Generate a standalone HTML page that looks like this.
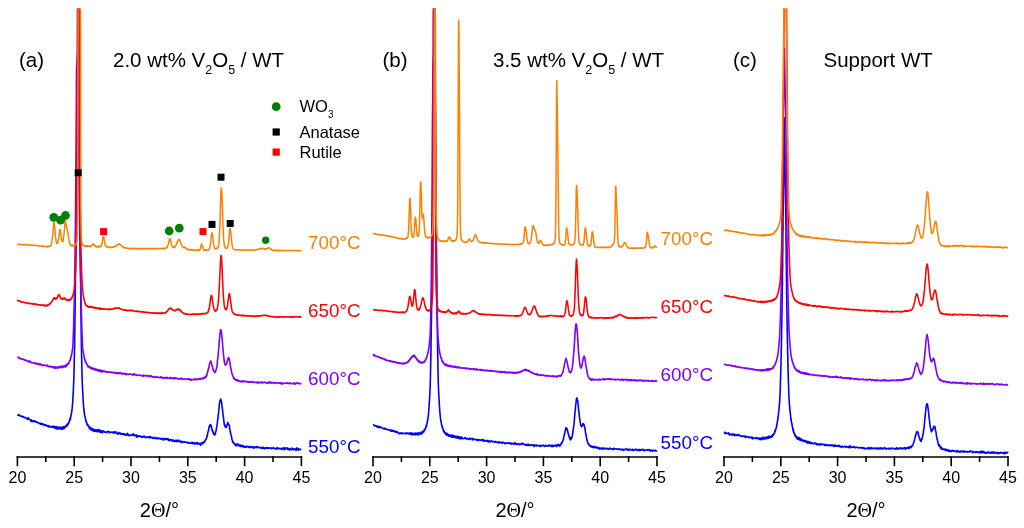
<!DOCTYPE html>
<html><head><meta charset="utf-8"><style>
html,body{margin:0;padding:0;background:#fff;width:1024px;height:528px;overflow:hidden}
svg{display:block;will-change:transform}
text{font-family:"Liberation Sans",sans-serif;fill:#000}
.tt{font-size:20.5px}
.sub{font-size:12.5px}
.sub2{font-size:10px}
.lg{font-size:16.5px}
.tl{font-size:18.8px}
.tk{font-size:16px}
.at{font-size:20px}
</style></head><body>
<svg width="1024" height="528" viewBox="0 0 1024 528">
<defs><clipPath id="clip"><rect x="0" y="8.6" width="1024" height="520"/></clipPath></defs>
<g clip-path="url(#clip)">
<path d="M17.4 414.7l.4 .4l.5 0l.5 -.6l.4 1.2l.4 0l.5 -.3l.5 .7l.4 .1l.4 .2l.5 0l.5 .5l.4 -.5l.4 .5l.5 0l.5 .8l.4 -.1l.4 0l.5 -.1l.5 .5l.4 .3l.4 0l.5 1l.5 .1l.4 -1.7l.4 .6l.5 1l.5 .1l.4 .5l.4 .2l.5 1.1l.5 -1.4l.4 .5l.4 1.4l.5 -.5l.5 .2l.4 -.4l.4 -.4l.5 1l.5 .1l.4 -.5l.4 .5l.5 .4l.5 -.2l.4 .5l.4 .3l.5 .1l.5 -.1l.4 .7l.4 .3l.5 -.1l.5 -.4l.4 .9l.4 -.4l.5 .8l.5 -.8l.4 1.1l.4 -.3l.5 -.4l.5 .6l.4 .3l.4 .3l.5 -.5l.5 .1l.4 .8l.4 -.2l.5 .5l.5 .5l.4 -1.1l.4 1l.5 .6l.5 -.7l.4 -.2l.4 .9l.5 -.2l.5 .4l.4 -.5l.4 -.5l.5 .8l.5 -.1l0 .6l.1 -.3l.1 -.9l.1 .3l.1 1l.1 0l.1 -.7l.1 .4l.1 .2l.1 .2l.1 -.3l.1 -.1l.1 -.1l.1 .7l.1 -1.7l.1 1.1l.1 .1l.1 -.7l.1 .9l0 -.5l.1 .8l.1 -.5l.1 .4l.1 .3l.1 -.4l.1 -.6l.1 -.3l.1 1.6l0 -.9l.1 -.3l.1 .5l.1 -.2l.1 .6l.1 -.4l.1 0l.1 -.4l.1 .6l.1 -.7l.1 .9l0 .4l.1 -1.5l.1 -.5l.1 1.6l.1 1l.1 -1.8l.1 -.1l.1 .9l.1 -.7l0 .2l.1 .1l.1 .4l.1 -.4l.1 .3l.1 -.2l.1 -.3l.1 .3l.1 -.3l.1 .5l.1 -.6l.1 1.3l.1 -.7l.1 0l.1 .3l.1 -.4l.1 .1l.1 .3l.1 -.1l0 -.7l.1 1l.1 -.7l.1 -.2l.1 .1l.1 .3l.1 1l.1 -1.4l.1 .7l.1 -1.2l.1 1.1l0 .4l.1 -.5l.1 -.2l.1 .4l.1 .2l.1 0l.1 .7l.1 -.9l.1 -.4l0 .2l.1 0l.1 .1l.1 -.1l.1 .1l.1 -.9l.1 1.3l.1 -.7l.1 -.4l.1 .9l.1 .4l0 -.4l.1 -.2l.1 -.6l.1 1.9l.1 -1l.1 -1.1l.1 .2l.1 .4l.1 -.8l0 .8l.1 -.3l.1 .8l.1 -.2l.1 -1.8l.1 1.3l.1 -.9l.1 1.4l.1 -.5l.1 .1l.1 -.8l0 1.4l.1 .1l.1 -1.6l.1 .7l.1 -.6l.1 .3l.1 -.7l.1 1.5l.1 -1.4l0 .3l.1 .3l.1 -.6l.1 .2l.1 -.3l.1 .2l.1 -.6l.1 .3l.1 .1l.1 -.2l.1 .2l0 -.2l.1 .4l.1 -.6l.1 .1l.1 -.4l.1 0l.1 -.4l.1 .8l.1 -1l0 .2l.1 .5l.1 -.1l.1 -.5l.1 -.9l.1 1.1l.1 -.2l.1 -.9l.1 1l.1 -.9l.1 -.3l0 .6l.1 -.3l.1 .1l.1 -1.1l.1 1.6l.1 -1.4l.1 -.6l.1 .9l.1 -.6l0 .2l.1 -.4l.1 0l.1 0l.1 -.7l.1 .5l.1 -.8l.1 -.4l.1 .3l.1 0l.1 -.5l0 -.4l.1 .5l.1 -1.4l.1 .1l.1 .3l.1 -1l.1 .4l.1 -.4l.1 .2l0 -1.1l.1 0l.1 .1l.1 -1.7l.1 2.4l.1 -2.3l.1 -.4l.1 .4l.1 -.9l.1 -1.3l.1 1l0 -.2l.1 -1.1l.1 -.4l.1 -.1l.1 -1.2l.1 .1l.1 -.7l.1 -1l.1 -1l0 .1l.1 -.8l.1 .1l.1 -1.4l.1 -.7l.1 -1.4l.1 -1l.1 -1.7l.1 -.5l.1 -.7l.1 -1.8l0 -.9l.1 -1.5l.1 -2l.1 -1.9l.1 -1.6l.1 -2.2l.1 -1.1l.1 -2.9l.1 -2l0 -.8l.1 -1.8l.1 -1.6l.1 -4.5l.1 -3.8l.1 -3.7l.1 -4.1l.1 -5.2l.1 -4.2l.1 -6l.1 -1.3l0 -3.7l.1 -6.4l.1 -6.8l.1 -6.9l.1 -7.6l.1 -8.6l.1 -8.7l.1 -9.1l.1 -10.2l0 -1.9l.1 -2.6l.1 -6l.1 -5.5l.1 -6.7l.1 -5.1l.1 -6.6l.1 -6.3l.1 -6.2l.1 -8.9l.1 -2.3l0 -4.3l.1 -6.6l.1 -8.7l.1 -7.6l.1 -8l.1 -8.3l.1 -9.2l.1 -9.6l.1 -9.4l0 -4.2l.1 -5.4l.1 -11.1l.1 -110.3l.1 -13.4l.1 0l.1 0l.1 0l.1 0l.1 0l.1 0l.1 0l.1 0l.1 13l.1 111.7l.1 10.8l.1 9.6l.1 8.6l.1 10l0 4.7l.1 5.1l.1 6.7l.1 8.8l.1 9l.1 6.4l.1 7.6l.1 8.1l.1 7.2l.1 5.9l.1 3.9l0 3l.1 7l.1 5.3l.1 6.4l.1 4.7l.1 5.9l.1 5.3l.1 10.8l.1 9.1l0 3.8l.1 5.1l.1 8.2l.1 7.3l.1 7l.1 6.7l.1 5.5l.1 6.7l.1 5.2l.1 4.4l.1 3.1l0 1.2l.1 4.6l.1 4l.1 5l.1 1.7l.1 3.5l.1 2.5l.1 1.9l.1 2.5l.1 .3l.1 3.5l.1 1.1l.1 2.3l.1 1.4l.1 2.8l.1 1.5l.1 .5l.1 2l.1 .2l0 .4l.1 1.3l.1 .9l.1 1.4l.1 .8l.1 .6l.1 1.6l.1 -.1l.1 1l0 .4l.1 .8l.1 -.4l.1 1.6l.1 -.2l.1 .3l.1 .2l.1 1.1l.1 .2l.1 -.2l.1 .2l0 .5l.1 .4l.1 1.3l.1 .5l.1 .1l.1 .1l.1 0l.1 .5l.1 .8l0 .8l.1 -.5l.1 -.3l.1 .5l.1 0l.1 .1l.1 .5l.1 .4l.1 1.1l.1 -.7l.1 .8l0 .3l.1 -.7l.1 1l.1 -.2l.1 -.4l.1 .5l.1 .1l.1 0l.1 .2l0 .3l.1 .2l.1 -.5l.1 .6l.1 -.6l.1 1l.1 .3l.1 0l.1 .2l.1 .2l.1 -.5l0 .3l.1 .5l.1 .3l.1 -.2l.1 1.2l.1 -1.2l.1 .7l.1 .2l.1 -.6l0 -.3l.1 -.1l.1 .7l.1 .6l.1 -.3l.1 0l.1 -.2l.1 .6l.1 -1.3l.1 1.3l.1 -.1l0 -.7l.1 1.9l.1 -1.7l.1 .2l.1 0l.1 1.2l.1 -.9l.1 .8l.1 0l0 -.1l.1 -.7l.1 .4l.1 1.2l.1 -1.5l.1 .3l.1 .4l.1 .5l.1 -.2l.1 .3l.1 -.9l0 1.1l.1 -.2l.1 -1l.1 1.6l.1 .4l.1 -1.5l.1 .5l.1 .7l.1 -1.4l0 -.2l.1 .3l.1 .4l.1 .1l.1 .6l.1 -.1l.1 -.7l.1 .9l.1 .7l.1 -.4l.1 -.1l0 -.4l.1 .5l.1 -1l.1 .9l.1 -.4l.1 .6l.1 -.3l.1 -.7l.1 .6l0 .5l.1 -1.1l.1 .3l.1 -.1l.1 -.4l.1 1.3l.1 .2l.1 -.3l.1 -.2l.1 -.1l.1 .1l0 -.5l.1 .9l.1 .1l.1 -.1l.1 -.7l.1 .3l.1 -.1l.1 1l.1 -.8l0 -1l.1 1.1l.1 .8l.1 -.6l.1 .1l.1 -.4l.1 -1l.1 .1l.1 .3l.1 .6l.1 .2l0 .2l.1 -.5l.1 .7l.1 -.6l.1 -.2l.1 .8l.1 -.9l.1 -.9l.1 .9l0 .6l.1 -1.6l.1 1.3l.1 .1l.1 -.6l.1 0l.1 .6l.1 -.1l.1 .9l.1 -.4l.1 -1l0 .4l.1 .8l.1 .6l.1 -.7l.1 -.1l.1 .8l.1 -.9l.1 -.1l.1 -.6l0 .5l.1 1.3l.1 -1.7l.1 .7l.1 -.7l.1 .8l.1 .4l.1 -.6l.1 .5l.1 0l.1 -.1l0 .6l.1 -.4l.1 -.6l.1 -.1l.1 -.1l.1 .7l.1 -.4l.1 1.5l.1 -.4l0 -1l.1 -.1l.1 1l.1 -1.7l.1 .7l.1 .7l.5 -.9l.4 .3l.4 .1l.5 .6l.5 -.2l.4 .1l.4 .2l.5 -.2l.5 .5l.4 -.8l.4 -.3l.5 -.2l.5 .2l.4 .6l.4 .8l.5 -.4l.5 -.3l.4 -.2l.4 .3l.5 .1l.5 0l.4 -.4l.4 .5l.5 .8l.5 -1.6l.4 1l.4 -.9l.5 1.2l.5 -.4l.4 -.6l.4 1.2l.5 .9l.5 -.8l.4 .6l.4 -.5l.5 -1l.5 1.4l.4 -.4l.4 -.4l.5 1.2l.5 -.2l.4 -.4l.4 .8l.5 -.8l.5 .8l.4 -.7l.4 .8l.5 -.7l.5 1.3l.4 -.5l.4 .6l.5 -1l.5 .2l.4 .7l.4 -1.7l.5 .9l.5 1.1l.4 -.2l.4 .4l.5 -.6l.5 .5l.4 -.6l.4 -.3l.5 -.1l.5 .7l.4 0l.4 0l.5 -1.4l.5 .8l.4 .8l.4 .5l.5 -.4l.5 -.1l.4 -.6l.4 2.2l.5 -1.5l.5 1.4l.4 0l.4 -.6l.5 -.4l.5 .4l.4 -.6l.4 .8l.5 -.1l.5 .3l.4 .3l.4 .5l.5 -1.1l.5 .8l.4 -.9l.4 0l.5 .2l.5 -.1l.4 1l.4 .1l.5 .2l.5 -.6l.4 .2l.4 -.4l.5 -.2l.5 .8l.4 0l.4 -.6l.5 .9l.5 -1.2l.4 .9l.4 -.2l.5 .1l.5 -.2l.4 1.1l.4 -.2l.5 .4l.5 -.5l.4 -.6l.4 .5l.5 -.4l.5 .9l.4 .4l.4 -.4l.5 -.4l.5 .2l.4 .4l.4 -.8l.5 .8l.5 .1l.4 -.3l.4 .1l.5 .4l.5 -.5l.4 .1l.4 .8l.5 -.2l.5 .8l.4 -1.3l.4 -.3l.5 1.4l.5 0l.4 -.8l.4 -.3l.5 .8l.5 -.8l.4 .8l.4 -.9l.5 1.1l.5 -.9l.4 1l.4 1l.5 -.9l.5 .6l.4 -.6l.4 -.1l.5 -.2l.5 1.3l.4 -.4l.4 .9l.5 -1.4l.5 .6l.4 .2l.4 .7l.5 .3l.5 -1.2l.4 -.1l.4 -.3l.5 1.6l.5 -.6l.4 -.2l.4 .3l.5 -1.2l.5 .5l.4 1.4l.4 -.2l.5 0l.5 -.6l.4 .9l.4 .7l.5 -1.5l.5 .7l.4 -.2l.4 .5l.5 -.1l.5 0l.4 -.3l.4 .5l.5 -.3l.5 .3l.4 .1l.4 .4l.5 -.5l.5 .2l.4 .7l.4 -.6l.5 .1l.5 .6l.4 -.3l.4 0l.5 .1l.5 -.7l.4 .9l.4 .5l.4 -.4l.1 -1l.5 .9l.3 -.5l.1 .3l.4 .2l.4 -.6l.1 1.3l.5 -.7l.3 .4l.1 0l.4 .3l.4 0l.1 -1.3l.5 .7l.3 -1l.1 .8l.4 .6l.4 .1l.1 .2l.5 -.8l.2 .3l.2 -.1l.4 .6l.3 .1l.2 -1l.5 2.1l.2 -1.9l.2 -.2l.4 .4l.3 0l.2 -.1l.1 -.6l.4 .9l.2 -.8l.2 .7l.2 -.2l.2 -1.5l.3 0l.2 -.1l.2 .5l.3 -.3l.2 -.2l.2 -.8l.3 .3l.1 .2l.3 -1.7l.2 .1l.3 -.4l.2 -.5l.2 -.6l.2 .3l.4 -1.4l0 -.5l.3 -1.6l.2 .7l.4 -2.6l.1 -.6l.2 -.8l.2 -1.1l.4 -.6l.1 -1l.2 -.8l.2 -2l.5 .1l0 -1.1l.2 -.3l.2 .5l.2 -.8l.2 .8l.2 .3l0 -1.4l.3 1.2l.5 .4l.1 1.4l.3 1.3l.4 .4l.2 2.2l.1 -.9l.2 .2l.5 1.8l.1 .9l.1 -.8l.1 .8l.1 -.5l.4 1.8l.2 -.4l.1 -.3l.1 .8l.1 -1.2l.5 .1l.1 .9l0 -1l.3 .2l0 -.7l.4 -1.9l.1 0l.1 -.2l.3 -1.7l0 -.3l.4 -2.2l.1 -.6l.1 -.2l.3 -2l.1 -.3l.2 -3.2l.1 0l.2 -1.5l.3 -3.6l.1 -.3l.1 -.4l.3 -2.5l.1 -1.1l.3 -2.8l.1 -.9l.1 -1l.2 -3.3l.2 -.2l.3 -1.4l.2 -1.4l.3 -.1l.1 -.1l.1 -.5l.1 1l.1 -1.4l.3 1.7l.1 0l.2 .3l.1 1.5l.2 .7l.3 3.3l.2 -.1l0 1.5l.1 0l.3 2.9l.4 3.2l0 .2l.1 1.3l0 -.6l.4 2.9l.4 3.7l0 .3l.1 -.1l0 .4l.4 2.9l.3 -.6l.1 .8l.1 0l0 1l.4 .4l.2 .6l.3 0l0 -.6l0 -.3l.4 -.5l.1 1.5l.3 -1.3l.1 -.3l.1 -.7l.3 -.6l.5 -.9l0 -.1l.2 -1.2l.1 1l.1 -.1l.3 .4l.1 .2l.3 .9l0 -.4l.2 1l.5 .2l.1 1.5l.2 2.2l.1 -.7l.4 2.8l.1 .8l.3 .9l.1 1.2l.4 .8l.1 0l.4 2.1l0 -.1l.3 1.9l.1 .4l.5 1.6l0 -.6l.2 2.2l.3 -.8l.4 .8l.1 .4l0 -.3l.3 .3l.5 .8l.1 .5l.4 .2l.3 .3l.1 -.7l.2 0l.2 1.6l.3 -1l.2 .4l.2 .2l.3 .5l.1 -1.4l.3 .6l.3 .1l.1 .1l.1 -1.1l.4 1.3l.3 -1.3l.1 1.6l.1 .1l.4 .2l.3 -.9l.1 1.1l0 -.9l.5 0l.2 .1l.3 .1l.4 .6l.1 .4l.3 -1.4l.5 .8l.5 .8l.3 -.3l.1 .2l.4 -1l.3 1.3l.2 -1.2l.5 .9l.1 .6l.3 .3l.4 -.6l.5 .2l.5 -.7l.4 .1l.4 .9l.5 -.6l.5 0l.4 -.6l.4 .8l.5 .3l.5 -.7l.4 .2l.4 1.1l.5 -.7l.5 -.2l.4 -.4l.4 .3l.5 .2l.5 .8l.4 -.9l.4 1.2l.5 -1.3l.5 .3l.4 .6l.4 -.5l.5 -.3l.5 .4l.4 .3l.4 -1l.5 .7l.5 .1l.4 -.1l.4 .6l.5 -.6l.5 .1l.4 .2l.4 .4l.5 -.5l.5 .9l.4 -1.2l.4 1.2l.5 -1.1l.5 .4l.4 .3l.4 .8l.5 -.5l.5 -.6l.4 .8l.4 -.7l.5 -.3l.5 .7l.4 -.2l.4 .5l.5 -.8l.5 .5l.4 .2l.4 -.2l.5 -.1l.5 -.3l.4 .8l.4 -.4l.5 .2l.5 -.4l.4 .2l.4 -.5l.5 .6l.5 .4l.4 -.3l.4 .4l.5 -.3l.5 .6l.4 -.8l.4 -.7l.5 1l.5 -.2l.4 -.4l.4 .8l.5 -.2l.5 .2l.4 -.4l.4 .3l.5 0l.5 .8l.4 -1.2l.4 .4l.5 .2l.5 -1.1l.4 .1l.4 1.9l.5 -1.9l.5 1.2l.4 -.7l.4 0l.5 -.6l.5 .6l.4 .9l.4 -1.1l.5 1l.5 -.1l.4 .9l.4 -1.3l.5 .9l.5 -.1l.4 -.6l.4 -.7l.5 1.6l.5 -1.4l.4 .5l.4 .7l.5 .1l.5 -.9l.4 .4l.4 -.1l.5 .7l.5 .7l.4 -2.1l.4 1.4l.5 -1.9l.5 1.4l.4 -.5l.4 1.6l.5 -.9l.5 -.5l.4 .2l.4 0l.5 .4l.5 -.2" stroke="#0000ff" stroke-width="1.6" fill="none" stroke-linejoin="round"/>
<path d="M17.4 357.4l.4 -.1l.5 .2l.5 -.5l.4 1.6l.4 -.1l.5 -.3l.5 .5l.4 0l.4 -.1l.5 .7l.5 -.3l.4 .1l.4 0l.5 .6l.5 0l.4 .4l.4 -.3l.5 .4l.5 -.2l.4 .8l.4 -.1l.5 .2l.5 .2l.4 -.3l.4 .8l.5 .6l.5 -1.2l.4 .2l.4 .2l.5 1l.5 -.1l.4 .5l.4 0l.5 0l.5 .1l.4 -.1l.4 .5l.5 -.6l.5 .4l.4 .3l.4 .6l.5 -.8l.5 0l.4 .3l.4 .7l.5 -.4l.5 .7l.4 -1l.4 1.1l.5 .1l.5 -.8l.4 .7l.4 .4l.5 -.3l.5 .5l.4 .5l.4 -.6l.5 -.1l.5 -.1l.4 .6l.4 -.2l.5 .1l.5 .2l.4 .3l.4 -.5l.5 0l.5 -.3l.4 1.4l.4 -.3l.5 .6l.5 -.4l.4 -.2l.4 .5l.5 -.1l.5 -.3l.4 .2l.4 1l.5 -.4l.2 .1l.1 -.2l.1 -.1l.1 .5l0 -.3l.1 -.2l.1 .2l.1 -.2l.1 .4l.1 .3l.1 -.7l.1 .9l.1 -.8l0 .3l.1 -.3l.1 .2l.1 .2l.1 -.2l.1 -.1l.1 .1l.1 -.1l.1 -.2l.1 .5l.1 .2l0 .2l.1 -.1l.1 .7l.1 -.8l.1 -.2l.1 .8l.1 -1l.1 .7l.1 -.6l0 .4l.1 -.8l.1 1l.1 -.4l.1 -.3l.1 .9l.1 -.3l.1 -.2l.1 -.3l.1 .2l.1 0l0 .3l.1 0l.1 -.5l.1 0l.1 0l.1 -.3l.1 .3l.1 .1l.1 .3l0 .2l.1 -.7l.1 .4l.1 -.3l.1 .8l.1 -.7l.1 .2l.1 -.5l.1 0l.1 .3l.1 -.2l0 .3l.1 -.7l.1 .8l.1 -.6l.1 .9l.1 -.7l.1 .5l.1 -.9l.1 .6l0 -.4l.1 .1l.1 .2l.1 -.2l.1 .2l.1 .2l.1 -.1l.1 -.2l.1 -.5l.1 .2l.1 .2l0 -.7l.1 1l.1 -.4l.1 0l.1 .4l.1 -.1l.1 -.1l.1 -.5l.1 .5l.1 -.5l.1 .7l.1 -.2l.1 -.9l.1 .7l.1 -.5l.1 .8l.1 -.1l.1 -.7l.1 .1l0 .3l.1 -.1l.1 .6l.1 -.3l.1 -.4l.1 .3l.1 -.9l.1 .8l.1 .2l0 -.4l.1 -.2l.1 .4l.1 .5l.1 -.6l.1 -.5l.1 .9l.1 -1.2l.1 .8l.1 -.4l.1 .5l0 -.6l.1 .7l.1 -.4l.1 -.7l.1 -.1l.1 .5l.1 .6l.1 -.5l.1 0l0 -.1l.1 .3l.1 -.1l.1 -.1l.1 -.5l.1 .7l.1 0l.1 -1l.1 1.3l.1 -.6l.1 -.5l0 -.5l.1 .8l.1 -.1l.1 -.4l.1 -.5l.1 .9l.1 -.6l.1 0l.1 1.1l0 -.3l.1 -.5l.1 -.6l.1 .4l.1 -1.1l.1 .7l.1 -.4l.1 -.3l.1 -.1l.1 .6l.1 -.2l.1 .1l.1 -.7l.1 -.2l.1 -.3l.1 .4l.1 .2l.1 -.4l.1 .1l0 -.7l.1 .2l.1 -.2l.1 -.3l.1 .9l.1 -.5l.1 -.8l.1 -.1l.1 0l.1 -.6l.1 .5l0 -.7l.1 .1l.1 -.4l.1 0l.1 -.5l.1 -.4l.1 0l.1 -.1l.1 -.2l.1 .4l.1 -.5l.1 -.7l.1 .1l.1 -.8l.1 .4l.1 -.6l.1 -1l.1 .4l.1 -.2l0 -1.4l.1 .3l.1 -.3l.1 -1l.1 -.1l.1 -.4l.1 0l.1 -.6l.1 .3l0 -1.3l.1 .2l.1 -.9l.1 -.5l.1 -1.1l.1 -.9l.1 -.3l.1 -.1l.1 -.5l.1 -1l.1 -.5l0 -1.3l.1 -1l.1 -2.2l.1 -2.8l.1 -2.3l.1 -2.9l.1 -2l.1 -3.5l.1 -3.5l0 -1.6l.1 -1.8l.1 -4.3l.1 -3.7l.1 -3.7l.1 -4.1l.1 -3.4l.1 -3.9l.1 -6.1l.1 -4.5l.1 -2.6l0 -3.3l.1 -5.4l.1 -6.6l.1 -5.7l.1 -7.6l.1 -7.2l.1 -7.7l.1 -9.1l.1 -9.8l0 -4.4l.1 -4.6l.1 -10.9l.1 -11.3l.1 -12.6l.1 -12.5l.1 -13.7l.1 -15l.1 -15.2l.1 -17.7l.1 -9.2l0 -9.4l.1 -18.4l.1 -1.7l.1 -.9l.1 -1.5l.1 -.9l.1 -1.5l.1 -1.9l.1 -1.1l0 -.4l.1 -1.4l.1 -.4l.1 -1.5l.1 -1.4l.1 -1.8l.1 1.6l.1 .8l.1 1.8l.1 1.1l.1 .9l0 .5l.1 1.6l.1 1.7l.1 .4l.1 2.1l.1 .3l.1 1.3l.1 2l.1 19.4l0 9.4l.1 8.2l.1 17.5l.1 15.9l.1 15.2l.1 13.4l.1 13.2l.1 11.7l.1 11.6l.1 10.5l.1 5.5l0 4.3l.1 9.4l.1 9.1l.1 8.4l.1 7l.1 6.9l.1 6.3l.1 6.7l.1 5.6l0 3.2l.1 2.2l.1 4.7l.1 5l.1 4.3l.1 4.1l.1 4.8l.1 3.6l.1 2.7l.1 5l.1 1.4l0 1.3l.1 3.9l.1 2.9l.1 2.6l.1 2.2l.1 3.1l.1 2.4l.1 1l.1 3l0 .9l.1 0l.1 1l.1 .5l.1 .5l.1 .9l.1 1.2l.1 -.3l.1 1.2l.1 .5l.1 0l0 .4l.1 .2l.1 .7l.1 .8l.1 .6l.1 0l.1 1.8l.1 -.8l.1 .6l0 .1l.1 .1l.1 1l.1 -.3l.1 1l.1 .2l.1 -.4l.1 1l.1 -.3l.1 1.5l.1 -1l.1 -.1l.1 .5l.1 .5l.1 .1l.1 .1l.1 .5l.1 .4l.1 .7l0 -1l.1 .6l.1 0l.1 0l.1 .3l.1 .3l.1 .7l.1 -.1l.1 0l.1 .6l.1 -.1l0 -.1l.1 .4l.1 -.3l.1 .6l.1 .1l.1 -.2l.1 -.1l.1 1l.1 -.4l0 1.1l.1 -1.2l.1 .6l.1 -.3l.1 .3l.1 .3l.1 -.5l.1 .4l.1 .2l.1 0l.1 .2l0 .2l.1 .1l.1 -.2l.1 -.1l.1 -.2l.1 .2l.1 .2l.1 .4l.1 -.3l0 -.2l.1 .7l.1 -.5l.1 .1l.1 .2l.1 .4l.1 -1l.1 .5l.1 .5l.1 -.1l.1 -.2l0 .1l.1 .7l.1 -.6l.1 .5l.1 0l.1 -.4l.1 .4l.1 -.3l.1 -.1l0 -.1l.1 .7l.1 -.4l.1 -.1l.1 -.1l.1 1l.1 -.3l.1 -.3l.1 -.1l.1 -.3l.1 .7l.1 -.6l.1 1l.1 -.1l.1 -.6l.1 .2l.1 .1l.1 .2l.1 -.1l0 -.5l.1 1.1l.1 -.3l.1 .3l.1 .1l.1 -.5l.1 .2l.1 .2l.1 0l.1 -.3l.1 -.1l0 .2l.1 -.2l.1 .1l.1 -.5l.1 .8l.1 -.4l.1 .2l.1 .2l.1 .2l0 .5l.1 -.5l.1 -.6l.1 .6l.1 -.2l.1 .3l.1 -.3l.1 0l.1 .1l.1 0l.1 -.4l0 .4l.1 .3l.1 .4l.1 -.5l.1 0l.1 .4l.1 0l.1 .4l.1 -.3l0 -.2l.1 .5l.1 .1l.1 -.7l.1 .2l.1 -.6l.1 .5l.1 -.1l.1 .2l.1 0l.1 .1l.1 .3l.1 -.1l.1 -.3l.1 -.2l.1 .9l.1 .1l.1 -.6l.1 .4l0 -.8l.1 0l.1 .5l.1 .7l.1 -.9l.1 .1l.1 .9l.1 -1.2l.1 .9l.1 0l.1 -.3l0 .2l.1 .9l.1 -1.3l.1 .3l.1 0l.1 -.1l.1 -.2l.1 1.1l.1 -.5l0 -.7l.1 .4l.1 .4l.1 0l.1 -.6l.1 .5l.1 .1l.1 .1l.1 0l.1 -.8l.1 1.3l0 -.5l.1 .5l.1 .4l.1 -1l.1 -.4l.1 .8l.1 -.4l.1 -.1l.1 -.2l0 1l.1 -.7l.1 -.4l.3 .4l.5 -.2l.4 .5l.4 -.1l.5 -.2l.5 .7l.4 -.4l.4 .5l.5 .3l.5 -.5l.4 -.1l.4 .4l.5 .3l.5 -.3l.4 .1l.4 0l.5 .2l.5 .1l.4 -.4l.4 .1l.5 .3l.5 -.2l.4 .3l.4 .2l.5 -.1l.5 -.2l.4 0l.4 .9l.5 -.2l.5 -.7l.4 .2l.4 1l.5 -.1l.5 -.5l.4 .5l.4 -.9l.5 .6l.5 .3l.4 -.9l.4 .4l.5 .6l.5 .2l.4 -.6l.4 .4l.5 .5l.5 -.7l.4 -.2l.4 .5l.5 -.1l.5 .6l.4 -.3l.4 -.3l.5 1.2l.5 -1l.4 .4l.4 .1l.5 .1l.5 -.2l.4 .2l.4 -.2l.5 -.4l.5 .5l.4 0l.4 .1l.5 .1l.5 -.2l.4 .7l.4 .2l.5 -1.3l.5 .8l.4 -.2l.4 -.6l.5 1.1l.5 -.3l.4 .1l.4 0l.5 .6l.5 .1l.4 -.3l.4 .2l.5 -.2l.5 .1l.4 -.2l.4 .3l.5 -.2l.5 .4l.4 .2l.4 -.1l.5 .3l.5 .6l.4 -1.6l.4 .7l.5 -.1l.5 .1l.4 -.3l.4 .5l.5 0l.5 -.1l.4 .2l.4 -.1l.5 -.6l.5 1.3l.4 -.5l.4 -.1l.5 .5l.5 -.3l.4 -.5l.4 1.1l.5 -.9l.5 .6l.4 .2l.4 .4l.5 0l.5 -.3l.4 -.3l.4 .2l.5 .6l.5 .3l.4 -.4l.4 -.4l.5 .6l.5 -.4l.4 0l.4 .1l.5 .4l.5 -.1l.4 .3l.4 .2l.5 -.3l.5 -.9l.4 .2l.4 .7l.5 -.1l.5 .9l.4 -.8l.4 0l.5 .4l.5 .1l.4 -.4l.4 .3l.5 -.6l.5 .1l.4 .8l.4 -.9l.5 .9l.5 -.1l.4 .1l.4 .1l.5 -.1l.5 -1l.4 .5l.4 .1l.5 .6l.5 -.7l.4 .2l.4 .2l.5 .6l.5 -1l.4 .1l.4 .7l.5 -.9l.5 .9l.4 -.3l.4 -.3l.5 .4l.5 -.2l.4 .5l.4 .1l.5 .4l.5 -.5l.4 .1l.4 -.2l.5 .2l.5 .4l.4 -1l.4 .9l.5 -.4l.5 .3l.4 .1l.4 .2l.5 -.2l.5 -.2l.4 .3l.4 -.1l.5 -.1l.5 .2l.4 .3l.4 -.3l.5 .1l.5 -.5l.4 .4l.4 -.6l.5 1l.5 -.6l.4 .8l.4 .6l.5 -1.1l.5 .6l.4 -.3l.4 -.3l.5 -.1l.5 .5l.4 .3l.4 -.4l.5 -.7l.5 .1l.4 .3l.4 .5l.4 -.4l.1 0l.5 .3l.1 -.5l.3 0l.4 -.1l.1 -.5l.4 .7l.4 -.1l.1 .2l.4 -.8l.2 .1l.2 .6l.5 -.3l.1 .4l.4 -.8l.4 .3l0 -.4l.4 .3l.4 -.3l.1 .3l.5 .1l.1 -.2l.3 -.9l.4 .8l.1 -.2l.4 -.7l.4 -.1l.1 .3l.4 0l.2 -.5l.2 -.6l.2 .5l.3 -.3l.1 .7l.4 -1.8l0 1.3l.4 -.9l0 -.6l.4 -.4l0 -.7l.3 -.4l.2 -1.1l.3 -.7l.2 -.9l.1 -.8l.3 -.8l.2 -1l.2 -.7l.1 .1l.4 -2.4l.1 -.4l.2 -1l.2 -1l.4 -.9l.2 -.6l.2 -.3l.2 -.5l.2 -.3l.1 .7l.1 .3l.4 1.2l.2 .7l.2 .6l0 -.2l.4 2l.2 .2l.1 .7l.2 .8l.5 2.3l0 -.7l.1 -.3l.3 1.8l.4 .2l0 .3l.1 -.1l.3 .2l.1 .9l.3 -.1l0 -.4l.2 .2l.1 -.3l.3 .1l.2 -.7l.2 -.7l.1 -.2l.4 -1.3l.1 0l0 -.6l.3 -1.1l.1 -.2l.3 -1.9l.1 -1l.2 -3.4l.2 -.9l.3 -2.5l.1 -.7l.1 -.6l.1 -1.6l.4 -4.9l.1 -.7l.1 -1.5l.2 -2.1l.4 -6.3l.2 -1l.2 -2.5l.1 -.9l.3 -2.5l.2 -.1l0 -1.3l.1 -.9l.3 .3l.2 -.3l.2 1.6l0 -.6l.1 .2l.4 3.8l.1 .1l.2 2.8l.1 -.2l.1 2.1l.3 3.6l.1 1.5l.2 1.7l0 .2l.2 3l.3 2.8l.2 2.6l.1 .5l.4 3.2l.1 .8l.3 3l0 -1.3l.4 2.8l0 -.5l.3 1l.1 -.2l.1 .8l.3 -.7l.2 0l.1 .2l.1 -.4l.2 .2l.4 -1.1l.1 -.7l.1 .1l.3 -1.6l.3 -1l.2 -.4l0 .5l.4 -1.7l.2 -.7l.2 -.2l0 .8l.2 -1l.3 .9l.1 .2l.2 0l.2 1.3l.4 2.4l.2 .7l.2 2l.3 1.5l.2 1.6l.1 -.4l.4 2l.1 .9l.3 1.4l.4 1.9l.1 0l.3 .9l.1 0l.3 1.3l.2 0l.2 .6l.2 .6l.2 .7l.2 .5l.2 -.5l.3 .8l.1 .3l.4 0l0 -.5l.3 .1l.1 1l.4 .3l0 -.2l.3 -.3l.2 .9l.3 .1l.2 -.4l.1 0l.3 -.5l.4 1.1l.5 -.7l.3 .9l.2 0l.4 -.1l.2 .6l.2 -.6l.5 .4l.1 0l.4 -.1l.3 -.1l.1 .6l.4 -.2l.3 -.2l.2 0l.5 .2l.1 .8l.3 -.8l.4 0l0 -.3l.5 0l.3 -.2l.2 .8l.4 -.1l.4 -.3l.5 -.1l.5 .4l.4 0l.4 -.3l.5 .6l.5 0l.4 0l.4 .3l.5 -.5l.5 .8l.4 -.9l.4 .6l.5 .1l.5 -.3l.4 .2l.4 -.5l.5 -.1l.5 .5l.4 -.2l.4 .5l.5 -.2l.5 .3l.4 -.1l.4 0l.5 -.1l.5 -.1l.4 0l.4 .9l.5 -1.3l.5 .5l.4 .5l.4 -.2l.5 .3l.5 -.2l.4 -.7l.4 .4l.5 -.4l.5 .9l.4 .2l.4 -.7l.5 .4l.5 -.4l.4 -.3l.4 .4l.5 -.4l.5 .4l.4 .2l.4 .2l.5 .3l.5 -.6l.4 .2l.4 .1l.5 .1l.5 -1.2l.4 .7l.4 .6l.5 -.7l.5 .5l.4 .2l.4 -.9l.5 .6l.5 .2l.4 -.1l.4 -.5l.5 .6l.5 -.3l.4 .5l.4 -.1l.5 -.3l.5 .3l.4 -.3l.4 0l.5 -.3l.5 .5l.4 .3l.4 -.2l.5 0l.5 -.2l.4 0l.4 .5l.5 -.8l.5 1.3l.4 -.8l.4 .8l.5 -.3l.5 -.6l.4 .5l.4 -.2l.5 .1l.5 .1l.4 -.4l.4 0l.5 0l.5 -.3l.4 .4l.4 .2l.5 0l.5 0l.4 -.2l.4 .4l.5 -.9l.5 .6l.4 0l.4 .4l.5 0l.5 0l.4 -.2l.4 .3l.5 -.7l.5 .4l.4 -.7l.4 1.3l.5 0l.5 -.8l.4 0l.4 -.5l.5 .2l.5 .6l.4 -.1l.4 -.4l.5 .4l.5 -.1l.4 .4l.4 .1l.5 -.3l.5 .1" stroke="#8000ff" stroke-width="1.6" fill="none" stroke-linejoin="round"/>
<path d="M17.4 301.1l.4 -.8l.5 .7l.5 -.1l.4 .1l.4 .2l.5 -.2l.5 .4l.4 0l.4 1l.5 -.5l.5 0l.4 .1l.4 .1l.5 0l.5 .2l.4 .3l.4 0l.5 .3l.5 -.1l.4 .1l.4 .4l.5 -.2l.5 -.1l.4 .1l.4 .2l.5 .4l.5 -.4l.4 .1l.4 .3l.5 -.3l.5 .2l.4 .3l.4 0l.5 0l.5 .2l.4 -.7l.4 .9l.5 -.4l.5 0l.4 .4l.4 .2l.5 -.2l.5 0l.4 .2l.4 .1l.5 .4l.5 -.1l.4 -.1l.4 .3l.5 -.2l.5 -.1l.4 .4l.4 0l.5 -.1l.5 0l.4 .3l.4 -.5l.1 .6l.4 0l.1 -.4l.4 .4l.2 -.2l.2 .4l.4 -.5l0 .2l.5 .4l0 .1l.5 -.6l.1 .3l.3 .2l.2 -.1l.2 .3l.4 -.7l.1 .2l.4 -.5l.1 .5l.4 -.5l.1 -.1l.3 -.5l.2 .6l.3 -.4l.3 -.1l.2 -.1l.4 -.4l0 -.2l.4 -.4l.1 0l0 .4l.4 -.9l0 .1l.1 -.1l.4 -.2l.2 -.7l.2 -.3l0 .2l.4 -.3l0 -.2l.1 -.2l.4 -.9l0 .1l.1 -.2l.4 -.5l0 -.5l.1 .1l.3 -.6l.1 0l.1 -.2l0 .5l.1 -.3l.1 -.1l0 -.8l.1 .3l.1 0l0 .2l.1 -.6l.1 .6l.1 -.4l.1 0l0 .1l.1 .2l0 .1l.1 .3l.1 -.4l0 .3l.1 -.2l0 .4l.1 -.2l0 .2l.1 -.4l.1 .2l0 -.1l.1 .5l.1 -.1l0 -.2l.1 .2l.1 -.2l.1 0l0 .3l0 .4l.1 -.5l.1 0l0 -.2l.1 0l.1 .4l.1 0l.1 -.2l0 .1l.1 -.1l.1 -.4l0 .3l.1 0l.1 -.2l.1 -.1l.1 .2l.1 -.4l.1 0l0 .1l.1 -.2l.1 .1l0 -.8l.1 .4l0 -.3l.1 -.1l0 .1l.1 -.1l.1 -.2l0 -.3l.1 .1l.1 -.6l.1 0l.1 -.5l0 .4l.1 -.3l0 .2l.1 -.7l.1 -.2l.1 0l0 -.3l.1 .1l.1 -.2l0 .3l0 -.4l.1 .2l.1 -.3l.1 -.1l0 .1l.1 -.1l0 .3l.1 .3l.1 -.1l0 .1l0 .3l.1 -.2l.1 .2l.1 .1l0 -.3l.1 .7l.1 -.3l0 .5l.1 .1l.1 .5l.1 -.2l0 .4l.1 -.1l.1 .2l0 .1l.1 .1l0 .1l.1 0l0 .2l.1 -.2l.1 .5l.1 0l.1 .6l.1 -.5l0 .4l.1 .1l0 -.2l.1 .4l.1 -.2l0 -.2l.1 .4l.1 .1l0 -.3l.1 .4l.1 .1l.1 -.3l0 .1l.1 .1l.1 -.1l0 .5l.1 -.3l0 -.3l.1 .1l.1 .1l.1 .5l0 -.5l.1 0l.1 .1l0 -.2l.1 .5l.1 -.6l0 .2l.1 -.2l0 .1l0 -.3l.1 .5l.1 -.4l.1 -.2l.1 0l0 .2l.1 0l.1 0l.1 -.1l.1 -.2l0 .2l0 -.1l.1 -.2l.1 .2l0 .1l.1 -.2l0 -.2l.1 .2l.1 .3l0 -.5l.1 .1l.1 .3l.1 -.6l.1 .5l0 .1l.1 -.3l0 .4l0 -.1l.1 -.2l.1 .2l.1 -.3l.1 .3l0 .5l.1 -.5l.1 .7l.1 -.3l.1 .3l.1 -.1l0 -.5l.1 .4l0 .2l0 -.3l.1 .1l.1 .4l.1 -.1l.1 -.2l0 .2l.1 .4l0 -.2l.1 .3l.1 .2l.1 -.2l0 -.3l.1 .3l.1 .2l.1 -.1l0 .1l.1 -.2l.1 .2l0 -.1l.1 0l.1 -.2l.1 0l0 .2l.1 -.1l.1 .3l0 -.1l.1 .6l.1 -.4l.1 -.3l.1 .3l.1 -.1l.1 -.1l.1 .3l.1 -.3l0 -.5l.1 .8l.1 -.3l0 .4l.1 -.4l.1 -.1l.1 .5l.1 -.5l.1 .3l0 .2l.1 -.3l.1 0l.1 0l0 .1l.1 -.3l.1 .3l.1 -.1l0 .4l.1 -.6l.1 -.1l.1 .2l.1 -.2l.1 .1l0 -.1l0 .2l.1 -.4l.1 .1l.1 -.6l.1 .3l.1 .4l.1 -.5l0 -.1l.1 -.1l.1 .2l.1 -.2l.1 -.3l0 .3l.1 -.2l0 .1l.1 -.4l.1 .4l.1 -.4l.1 -.3l.1 -.2l.1 -.1l0 .2l.1 -.4l0 .2l.1 -.2l.1 -.1l.1 -.3l.1 -.4l0 -.4l.1 .3l.1 -.1l.1 -.4l.1 -.1l.1 -.5l.1 -.2l0 -.2l0 .4l.1 -.5l.1 -.5l.1 -.5l.1 -.2l.1 0l0 -.4l.1 -.4l.1 0l.1 -.5l0 -.3l.1 -.2l.1 -.4l.1 -.6l.1 -.8l.1 -.1l.1 -.9l.1 -.6l.1 -1.8l.1 -.5l.1 -.8l0 -.4l.1 -1.1l.1 -1.3l.1 -1.6l.1 -1.3l.1 -1.3l.1 -1.5l.1 -1.9l.1 -2.3l0 -1.2l.1 -1.1l.1 -3.1l.1 -3l.1 -2.8l.1 -3.6l.1 -3.6l.1 -3.7l.1 -4.1l.1 -5.6l.1 -2.5l0 -3.4l.1 -5.9l.1 -7.2l.1 -7.4l.1 -7.7l.1 -13.2l.1 -14.7l.1 -16.4l.1 -18.5l0 -10.4l.1 -10.9l.1 -23.6l.1 -27.3l.1 -30.4l.1 -34.5l.1 -1.7l.1 0l.1 0l.1 0l.1 0l.1 0l.1 0l.1 0l.1 0l.1 0l.1 0l.1 0l.1 0l.1 0l.1 0l.1 0l.1 0l.1 2.4l.1 34.9l.1 30.1l.1 27.3l.1 24l.1 10.7l0 10.7l.1 18.8l.1 16.1l.1 14.7l.1 13.4l.1 8.1l.1 7.3l.1 7.1l.1 6.4l0 3l.1 3.1l.1 5.3l.1 4.5l.1 3.9l.1 3.6l.1 3.5l.1 3.3l.1 2.9l.1 2.4l.1 1.7l0 1.1l.1 2.7l.1 1.5l.1 1.7l.1 1.6l.1 1.8l.1 1.1l.1 1.2l.1 1.4l0 .5l.1 .7l.1 1.1l.1 1.1l.1 1.4l.1 .3l.1 .7l.1 .6l.1 .7l.1 .2l.1 .4l0 .4l.1 .6l.1 .4l.1 .4l.1 .4l.1 .7l.1 .6l.1 .2l.1 .4l0 .3l.1 -.1l.1 .5l.1 .3l.1 .5l.1 .2l.1 .1l.1 .8l.1 .4l.1 -.1l.1 .2l0 .1l.1 .4l.1 -.2l.1 .9l.1 -.2l.1 .5l.1 -.1l.1 0l.1 .2l0 .3l.1 -.3l.1 .2l.1 .1l.1 -.2l.1 .7l.1 0l.1 -.1l.1 .4l.1 -.4l.1 .2l0 .4l.1 -.1l.1 -.6l.1 -.2l.1 .5l.1 .5l.1 -.3l.1 .1l.1 .2l0 -.3l.1 .3l.1 .1l.1 0l.1 0l.1 -.2l.1 .3l.1 -.2l.1 .4l.1 .2l.1 -.6l0 -.3l.1 .4l.1 .1l.1 .2l.1 0l.1 -.4l.1 0l.1 .4l.1 -.4l0 .4l.1 -.3l.1 .2l.1 0l.1 0l.1 0l.1 -.4l.1 .3l.1 -.1l.1 .1l.1 .1l0 -.3l.1 -.1l.1 0l.1 .1l.1 .2l.1 -.3l.1 .5l.1 -.2l.1 -.1l0 -.2l.1 .4l.1 .1l.1 -.5l.1 .6l.1 .2l.1 -.3l.1 .1l.1 .4l.1 -.2l.1 -.4l0 .2l.1 0l.1 0l.1 -.4l.1 .6l.1 -.2l.1 .2l.1 -.1l.1 .2l0 -.2l.1 -.1l.1 .3l.1 .2l.1 -.3l.1 .4l.1 -.2l.1 -.2l.1 .5l.1 -.5l.1 .4l0 -.3l.1 .2l.1 -.3l.1 .1l.1 .4l0 -.2l.1 0l.1 -.1l.1 .2l.1 -.3l.1 .3l.1 -.2l.1 .1l.1 .1l.1 0l.1 0l.1 .4l.1 -.1l.1 .1l0 -.3l.1 -.1l0 -.1l.1 .2l.1 -.3l.1 .3l.1 .3l.1 .2l.1 -.1l.1 -.4l.1 .3l0 -.3l.1 .4l.1 -.2l.1 .2l0 .4l.1 -.4l.1 .3l.1 -.4l.1 -.1l.1 .4l.1 .1l.1 -.5l0 .2l.1 -.3l.1 .3l.1 .2l.1 -.2l.1 -.1l0 -.1l.1 .3l.1 .1l.1 0l0 -.1l.1 -.2l.1 .6l.1 -.4l.1 0l.1 .2l.1 -.5l.1 .4l.1 0l.1 .1l.1 .2l0 -.2l.1 -.4l.1 .3l.1 .1l.1 0l.1 -.2l.1 -.1l.1 .5l.1 -.1l.1 -.4l.1 .7l.1 -.9l.1 .5l0 .5l.1 -.4l.1 .1l.1 -.3l.1 .5l.1 -.5l.1 .3l.1 -.2l.1 .3l.1 -.4l.1 .2l.1 .1l.1 -.1l0 .2l.1 .1l.1 -.2l0 -.1l.1 0l.1 .1l.1 .2l.1 -.2l.1 .1l.1 -.1l.1 -.1l.1 .3l.1 -.3l.1 .2l0 .3l0 -.5l.1 .2l.3 -.3l.4 .2l.5 -.1l0 .2l.5 0l.4 .2l.3 .3l.1 -.3l.5 .1l.5 -.1l.1 -.1l.3 -.1l.4 -.1l.5 .3l.1 .4l.4 -.3l.4 -.2l.4 .5l0 -.5l.5 0l.5 -.1l.2 0l.2 .1l.4 .4l.5 -.5l.2 -.2l.3 .1l.4 0l.4 -.4l.1 .3l.4 .1l.5 -.2l.3 -.1l.1 -.4l.4 -.2l.5 .5l.3 -.1l.2 -.5l.4 .2l.4 -.1l.2 .1l.3 -.1l.3 -.1l.2 .1l.4 .1l.4 -.3l.5 -.1l.3 .6l.2 -.2l.4 .6l.4 .2l.3 0l.2 0l.5 .2l.4 .4l.1 -.3l.3 .4l.5 .1l.4 0l.1 .3l.4 -.4l.4 .5l.4 -.3l.1 0l.5 0l.4 .4l.2 -.2l.2 .2l.5 -.2l.5 .5l0 .2l.4 -.3l.4 .3l.5 -.2l0 .3l.5 -.3l.4 -.3l.3 .6l.1 -.3l.5 -.2l.5 .1l.1 -.2l.3 .4l.4 -.2l.5 .6l.1 -.2l.4 -.4l.4 .1l.4 .2l0 -.2l.5 .4l.5 .1l.2 -.2l.2 .1l.4 .3l.5 .2l.1 0l.4 -.2l.4 .2l.4 -.3l.1 .3l.4 -.3l.5 .4l.3 -.3l.1 .1l.4 .2l.5 .2l.2 -.4l.3 .2l.4 .2l.4 .1l.2 -.2l.3 .2l.5 0l.4 .3l.4 -.1l.5 -.3l.5 -.1l.4 .5l.4 .3l.5 -.2l.5 .2l.4 -.2l.4 -.2l.5 .5l.5 -.1l.4 .2l.4 -.4l.5 .4l.5 -.1l.4 .3l.4 -.2l.5 0l.5 .1l.4 .4l.4 -.2l.5 -.2l.5 0l.4 0l.4 .5l.5 -.6l.2 .2l.3 .3l.4 .1l.2 -.2l.2 .2l.5 0l.1 0l.4 -.1l.4 .3l.1 -.3l.3 .3l.3 -.5l.2 .4l.1 -.4l.4 -.1l.4 .4l0 -.2l.4 .2l.5 -.2l0 .5l.2 -.3l.3 -.2l.3 .2l.1 .2l.4 -.4l0 .3l.4 .3l.1 -.2l.5 -.2l.1 -.1l.1 .2l.2 -.4l.4 -.3l.3 .5l.1 -.1l.1 .5l.5 -.3l.2 -.3l.2 0l.2 .3l.2 -.3l.2 0l.3 .1l.3 0l.2 -.1l.1 0l.3 .1l.4 -.1l.2 -.7l.3 .7l.5 -.8l0 .1l.3 -.6l.1 .1l.4 -.4l.1 -.1l.4 -.3l.1 -.2l.4 -.8l.4 -.4l.3 -.2l.1 -.1l0 -.3l.5 -.4l.4 -.3l.1 -.2l0 -.1l.3 .5l.1 -.4l.3 .2l.1 -.1l.3 .5l.2 .3l.3 -.2l.2 .3l.4 .2l0 .5l.2 .1l.2 -.2l.5 .7l.2 0l.3 .1l.4 .2l.2 -.2l.2 0l0 .3l.5 -.2l.1 -.2l.4 .5l.1 -.6l.3 -.2l.1 0l.3 0l.4 -.1l.1 -.2l.1 .1l.4 -.7l.4 .1l.2 0l.2 .1l.3 -.5l.2 1.1l0 -.8l.3 .3l.2 .2l.4 .2l.4 -.3l.2 .5l.2 .6l.1 -.3l.5 .4l.3 .1l.1 .8l.4 .3l.3 0l.2 .3l.1 .1l.4 .1l.2 .3l.2 .3l.3 .2l.1 .3l.2 -.2l.3 .1l.5 .3l0 -.2l.1 -.1l.3 .6l.4 -.2l.2 .2l.1 .1l.2 -.3l.5 .4l.4 -.1l0 .1l.4 -.2l.1 -.3l.4 .5l.2 -.1l.3 .3l.4 -.1l.4 -.1l0 .1l.5 .3l.5 -.1l.1 -.1l.3 0l.4 -.2l.4 .1l.1 .1l.5 -.1l.4 .1l.2 -.3l.2 -.1l.5 -.1l.3 .3l.2 .3l.4 0l.4 -.4l.2 -.2l.3 .5l.5 -.1l.3 -.3l.1 .4l.4 -.2l.5 .3l.1 -.2l.4 .1l.4 -.2l.3 -.2l.1 .1l.5 -.1l.5 .3l0 -.4l.4 -.1l.4 .4l.3 .1l.2 0l.5 -.1l.4 -.5l.4 .1l.4 0l.1 .1l.4 -.5l.1 .4l.4 0l0 -.2l.4 .2l.1 .2l.4 -.3l.1 .2l.4 0l.1 -.2l.3 0l.2 -.2l.2 .3l.2 -.4l.3 -.1l.2 .2l.3 -.3l.2 .2l.2 0l.3 -.3l.1 -.1l.4 0l.1 -.1l.4 -.9l.1 0l.4 -.1l.4 -1.3l.1 -.7l.4 -1.4l.1 -.1l.4 -2.2l.1 -.6l.3 -2.3l.2 -1.2l.2 -2.5l.3 -1.2l.2 -1.2l.3 -1.6l.2 0l0 -.1l0 -.1l.2 .2l.2 .3l.2 .8l.1 1.5l.1 .8l.3 1.7l.1 1.1l.1 .5l.3 1.8l.1 .6l.1 .5l.3 2.1l.1 .3l0 -.2l.4 1.7l0 -.1l.1 .4l.4 .7l.1 .2l0 .2l.4 .3l.1 .3l0 -.5l.3 -.1l.2 .6l0 .1l.2 -.1l.3 -.4l.2 -.2l.3 -.7l.2 .1l.3 -1l.1 .2l0 -.8l.4 -1.1l0 -.2l.1 -.6l.3 -2.5l.1 -.5l.1 -.9l.3 -3l.1 -.4l.2 -2.6l.2 -4.1l0 -.3l.3 -4.5l.1 -3.9l.1 -1.4l.3 -5.9l.1 -2.5l.1 -2.6l.3 -5.7l0 -1.1l.1 -.7l.1 -2.6l.3 -3.9l0 -.3l0 -.3l.2 -1.1l.1 0l.1 .2l.1 .4l.1 .2l.3 4.6l.1 1.5l.1 2l.3 6.1l.1 2.4l.1 3.3l.2 4.4l.2 3.1l.1 3.4l.1 2.4l.2 3.5l.2 3.2l.1 .8l.2 3.2l.3 2.1l0 .5l.2 2l.2 .8l.1 1l.2 .9l.1 .2l.2 .7l.2 .7l.1 -.1l.3 .6l.1 0l.1 0l.3 -.2l.1 .1l.4 -.8l0 .1l.1 -.6l.4 -1l0 .1l.1 -.4l.4 -2.1l0 -.4l.1 -.6l.3 -2.3l.2 -1.1l.2 -2l.3 -2l0 .3l.2 -2l.3 -.9l.2 .1l0 -.4l.2 .2l.1 .9l.1 .2l.3 2.1l.1 .8l.4 3.4l.1 .7l.1 .8l.3 2.3l.1 1l.1 .5l.3 1.8l0 .3l.4 1.9l.1 .7l.4 .9l.1 0l.4 .7l.1 .1l.3 .4l.2 .4l.2 0l.3 .6l.2 -.3l.3 .2l.2 .3l.3 -.5l.1 .2l.4 .5l0 -.1l.4 .1l.1 .1l.4 -.1l.1 .1l.4 -.2l0 -.1l.4 .7l.1 -.4l.4 .1l.1 .4l.4 0l.1 -.3l.3 .1l.2 .1l.2 -.2l.5 .4l.5 -.1l.4 .1l.2 .1l.2 0l.5 .3l.5 0l0 -.7l.4 .6l.4 -.4l.5 0l0 .4l.5 -.2l.4 .1l.3 .3l.1 -.4l.5 0l.5 .3l.1 .2l.3 -.1l.4 -.4l.5 .2l.1 .1l.4 .4l.4 -.2l.4 0l0 .1l.5 -.3l.5 .2l.2 0l.2 -.3l.4 .2l.5 .2l.1 -.3l.4 .3l.4 .1l.4 0l.1 -.3l.4 .2l.5 .2l.3 -.1l.1 -.3l.4 .2l.5 .3l.2 -.3l.3 .1l.4 .4l.4 -.5l.2 0l.3 -.2l.5 .1l.4 .4l.4 -.3l.5 -.2l.3 0l.2 .2l.4 .1l.4 -.3l.3 .2l.2 -.2l.5 .1l.4 0l.1 0l.3 -.3l.5 0l.4 0l.1 -.3l.4 .2l.4 0l.4 0l.1 -.2l.5 -.1l.4 0l.2 -.1l.2 .1l.4 .1l.1 0l.5 -.3l0 .2l.4 -.3l.4 .6l.4 -.1l.1 .1l.5 -.1l.4 .3l.3 .2l.1 .1l.5 -.3l.5 .5l.1 -.2l.3 0l.4 .3l.5 0l.5 -.1l.4 .3l.4 0l.5 -.1l.5 .1l.2 .2l.2 .2l.4 -.2l.5 .3l.1 -.3l.4 -.2l.4 .4l.4 -.3l.1 .3l.4 .1l.5 -.2l.3 0l.1 .5l.4 -.4l.5 0l.2 .1l.3 -.2l.4 0l.4 .1l.2 -.5l.3 .7l.5 -.5l.4 0l0 .3l.4 -.1l.5 -.2l.3 .3l.2 -.3l.4 .1l.4 -.2l.2 .2l.3 .2l.5 0l.4 0l.1 .1l.3 -.2l.5 -.1l.4 .1l.1 .4l.4 -.4l.4 .1l.3 -.1l.2 .1l.5 0l.4 -.1l.2 0l.2 -.1l.5 0l.5 .2l0 .1l.4 0l.4 -.2l.5 -.1l.5 .3l.4 0l.4 -.5l.5 .5l.5 -.1l.4 .3l.4 -.6l.5 0l.5 .4l.4 -.5l.4 .2l.5 -.1l.5 0l.4 -.2l.4 .4l.5 .2l.5 -.1l.4 0l.4 -.2l.5 .4l.5 -.2l.4 .1l.4 -.5l.5 .4l.5 -.3" stroke="#ff0000" stroke-width="1.55" fill="none" stroke-linejoin="round"/>
<path d="M17.4 244.2l.4 .1l.5 .3l.5 -.1l.4 -.3l.4 .2l.5 0l.5 .1l.4 -.2l.4 .3l.5 0l.5 .2l.4 -.1l.4 0l.5 -.2l.5 .5l.4 -.6l.4 .5l.5 -.2l.5 0l.4 0l.4 .1l.5 .1l.5 0l.4 .3l.4 -.5l.5 .3l.5 -.1l.4 .3l.4 -.5l.5 .3l.5 .1l.4 -.2l.4 .4l.5 -.1l.5 .2l.4 0l.4 -.3l.5 .1l.5 .1l.4 .2l.4 0l.5 -.1l.5 0l.4 .1l.4 .1l.5 .1l.5 0l.4 .4l.4 -.3l.5 .1l.5 .2l.4 -.2l.4 .1l.5 .1l.5 .2l.4 -.3l.4 .5l.5 -.2l.5 .1l.4 .1l.4 0l.5 .1l.5 -.1l.4 0l.4 .1l0 -.2l.4 .3l.1 -.3l.3 0l.2 .5l.2 -.4l.2 -.1l.2 .4l.2 -.4l.2 .2l.3 -.3l.1 .1l.4 -.3l0 -.1l.4 .1l.4 -.2l0 .1l.4 -.1l.1 -.6l.3 -.2l.2 -.5l.2 -.7l.2 -.9l.2 -.9l.2 -1.4l.2 -1.2l.3 -2.5l.1 -1.1l.4 -3.8l0 -.8l.4 -4.9l.4 -3.2l0 -.3l.2 -.4l.2 .4l.1 .6l.1 .9l.1 .9l.1 .9l.1 1.2l.1 .4l0 .8l.1 .9l.1 1.6l.1 1l.1 1.2l.1 1.2l.1 .9l.1 1l.1 1.1l0 .3l.1 .3l.1 .9l.1 .4l.1 1.2l.1 .2l.1 .6l.1 .7l.1 .4l.1 0l.1 .2l0 .2l.1 .3l.1 -.1l.1 .1l.1 .2l.1 -.1l.1 .1l.1 -.1l.1 -.3l.1 -.4l.1 .2l.1 0l.1 -.6l.1 0l.1 -.4l.1 -.5l.1 -.5l.1 -.5l.1 -.4l0 -.2l.1 -.6l.1 -.5l.1 -.7l.1 -1l.1 -.5l.1 -1.1l.1 -.7l.1 -.7l0 -.5l.1 -.4l.1 -.7l.1 -.8l.1 -.6l.1 -.5l.1 -.2l.1 -.4l.1 .2l.1 -.2l.1 -.4l0 .5l.1 .7l.1 .2l.1 .6l.1 .6l.1 1l.1 .8l.1 .7l.1 .7l0 .6l.1 .3l.1 .4l.1 1l.1 .6l.1 .6l.1 .6l.1 .4l.1 .1l.1 1l.1 .1l.1 .2l.1 .3l.1 0l.1 .3l.1 -.1l.1 0l.1 -.2l.1 -.1l0 .1l.1 0l.1 -.5l.1 -.4l.1 -.6l.1 -.2l.1 -.5l.1 -1.1l.1 -.4l.1 -1.3l.1 -.1l0 -.4l.1 -1.2l.1 -1.1l.1 -.8l.1 -1.1l.1 -1.4l.1 -.9l.1 -1.5l.1 -.9l0 -.8l.1 -.5l.1 -1.1l.1 -1l.1 -.6l.1 -.7l.1 -.7l.1 -.4l.1 -.3l.1 .2l.1 .2l0 .2l.1 .4l.1 .5l.1 .8l.1 .4l.1 .7l.1 1l.1 .7l.1 .4l0 .6l.1 -.1l.1 .6l.1 .2l.1 .8l.1 .3l.1 .4l.1 .3l.1 .2l.1 .3l.1 .3l0 -.1l.1 .4l.1 .4l.1 .6l.1 .5l.1 .8l.1 .3l.1 .9l.1 .4l0 .6l.1 .3l.1 1l.1 .5l.1 .6l.1 .8l.1 .6l.1 .6l.1 .6l.1 .4l.1 .8l0 -.1l.1 .6l.1 .1l.1 .4l.1 .5l.1 .4l.1 .4l.1 0l.1 .5l0 .2l.1 -.3l.1 .5l.1 -.1l.1 .3l.1 .2l.1 .3l.1 -.3l.1 .2l.1 .2l.1 -.3l0 .2l.1 0l.1 .1l.1 .2l.1 .1l.1 .3l.1 -.2l.1 .1l.1 -.2l.1 0l.1 -.3l.1 .6l.1 -.3l.1 -.1l.1 .2l.1 .2l.1 0l.1 -.2l.1 .1l.1 -.2l.1 .2l.1 0l.1 -.3l.1 .4l.1 -.4l.1 .3l.1 -.2l.1 .1l.1 .2l.1 -.3l.1 .1l.1 .3l.1 -.4l.1 .1l.1 .1l.1 -.3l.1 .2l0 -.2l.1 .1l.1 -.1l.1 -.3l.1 .3l.1 -.3l.1 -.1l.1 -.2l.1 0l.1 0l.1 0l.1 -.5l.1 .1l.1 0l.1 -.3l.1 -.1l.1 -.1l.1 -.4l.1 0l0 -.2l.1 0l.1 -.4l.1 -.5l.1 -.2l.1 -.6l.1 0l.1 -1.6l.1 -2.2l0 -1.3l.1 -1.7l.1 -3.2l.1 -5l.1 -6.5l.1 -8.3l.1 -20.8l.1 -50.9l.1 -97.7l.1 -36.9l.1 0l.1 0l.1 0l.1 0l.1 0l.1 0l.1 0l.1 0l.1 0l.1 0l.1 0l.1 0l.1 0l.1 0l.1 0l.1 0l.1 0l.1 0l.1 0l.1 0l.1 0l.1 0l.1 0l.1 0l.1 36.7l.1 97.9l.1 51l0 15.3l.1 5.4l.1 8.4l.1 6.3l.1 4.6l.1 3.8l.1 3.2l.1 1.9l.1 1.7l.1 0l.1 .3l.1 .5l.1 .3l.1 .3l.1 .5l.1 -.2l.1 .5l.1 -.2l.1 .6l0 -.2l.1 .2l.1 .2l.1 .3l.1 -.1l.1 .1l.1 0l.1 .3l.1 -.1l.1 .1l.1 .2l0 .1l.1 -.1l.1 .2l.1 .3l.1 -.5l.1 .5l.1 .2l.1 -.4l.1 .2l0 -.2l.1 .2l.1 0l.1 .1l.1 -.2l.1 0l0 .1l.1 0l.1 0l.1 .1l.1 -.1l0 .1l.1 .1l0 -.4l.1 .4l.1 -.2l.1 0l.1 0l.1 .1l.1 .1l.1 -.2l.1 .4l0 -.3l.1 .2l.1 .1l.1 -.4l.1 .4l.1 .2l0 -.4l.1 .1l.1 -.1l.1 .1l.1 -.1l.1 0l0 .2l.1 -.1l.1 .2l.1 0l.1 -.1l0 -.2l.1 .4l.1 -.1l.1 -.5l.1 .1l0 .1l.1 .2l0 .1l.1 -.2l.1 .1l.1 0l.1 -.3l.1 .3l0 -.1l.1 .1l.1 -.1l.1 -.1l.1 0l0 .2l.1 -.1l.1 .2l.1 -.2l.1 -.1l.1 .1l.1 .1l.1 .1l.1 -.1l0 .1l.1 0l0 -.2l.1 .2l.1 -.2l.1 .1l.1 -.2l.1 .1l.1 -.1l.1 .1l.1 .2l.1 .1l0 -.2l.1 -.2l0 .1l.1 -.1l.1 -.2l.1 0l.1 -.1l.1 .2l.1 -.3l.1 -.1l0 .1l.1 -.2l.1 -.1l.1 .1l.1 -.1l.1 -.1l.1 -.2l0 -.2l.1 .3l.1 -.5l.1 .1l.1 -.2l0 .1l.1 -.1l0 .2l.1 -.7l.1 .6l.1 -.4l.1 .1l.1 .1l0 -.3l.1 .1l.1 .1l0 -.1l.1 -.1l.1 .2l.1 -.2l.1 .5l.1 -.1l.1 -.3l.1 .3l0 .4l.1 .1l.1 -.1l.1 -.2l0 .2l.1 .3l.1 0l0 -.1l.1 .1l.1 .3l.1 0l.1 .2l.1 .3l.1 -.2l0 .1l.1 -.3l.1 .5l.1 .1l0 -.2l.1 -.2l.1 .3l.1 .1l.1 .4l0 -.2l.1 0l.1 .1l.1 .1l0 -.4l.1 .1l.1 0l.1 .2l.1 0l.1 .1l.1 -.2l.1 .2l0 -.1l.1 .4l0 -.4l.1 .5l.1 -.1l.1 -.4l0 .3l.1 0l.1 -.4l.1 .4l.1 -.1l.1 -.1l0 .1l.1 .1l.1 -.1l0 -.1l0 .1l.1 -.1l.1 .2l0 -.5l.1 .6l0 -.2l.1 .1l.1 0l.1 -.3l0 .5l.1 -.5l0 .3l.1 -.1l0 .2l.1 -.2l0 -.2l.1 .2l.1 -.4l.1 .3l0 .3l.1 -.3l.1 0l.1 -.1l.1 0l0 .1l0 .1l.1 -.3l.1 .2l0 -.2l.1 .2l.1 -.2l.1 .1l0 .1l.1 0l0 .1l.1 -.2l.1 -.2l.1 -.1l0 .3l.1 .1l0 -.2l0 .2l.1 -.4l.1 0l0 .3l.1 -.5l.1 .2l0 -.1l.1 -.1l0 .2l.1 -.5l.1 -.1l.1 -.4l.1 0l.1 -.1l0 -.1l.1 -.2l0 -.2l.1 -.5l.1 -.1l0 -.4l.1 -.2l0 .3l.1 -.5l.1 -.5l.1 -.7l0 -.2l.1 -.5l0 -.2l.1 -.4l.1 -.7l0 -.2l.1 -.5l.1 -.5l0 -.5l.1 .2l0 -.8l.1 -.2l.1 -.2l.1 -.6l.1 0l.1 -.5l0 .3l.1 0l.1 .2l0 .2l.1 .3l.1 .4l0 .1l.1 .2l.1 .6l.1 .3l.1 .5l0 .4l0 .2l.3 1.1l.2 1.4l0 .3l.1 .3l.3 1.5l.1 -.2l.2 .8l.2 .6l0 -.1l.1 .3l.3 .4l0 .1l.3 .2l.2 .2l.1 0l.3 -.1l.1 .3l.2 0l.2 0l.1 0l.1 -.3l.2 .4l.1 -.2l.3 0l.1 .4l.1 -.2l.1 .1l.3 .1l0 .1l.3 -.5l.1 .2l.1 .2l.1 -.2l.2 -.4l.5 .5l.1 .1l.4 .1l.4 -.1l.2 -.1l.2 .1l.5 -.1l.2 -.1l.3 .1l.4 0l.2 -.3l.2 .3l.5 -.1l.2 -.1l.3 -.6l.4 .2l.2 -.1l.2 -.3l.5 0l.3 -.5l.2 .3l.4 -.5l.3 -.4l.1 .2l.5 -.5l.3 -.3l.2 -.3l.4 0l.3 0l.1 -.1l.4 -.4l.1 .4l.4 .1l.1 0l.4 .1l.4 .1l0 .1l.5 .5l.4 .5l.1 .1l.4 .2l.4 .2l0 .2l.5 .2l.5 .8l.4 -.2l.4 .5l.1 .1l.4 -.2l.5 .5l0 -.2l.4 0l.4 .1l.1 .2l.4 .2l.5 -.4l0 .4l.4 -.1l.4 0l.2 .1l.3 0l.5 .1l.1 .1l.3 -.2l.4 .4l.2 -.1l.3 -.2l.5 -.2l.1 .3l.3 0l.4 .1l.3 0l.2 .2l.5 -.3l.2 .2l.2 -.2l.4 0l.3 .3l.2 -.2l.5 0l.2 -.1l.2 .1l.4 .1l.4 -.1l.1 -.2l.5 .3l.3 -.2l.1 .1l.4 0l.4 .1l.1 -.4l.5 .6l.4 -.2l.4 .2l.5 .1l.5 -.5l.4 .1l.4 .1l.5 .1l.5 -.2l.4 0l.4 .2l.5 -.3l.5 .2l.4 .1l.4 -.2l.5 .2l.5 -.2l.4 -.2l.4 .2l.5 0l.5 0l.4 .1l.4 0l.5 0l.5 0l.4 -.1l.4 0l.5 0l.5 0l.4 .3l.4 -.5l.5 .3l.5 -.3l.4 .2l.4 .2l.5 -.2l.5 .3l.4 -.4l.4 .1l.5 0l.5 0l.4 0l.4 0l.5 0l.5 .2l.4 -.2l.4 0l.5 0l.5 -.1l.4 -.1l.4 0l.5 .2l.3 -.3l.2 .4l.3 -.2l.1 -.1l.3 .1l.1 .2l.4 -.1l.1 0l.3 .2l.2 .1l.3 -.5l.1 .3l.4 -.3l0 -.1l.3 .1l.1 .3l.1 -.3l.4 0l.1 .3l.1 -.2l.3 -.1l0 .3l.4 -.3l0 -.2l.5 -.1l0 .1l.3 0l.1 -.1l.1 -.1l.4 -.6l.2 .1l.2 -.6l.1 -.2l.4 -1l0 .1l.1 0l.4 -1.3l0 -.4l.3 -1l.1 -.9l.4 -1.5l.1 -.3l.2 -1l.2 -.4l.1 0l.2 -.3l.2 -.2l0 .5l0 -.4l.4 1.2l.1 .2l.3 1.5l0 .2l.2 .5l.3 1.3l.1 .7l.2 .7l.2 .4l.1 .4l.3 .7l.1 .1l.1 .1l.2 .5l.2 .2l.3 .4l.2 -.3l.3 .1l.1 -.1l.2 -.3l.1 .5l.2 -.2l.2 -.5l.2 .1l.1 .4l.2 -.5l.2 -.3l.3 -.3l0 -.3l.2 -.3l.2 -.3l.2 -.2l0 -.1l.2 -.3l0 .1l.3 -.6l0 -.1l.2 -.6l.2 -.7l.1 .4l0 -.3l.2 -.3l.2 -.8l0 -.3l.2 0l.2 -.9l0 .1l.1 -.1l.1 -.2l.3 -.4l.2 -.6l0 .4l.3 -.6l0 .4l.1 -.2l.1 -.1l.2 .3l.1 -.1l.1 .3l.3 .7l.1 .3l.2 .3l.2 .4l.1 .3l.3 1.1l.2 .1l.3 .7l.1 .2l.3 .9l.1 .1l0 .3l.4 .7l.1 0l.3 .5l.1 0l.1 .1l.3 .1l.1 .3l.1 .2l.3 .5l0 -.5l.4 .3l.1 -.1l.4 -.2l.1 .3l.3 -.1l.1 -.2l0 -.1l.2 .4l.2 -.1l0 .3l.2 0l.3 .3l0 -.1l.5 .7l0 -.1l.4 .5l0 -.2l.4 0l.1 .2l.4 .3l0 -.1l.3 .5l.2 -.3l0 .1l.4 .1l.1 -.2l0 .3l.3 0l.1 .1l.4 -.3l0 .2l.1 0l.4 .2l0 -.4l.2 .4l.2 .1l.1 -.3l.3 0l.2 .4l0 -.2l.3 .2l.1 -.1l.4 .1l0 -.2l.1 -.3l.3 .4l.2 -.1l.2 .2l0 -.2l.2 .4l.3 -.3l.2 .2l.3 -.2l.1 .1l.3 0l.1 -.2l.1 .4l.2 -.3l.5 -.1l.5 .2l.4 .1l.4 0l.5 -.1l.5 0l.1 -.3l.2 .5l.1 .1l.2 -.3l.2 -.2l0 .4l.2 -.2l.2 -.5l.1 .4l.2 -.1l.2 .1l.1 .5l.2 -.2l.2 -.2l.2 .2l.2 -.5l0 .3l.3 -.4l.2 -.1l.2 -.6l.3 -.8l0 .2l.2 -1.1l.2 -.9l0 -.5l.2 -1l.2 -.7l.1 .3l.1 -.4l.1 .2l.2 .5l.1 0l.2 .5l.2 .5l0 .1l.2 .8l.2 .4l.1 0l.2 1.3l.1 .1l.1 .7l.3 .2l.1 .7l.1 -.2l.2 .1l.2 .2l0 -.3l.3 .3l.1 -.1l.1 .1l.3 -.3l.2 .4l.2 -.1l.1 -.1l.1 .1l0 -.1l.3 0l0 .2l.1 -.1l.1 .1l.1 -.2l.2 -.2l.2 .1l.2 .1l.1 -.2l.3 .1l.1 0l.2 .1l.3 0l.1 0l.3 -.4l0 .2l.3 0l.1 -.3l.2 -.1l.3 -.3l.1 .1l.3 -.6l.1 0l.2 -.9l.2 -.4l.1 -1l.3 -2.4l.4 -2.6l.1 -1.2l.2 -1.9l.3 -2.8l0 -.6l.3 -1.7l.1 -.2l.1 -.3l.2 .6l.1 .7l.2 .3l.3 2l0 .2l.3 2.5l.2 1.3l.2 1.4l.2 2.1l.1 .3l.3 1.8l0 .2l.3 1l.2 .8l.1 .3l.1 0l.3 .3l0 -.3l0 .6l.3 -.3l.1 .5l0 .1l.2 -.3l.1 .1l.1 0l.1 -.3l.1 0l.3 0l0 .1l.1 .1l.2 -.2l.1 .1l.1 -.2l.1 -.3l.2 .2l.1 -.2l0 -.2l.2 .2l.2 -.4l0 -.1l.2 0l.1 -.4l.2 -.1l0 -.1l.1 -.2l.2 -.8l.2 -.7l.2 -1.2l.2 -1.8l.1 -1l.3 -5.2l0 -.2l.4 -7.5l.1 -3.3l.2 -7.4l.3 -7.9l0 -3.3l.4 -11.4l0 -.3l.3 -6l.1 -.9l.1 .2l.2 .5l.2 2.9l.1 2.2l.4 7.7l.3 9.2l.1 3.7l.2 6.6l.2 6.3l.2 2.4l.3 7.1l.2 3.1l.1 1.6l.2 .8l0 .6l.2 1.2l.2 .9l0 .7l.1 .1l.2 .4l.1 .7l.2 .3l.2 .5l.1 .1l0 -.2l.2 -.1l.1 .5l.2 .1l.1 .2l.1 -.4l.2 .1l0 .4l.1 .1l.3 -.1l0 -.2l0 .2l.3 -.3l0 -.1l.2 .1l.1 -.1l0 .1l.4 -.5l0 -.4l0 .2l.3 -.9l.1 -.7l.2 -1.1l.2 -1.7l.2 -.9l.3 -3.7l0 -.3l.3 -3.8l.2 -1.8l.1 -1.9l.3 -2.1l0 .1l.2 -.4l.2 .1l0 .6l.3 1.2l.2 1.6l.1 .7l.3 3.5l.1 0l.2 3l.2 1.8l.2 2l.2 1.8l.1 .5l.3 1.8l.1 .2l.3 .8l.2 .5l.1 .3l.3 .3l0 .1l.3 .3l.1 -.1l.2 .3l.3 .1l.1 -.1l.3 .1l.1 0l.2 .1l.2 0l.1 -.1l.3 .2l.4 .1l.1 0l.2 -.2l.3 .3l.4 0l.4 -.2l.5 .3l.1 -.1l.4 0l.4 .1l.4 -.1l0 -.3l.5 .4l.5 -.2l.3 .2l.1 .1l.4 -.2l.5 0l.2 .1l.3 .1l.4 -.2l.4 0l.1 .2l.4 .1l.5 -.2l.4 .1l0 -.2l.4 .1l.5 0l.3 -.2l.2 .2l.4 0l.4 -.4l.2 .4l.3 .1l.5 0l.4 0l0 -.2l.4 0l.5 .1l.4 -.1l.1 .1l.4 .2l.4 -.3l.3 .1l.2 .3l.5 -.3l.4 -.1l.1 .2l.3 -.1l.5 0l.5 -.3l0 .3l.4 0l.4 .3l.4 -.3l.1 -.1l.5 0l.4 0l.2 -.1l.2 0l.5 .1l.5 -.2l.1 0l.3 -.3l.4 .1l.5 -.4l0 .4l.5 -.3l0 .1l.4 0l.2 -.4l.1 .3l.1 -.2l.3 0l.2 -.2l.4 -.2l.1 .3l.2 -.2l.2 -.1l0 -.2l.4 .2l.2 -.2l.3 -.1l.1 0l.1 0l.3 .1l.2 -.1l.1 0l.1 -.1l.4 .4l0 -.3l.5 0l.1 .2l.4 -.2l.1 .3l.1 0l.2 0l.3 .3l.1 .1l.4 -.1l.1 -.1l.2 .2l.3 .1l0 -.4l.4 .1l.2 .1l.2 -.3l.1 .1l.2 .3l.2 -.4l.4 .1l.1 -.3l.3 0l.1 -.1l0 .1l.4 -.7l.2 .2l.3 -.3l.2 .1l.1 0l.2 -.1l.3 .1l.1 .1l.4 .2l.2 .1l.3 .3l.1 .4l.4 0l.1 .5l.3 .1l0 -.3l.3 .1l.1 .4l.4 0l.1 .2l.4 .3l.1 -.1l.4 .1l.2 .2l.2 -.2l.3 .3l0 .1l.2 -.4l.4 .2l.1 .2l.4 -.3l0 .1l.1 .1l.3 -.3l.2 .2l.3 0l.2 -.1l.3 .3l.3 -.2l.1 .4l.4 -.3l0 -.2l.4 .2l.1 -.2l.1 .3l.4 0l.1 -.3l.3 .1l.2 .1l.1 0l.1 -.2l.4 .3l.1 .1l.5 -.4l0 .4l0 -.5l.4 .3l.4 -.1l.5 0l0 .1l.5 -.2l.4 .2l.3 .3l.1 -.2l.5 .1l.5 0l.1 -.4l.3 .5l.4 -.1l.5 -.1l.1 -.1l.4 0l.4 -.1l.4 .1l0 .1l.5 -.1l.5 0l.4 -.2l.4 .1l.5 0l.5 .2l.4 -.1l.4 0l.5 .1l.5 -.1l.4 0l.4 .2l.5 -.1l.5 -.2l.4 .3l.4 0l.5 0l.5 -.3l.4 .3l.4 -.1l.5 0l.5 0l.4 .1l.4 0l.5 .1l.5 -.2l.4 0l.4 .1l.5 -.1l.5 .2l.4 -.2l.4 .1l.5 -.2l.5 .3" stroke="#ff8000" stroke-width="1.5" fill="none" stroke-linejoin="round"/>
</g>
<path d="M16.6 457.0H302.2" stroke="#000" stroke-width="1.6" fill="none"/>
<path d="M17.4 456.2v10.0" stroke="#000" stroke-width="1.6"/>
<text x="17.4" y="482.6" text-anchor="middle" class="tk">20</text>
<path d="M45.8 456.2v5.7" stroke="#000" stroke-width="1.6"/>
<path d="M74.2 456.2v10.0" stroke="#000" stroke-width="1.6"/>
<text x="74.2" y="482.6" text-anchor="middle" class="tk">25</text>
<path d="M102.6 456.2v5.7" stroke="#000" stroke-width="1.6"/>
<path d="M131.0 456.2v10.0" stroke="#000" stroke-width="1.6"/>
<text x="131.0" y="482.6" text-anchor="middle" class="tk">30</text>
<path d="M159.4 456.2v5.7" stroke="#000" stroke-width="1.6"/>
<path d="M187.8 456.2v10.0" stroke="#000" stroke-width="1.6"/>
<text x="187.8" y="482.6" text-anchor="middle" class="tk">35</text>
<path d="M216.2 456.2v5.7" stroke="#000" stroke-width="1.6"/>
<path d="M244.6 456.2v10.0" stroke="#000" stroke-width="1.6"/>
<text x="244.6" y="482.6" text-anchor="middle" class="tk">40</text>
<path d="M273.0 456.2v5.7" stroke="#000" stroke-width="1.6"/>
<path d="M301.4 456.2v10.0" stroke="#000" stroke-width="1.6"/>
<text x="301.4" y="482.6" text-anchor="middle" class="tk">45</text>
<text x="159.4" y="516.6" text-anchor="middle" class="at">2<tspan style="font-family:'Liberation Serif',serif">&#920;</tspan>/&#176;</text>
<g clip-path="url(#clip)">
<path d="M373.0 424.6l.4 0l.5 .6l.5 .4l.4 .5l.4 -.3l.5 -.2l.5 .1l.4 .8l.4 .6l.5 -.5l.5 -.5l.4 .3l.4 1.3l.5 -.5l.5 -.7l.4 .9l.4 -.4l.5 .4l.5 .2l.4 .1l.4 .7l.5 -.1l.5 -.1l.4 .6l.4 .3l.5 -1l.5 .8l.4 -.2l.4 .5l.5 -.3l.5 .7l.4 .1l.4 0l.5 -.2l.5 .4l.4 -.2l.4 0l.5 .8l.5 -.5l.4 1.2l.4 -.1l.5 -1.1l.5 1.1l.4 -.5l.4 .6l.5 .2l.5 -.8l.4 .9l.4 .1l.5 .6l.5 -.8l.4 .9l.4 -.7l.5 .5l.5 -.1l.4 1.1l.4 -.3l.5 1l.5 -.7l.4 .2l.4 .1l.5 -.6l.5 .3l.4 .7l.4 -.8l.5 .3l.5 0l.4 .3l.4 -.4l.5 .1l.5 .2l.4 0l.4 -.4l.5 .8l.5 -1l.4 .1l.4 0l.5 1l.5 -.5l.4 -.3l.3 0l.1 .7l0 -.7l.1 -.1l.1 .9l.1 -.8l.1 .4l.1 .1l.1 -.2l.1 .2l.1 .6l.1 -.8l.1 -.3l0 -.3l.1 .8l.1 -.1l.1 .3l.1 -.3l.1 -.1l.1 -.1l.1 .1l.1 .3l0 -.2l.1 .2l.1 .8l.1 -.6l.1 -.9l.1 1.5l.1 -.6l.1 -.6l.1 .8l.1 -.4l.1 -.3l.1 -.1l.1 .4l.1 .5l.1 -.6l.1 .3l.1 .7l.1 -1.4l.1 .7l0 -.3l.1 -.3l.1 0l.1 .5l.1 .2l.1 -.5l.1 .3l.1 .3l.1 -.2l.1 .3l.1 -.2l.1 .6l.1 -.5l.1 -.3l.1 .3l.1 -.7l.1 .2l.1 .5l.1 0l0 .4l.1 -.7l.1 -.7l.1 1.6l.1 -.4l.1 -1l.1 1.1l.1 -.6l.1 -.8l.1 .6l.1 0l0 .9l.1 -1.1l.1 .3l.1 0l.1 -.1l.1 -.2l.1 .5l.1 .4l.1 -.2l0 -.7l.1 -.1l.1 .5l.1 -.3l.1 0l.1 -.5l.1 1.6l.1 -.4l.1 -.9l.1 .8l.1 .2l0 -1.7l.1 .9l.1 0l.1 .5l.1 -.4l.1 -.1l.1 .1l.1 .8l.1 .2l0 -1.3l.1 -.1l.1 1.6l.1 -1.7l.1 .2l.1 .2l.1 .2l.1 .2l.1 -.3l.1 -.6l.1 .6l0 -.1l.1 .7l.1 -.9l.1 -.6l.1 .1l.1 1.1l.1 -.9l.1 -.7l.1 .6l0 .3l.1 .5l.1 -1l.1 .7l.1 0l.1 -.7l.1 .2l.1 .9l.1 -.1l.1 -.4l.1 -.3l0 .4l.1 -.6l.1 -.1l.1 -.3l.1 .3l.1 -.1l.1 1.3l.1 -1.4l.1 .6l.1 -.7l.1 .6l.1 -1.6l.1 1l.1 .3l.1 -1.5l.1 .5l.1 .9l.1 -.7l.1 -.4l0 .3l.1 -.2l.1 .5l.1 -.2l.1 -.5l.1 -.3l.1 .2l.1 .5l.1 -.6l0 .1l.1 -.4l.1 -.7l.1 .1l.1 .5l.1 -.4l.1 -.6l.1 -.5l.1 .6l.1 -.4l.1 0l0 -.1l.1 .1l.1 -.2l.1 .1l.1 -.2l.1 -.1l.1 -.4l.1 -.8l.1 -.1l0 .2l.1 -.5l.1 .1l.1 0l.1 -1.2l.1 -.7l.1 1l.1 -.8l.1 -.1l.1 -1.2l.1 1.2l0 -.7l.1 -.7l.1 -.5l.1 -.2l.1 -.5l.1 -.5l.1 -.9l.1 .7l.1 -1.1l0 -.2l.1 -.2l.1 -1.7l.1 .8l.1 -.9l.1 -.6l.1 -.4l.1 -1.1l.1 -.1l.1 -1.7l.1 -.6l0 -.4l.1 -.6l.1 -.9l.1 -1.8l.1 -1.6l.1 -.2l.1 -2.3l.1 -.4l.1 -2.1l0 -1l.1 -.8l.1 -1.2l.1 -1.5l.1 -2.4l.1 -1.2l.1 -1.4l.1 -2.9l.1 -2.5l.1 -2.1l.1 -1.2l0 -.8l.1 -3.8l.1 -4.3l.1 -3.5l.1 -6l.1 -4.5l.1 -3.8l.1 -6.2l.1 -6.5l0 -3.3l.1 -2.8l.1 -7.7l.1 -6.2l.1 -6.9l.1 -6.1l.1 -7.4l.1 -7.4l.1 -7.9l.1 -8l.1 -4.5l0 -4l.1 -10.3l.1 -9.4l.1 -9.5l.1 -11.9l.1 -11.2l.1 -12.4l.1 -13l.1 -14.1l0 -8.2l.1 -6.9l.1 -15.6l.1 -16.9l.1 -50.9l.1 -60.5l.1 -18.3l.1 0l.1 0l.1 0l.1 0l.1 0l.1 0l.1 0l.1 0l.1 0l.1 0l.1 0l.1 0l.1 0l.1 0l.1 0l.1 0l.1 0l.1 0l.1 19.1l.1 60.7l.1 51.1l.1 8.1l0 8l.1 14.8l.1 15.8l.1 13.2l.1 13.6l.1 12.2l.1 11.8l.1 11.3l.1 9.9l0 5.1l.1 4.6l.1 9.6l.1 9.8l.1 7.4l.1 8.6l.1 7.3l.1 7l.1 6.8l.1 5.5l.1 3.6l0 3.5l.1 6.2l.1 6.9l.1 6l.1 6.2l.1 4.8l.1 6.2l.1 3.8l.1 3.8l0 3.5l.1 1.6l.1 3.6l.1 2.2l.1 1.8l.1 2.1l.1 2.4l.1 1.9l.1 1.8l.1 1.5l.1 .6l0 1l.1 2.3l.1 1.7l.1 .8l.1 1.3l.1 2.2l.1 1.1l.1 1.2l.1 .3l0 1l.1 .5l.1 1.4l.1 .1l.1 2.3l.1 .5l.1 .7l.1 -.1l.1 1.1l.1 1.2l.1 -1l0 1.1l.1 .7l.1 -.1l.1 1.1l.1 0l.1 1.2l.1 .1l.1 .3l.1 1.2l0 -.3l.1 .4l.1 -.7l.1 .6l.1 1l.1 .4l.1 -.1l.1 .7l.1 -.5l.1 .9l.1 -.5l0 .8l.1 -.1l.1 .2l.1 .6l.1 1l.1 -1.1l.1 .5l.1 .9l.1 -.4l0 1.1l.1 -.6l.1 .1l.1 .3l.1 .8l.1 -.3l.1 .1l.1 .1l.1 -.7l.1 .5l.1 1.1l0 -.2l.1 0l.1 .2l.1 -.4l.1 .6l.1 -.5l.1 .8l.1 -.4l.1 .3l0 .4l.1 -.3l.1 .5l.1 .1l.1 0l.1 .5l.1 -1.2l.1 .1l.1 1l.1 .2l.1 .5l0 -.5l.1 .1l.1 -.7l.1 .8l.1 0l.1 -.7l.1 .1l.1 .4l.1 .2l0 -1.4l.1 1.4l.1 .1l.1 -.1l.1 .2l.1 .2l.1 -.7l.1 .7l.1 -.2l.1 -.3l.1 .6l0 .6l.1 -1.3l.1 -.1l.1 .1l.1 1.6l.1 -.9l.1 .1l.1 -.3l.1 0l0 -.5l.1 1l.1 .1l.1 -1l.1 .5l.1 .2l.1 .3l.1 .2l.1 .4l.1 .2l.1 -.2l0 .2l.1 -1.1l.1 .3l.1 .8l.1 -.4l.1 -.1l.1 -.8l.1 .1l.1 1.2l0 -.2l.1 -.3l.1 0l.1 -.6l.1 1l.1 .3l.1 .3l.1 -.7l.1 -.1l.1 -.4l.1 1.1l0 .2l.1 -1l.1 .4l.1 -.1l.1 -.2l.1 -.9l.1 1l.1 .4l.1 -.9l0 .3l.1 -1.1l.1 2.1l.1 -.3l.1 -.2l.1 -.1l.1 -.2l.1 .3l.1 -.1l.1 0l.1 .1l0 .1l.1 .7l.1 -1.4l.1 .8l.1 -.4l.1 -.2l.1 -.5l.1 1.3l.1 -.7l0 .1l.1 .6l.1 -.7l.1 .5l.1 0l.1 .4l.1 .1l.1 -.8l.1 .8l.1 -.5l.1 .1l0 -.1l.1 .5l.1 -.9l.1 .7l.1 .4l.1 -.7l.1 1.1l.1 -1.2l.1 .4l0 -.3l.1 -.1l.1 -.2l.1 .3l.1 .2l.1 -.3l.1 .8l.1 .3l.1 -1.4l.1 1.1l.1 -.3l.1 1l.1 -.5l.1 -.4l.1 0l.1 -1.1l.1 1.3l.1 -.6l.1 .4l.1 .4l.1 .5l.1 -.5l.1 .1l.1 -.6l.1 .3l.1 .1l.1 -.9l.1 1.6l.1 -1.3l0 -.2l.1 1.3l.1 .2l.2 -1.2l.4 .1l.5 1.7l.5 -1.2l.4 -.9l.4 .7l.5 1.2l.5 -.5l.4 .1l.4 .3l.5 -.2l.5 -.4l.4 -.5l.4 1l.5 -.7l.5 .6l.4 .8l.4 -.5l.5 -.1l.5 .1l.4 .3l.4 .2l.5 -1l.5 .7l.4 .8l.4 -.4l.5 -.6l.5 .1l.4 -.6l.4 .7l.5 1.1l.5 -.7l.4 -.3l.4 .2l.5 .3l.5 0l.4 0l.4 -.2l.5 .7l.5 .5l.4 -.9l.4 .1l.5 .8l.5 -1.1l.4 .4l.4 .2l.5 .3l.5 -.2l.4 -.2l.4 .6l.5 -.6l.5 -.2l.4 -.1l.4 1.3l.5 -1.1l.5 1.1l.4 .1l.4 .1l.5 -.3l.5 -.2l.4 .4l.4 -.3l.5 -.3l.5 1.2l.4 -.9l.4 1.3l.5 -.6l.5 -.3l.4 .4l.4 .4l.5 -1.1l.5 .2l.4 0l.4 .6l.5 .2l.5 -.1l.4 -.3l.4 .1l.5 .8l.5 0l.4 -.4l.4 -.6l.5 1l.5 -.1l.4 0l.4 .7l.5 -.4l.5 -.7l.4 0l.4 1.1l.5 -.4l.5 .3l.4 -.4l.4 -.3l.5 .6l.5 .6l.4 -.5l.4 -.6l.5 .4l.5 0l.4 .3l.4 .5l.5 .4l.5 -.7l.4 -.3l.4 .3l.5 0l.5 -.1l.4 .2l.4 0l.5 -.5l.5 .9l.4 -.4l.4 -.3l.5 .7l.5 -.4l.4 1.1l.4 -.6l.5 -.1l.5 -.3l.4 .2l.4 .6l.5 -.7l.5 .7l.4 -1.3l.4 1.1l.5 .3l.5 -.1l.4 -.2l.4 .5l.5 -.8l.5 0l.4 .5l.4 .6l.5 -.3l.5 -.3l.4 .3l.4 .1l.5 -.8l.5 -.6l.4 .8l.4 -.2l.5 .5l.5 -.3l.4 .2l.4 .7l.5 -.2l.5 0l.4 .8l.4 -.9l.5 .1l.5 .8l.4 -1.1l.4 -.2l.5 1.4l.5 -.4l.4 .1l.4 .1l.5 .1l.5 -.5l.4 .2l.4 -.5l.5 .6l.5 .1l.4 -.3l.4 .5l.5 1.1l.5 -1.8l.4 .9l.4 .1l.5 0l.5 -.8l.4 .9l.4 -.2l.5 -.3l.5 -.1l.4 .3l.4 .3l.5 0l.5 .7l.4 -1.2l.4 .5l.5 -.4l.5 .5l.4 -.3l.4 -.3l.5 -.3l.5 .3l.4 .5l.4 .6l.5 -.3l.5 -.9l.4 .3l.4 .3l.5 -.1l.5 .1l.4 .3l.4 -.2l.5 -.4l.5 -.6l.4 .8l.4 -.6l.5 .7l.5 .2l.4 -.8l.1 .6l.3 -.1l.5 1l0 -.7l.5 -1l.2 1l.2 0l.4 -.3l.2 -.1l.3 .4l.5 .1l0 -.1l.4 -.7l.4 .3l0 -.6l.5 0l.2 .4l.3 -.2l.4 .2l.1 1.3l.3 -.9l.4 -.7l.1 -.6l.5 .5l.2 -.3l.2 -.4l.4 1.2l.2 -.6l.3 .4l.5 1l0 -1.3l.3 -.2l.1 0l.3 -.5l.1 -.3l.4 0l.1 .4l.2 -.8l.3 -.9l.2 -.3l.2 -.3l.1 .4l.3 -.7l.3 -.6l.1 -.1l.1 -.8l.5 -1.1l.2 -1l0 -.1l.2 -1.9l.4 -.7l.2 -1.8l.3 -.5l.5 -2.6l.1 .5l.3 -2l.3 -1.3l.1 .3l.1 -.4l.2 .8l.2 .1l.2 -.2l.3 0l0 .3l.4 1.8l0 -.7l.4 1.6l.4 2.3l.1 .3l.4 1.1l.1 -.6l.2 2.2l.2 .1l.3 .1l.1 .4l0 .3l.2 1.3l.3 .1l.1 -.8l.2 1.6l.1 -.2l.1 -1.1l.4 -.9l0 1.6l.3 -1.1l.1 -.1l.4 -1l.1 .4l.2 -.5l.1 -.6l.2 -1.3l.2 -.8l.2 -1.2l0 -1.3l.2 .1l.2 -2.3l.1 -.3l.3 -2.5l.1 -.4l.2 -1.6l.2 -1.4l.1 -1.9l.2 -2.6l.2 -2l.2 -2l0 -.4l.2 -3l.2 -.7l.3 -3.5l.1 -1.1l0 -.4l.3 -2.3l.1 -.3l.4 -4.4l0 .8l.1 -.4l.2 -.9l.1 -.4l.1 .2l.3 .5l.1 .3l0 .6l.1 .4l.4 1.1l.1 1.3l.3 3l0 -.6l0 .6l.4 4.3l.1 .8l.3 2.6l0 1l.1 -.3l.4 3.8l.1 .1l.2 2.1l.1 1.1l.1 .1l.2 .7l.2 2.7l.1 0l.3 .8l.1 0l.1 .4l.3 .8l.1 -.2l.2 .6l.2 -.6l0 -.4l.4 0l.3 -1l.1 .3l.1 -1.1l.5 0l.1 .3l.1 -.5l.2 .4l.1 .4l.3 .5l.1 .9l.1 -.5l.3 1.2l.3 1.8l.2 -.2l.1 .9l.3 2.8l.2 .9l.2 2l.2 -.1l.3 1.8l.1 1l.4 1.3l0 .9l.4 .2l0 .8l.4 1.5l.1 0l.2 1l.2 .4l.4 .4l.1 -.3l.1 1l.3 0l.4 .8l0 .3l.1 -.5l.4 -.1l.3 .5l0 .5l.2 -.4l.4 .9l.2 -.4l.1 .1l.1 -.3l.5 .4l.1 .6l.2 -.6l.2 .1l.4 -.1l0 .7l.2 -1l.2 .5l.3 .8l.2 .2l.2 -.7l.3 .6l.1 -1.3l.3 1.3l.4 -.1l.5 -.6l.3 -.2l.2 .6l.4 .4l.2 .1l.2 -.1l.5 .4l.1 0l.4 -.9l.3 .5l.1 -.1l.4 .8l.3 -.7l.2 .7l.5 -.3l.4 1l.4 -1l.5 .1l.5 0l.4 .1l.4 1.1l.5 -1.3l.5 -.1l.4 .3l.4 .5l.5 -.7l.5 .8l.4 0l.4 -.4l.5 0l.5 -.2l.4 .3l.4 -.2l.5 .9l.5 .2l.4 -.8l.4 .1l.5 -.8l.5 .6l.4 .4l.4 0l.5 0l.5 .3l.4 -.3l.4 -.2l.5 .9l.5 -1.5l.4 .3l.4 .2l.5 0l.5 0l.4 .3l.4 -.2l.5 .3l.5 .3l.4 -.2l.4 0l.5 -.4l.5 -.1l.4 .4l.4 .6l.5 -.3l.5 .4l.4 -.1l.4 .1l.5 -.8l.5 .9l.4 -.2l.4 .6l.5 -.6l.5 -.1l.4 -.2l.4 .1l.5 -.8l.5 .7l.4 .1l.4 .4l.5 -.7l.5 .4l.4 .8l.4 -1.1l.5 .7l.5 -.7l.4 .3l.4 .2l.5 .2l.5 -.6l.4 -.2l.4 1.2l.5 -.6l.5 .3l.4 0l.4 0l.5 -.5l.5 .1l.4 -.6l.4 .8l.5 -.3l.5 .2l.4 .9l.4 -.5l.5 -.3l.5 -.6l.4 .9l.4 .4l.5 -1.1l.5 .6l.4 -.4l.4 .2l.5 -.1l.5 -.5l.4 .5l.4 -.5l.5 1.3l.5 -.1l.4 -.4l.4 .1l.5 -.1l.5 .1l.4 0l.4 -.2l.5 .1l.5 -.5l.4 .1l.4 .2l.5 .4l.5 -.3l.4 1.1l.4 -1l.5 0l.5 .3l.4 .3l.4 .4l.5 -.4l.5 -.6l.4 .1l.4 .6l.5 -.3l.5 .2l.4 -.4l.4 .8l.5 -.1l.5 -.1" stroke="#0000ff" stroke-width="1.6" fill="none" stroke-linejoin="round"/>
<path d="M373.0 355.1l.4 .4l.5 -1.1l.5 .9l.4 .5l.4 .3l.5 0l.5 .4l.4 -.2l.4 .3l.5 0l.5 -.2l.4 .3l.4 .5l.5 -.1l.5 .7l.4 .2l.4 .3l.5 -.4l.5 .6l.4 -.5l.4 .2l.5 .5l.5 .2l.4 -.4l.4 .2l.5 .8l.5 -.2l.4 .8l.4 -.1l.5 .1l.5 .2l.4 .3l.4 -.2l.5 .5l.5 -.4l.4 .2l.4 0l0 .4l.5 -.1l.5 -.1l.2 .9l.2 -.7l.4 .2l.5 .3l.2 .4l.3 -.5l.4 .4l.4 -.1l.1 -.5l.4 .8l.5 .2l.3 -.3l.1 .1l.4 -.4l.5 .1l.3 .4l.2 .4l.4 -.2l.4 .3l.2 .2l.3 -.2l.5 .3l.4 .3l0 -.8l.4 .7l.5 -.7l.3 .8l.2 -.1l.4 -.1l.4 -.1l.3 .4l.2 -.1l.5 .2l.4 -.2l.1 .5l.3 -.4l.5 .2l.4 -.1l.1 .5l.4 -.8l.4 .2l.4 .4l.1 -.5l.5 -.3l.4 .3l.2 -.2l.2 .3l.5 -.8l.5 .1l0 .1l.4 -.1l.4 -.9l.5 .4l0 -.8l.5 -.6l.4 -.3l.1 .2l.1 -.2l.1 .1l.1 -.2l0 -.2l.1 .5l.1 -1.3l.1 0l.1 .2l.1 -.3l.1 -.5l.1 .3l.1 -.1l.1 -.6l.1 .9l0 .1l.1 -.2l0 -.6l.1 .1l.1 -.5l.1 .3l.1 -.5l.1 .2l.1 -.3l.1 .2l0 -.1l.1 0l.1 -.9l.1 -.2l.1 .5l.1 -.4l.1 .2l0 -.1l.1 -.2l.1 .1l.1 -.2l.1 -.1l0 -.4l.1 .6l.1 -.5l.1 .2l.1 -.4l.1 .2l.1 -.4l.1 0l.1 -.1l0 -.3l0 .1l.1 .1l.1 -.1l.1 -.3l.1 1l.1 -1l.1 .2l.1 .8l.1 -.9l.1 .5l.1 0l0 -.3l.1 -.3l.1 0l0 .5l.1 .2l.1 -.8l.1 .8l.1 -.2l.1 .6l.1 -.1l0 -.3l.1 .2l.1 .3l.1 .5l.1 .6l.1 -.7l.1 .1l0 .2l.1 -.1l.1 .3l.1 0l.1 0l0 -.2l.1 .5l.1 .3l.1 -.1l.1 .6l.1 0l.1 -.2l.1 .7l.1 -.7l0 .7l.1 .3l0 -.6l.1 .2l.1 .4l.1 .3l.1 -.2l.1 .1l.1 .4l.1 -.1l.1 -.3l.1 .4l0 .1l.1 -.3l.1 .6l.1 -.2l0 .5l.1 -.6l.1 .3l.1 0l.1 .9l.1 .1l0 .1l.1 .1l.1 -.1l.1 .1l.1 -.7l.1 .7l.1 -.2l.1 .2l0 -.3l.1 .8l.1 -.2l.1 -.5l0 .6l.1 -.1l.1 -.2l.1 .3l.1 -.1l.1 -.4l.1 .3l.1 .6l.1 0l.1 -.4l.1 .2l0 .2l.1 .2l.1 -.4l.1 -.1l.1 .7l.1 -.3l.1 -.1l.1 -.1l.1 .1l0 .6l.1 -.1l.1 -.4l.1 -.3l.1 .9l.1 0l.1 -.1l.1 -.2l.1 -.8l0 .2l.1 .5l.1 -.2l.1 .1l.1 -.2l.1 -.1l.1 .4l.1 -.3l.1 .1l.1 0l.1 .3l.1 -.8l.1 .3l.1 -.2l.1 .4l.1 -.6l.1 .5l.1 0l.1 -.1l0 -.5l.1 .2l.1 -.3l.1 .4l0 .1l.1 -.8l.1 .1l.1 .1l.1 -.2l.1 .5l.1 -.7l.1 .1l0 -.5l.1 .7l.1 -.6l.1 .1l.1 -.4l.1 -.8l0 .2l.1 -.1l.1 .3l.1 -.4l0 .1l.1 -.1l.1 -.2l.1 0l.1 -.4l.1 -.8l.1 .1l.1 .4l.1 -1l.1 .4l0 .1l.1 -.8l0 .2l.1 -.8l.1 .3l.1 -.7l.1 -.5l.1 0l.1 -.4l.1 -.4l.1 -.1l0 -.3l.1 -.3l.1 .1l.1 0l.1 -.9l0 -.4l.1 -.5l.1 0l.1 -.7l.1 -.4l.1 -1.1l.1 .1l0 -.3l.1 .1l.1 -.9l.1 -1.2l.1 .3l.1 -.6l.1 -.6l0 -1.4l.1 0l.1 -.7l0 -.5l.1 -.7l.1 -1.4l.1 -.7l.1 -1l.1 -.8l.1 -1.2l.1 -1.5l.1 -.9l.1 -2l.1 -.5l0 -.6l0 -.4l.1 -2.7l.1 -2.9l.1 -3.9l.1 -4.5l.1 -4.1l.1 -5.1l.1 -5.3l.1 -6l0 -2.3l.1 -3.4l.1 -7.7l.1 -6.9l.1 -8.4l0 -4.9l.1 -4.4l.1 -9.6l.1 -11.6l.1 -12.1l.1 -13.1l.1 -7.8l0 -7.5l.1 -16l.1 -17l.1 -18.9l.1 -21.5l.1 -9.3l.1 -8.9l.1 -8l0 -1.7l.1 -10.4l0 -5.2l.1 -5.3l.1 -10.9l.1 -2l.1 -1.7l.1 -.8l.1 -1.2l.1 -2.3l.1 -2.5l.1 -1.3l.1 -.5l0 -1.7l.1 -1.3l0 -.2l.1 -1.7l.1 1.8l.1 2.3l.1 1.2l.1 1.8l.1 2.3l.1 1l0 .5l.1 1.6l.1 2.1l.1 1.1l.1 1.7l.1 10.5l0 4.4l.1 7l.1 10.1l.1 9.6l.1 9.1l.1 4.4l0 4.6l.1 20.9l.1 19.7l.1 17.1l.1 16.1l.1 14.9l.1 13.3l.1 11.9l.1 8l0 3.1l0 4.6l.1 5.4l.1 9.2l.1 8.4l.1 7.8l.1 6.8l.1 6.9l.1 5.5l.1 5.4l.1 4.9l.1 2.1l0 2.4l.1 4.1l.1 3.6l.1 3l.1 3l.1 1.5l.1 1.6l.1 .7l.1 1.6l0 .5l.1 .7l.1 1.1l.1 1.6l.1 .9l.1 1.1l.1 .4l.1 1l.1 1l.1 1.4l.1 .4l0 -.3l.1 1l.1 1l.1 -.4l.1 .8l.1 1l.1 .3l.1 0l.1 1.2l0 .1l.1 .1l.1 -.2l.1 .8l.1 .8l.1 .2l.1 .5l.1 0l.1 .9l.1 -.2l.1 .6l0 -.1l.1 0l.1 1l.1 -.5l.1 .5l.1 .5l.1 -.2l.1 .2l.1 .7l0 .1l.1 .1l.1 .5l.1 .8l.1 -.6l.1 1l.1 -.4l.1 .1l.1 -.6l.1 .5l.1 .7l0 .1l.1 -.2l.1 .5l.1 .3l.1 -.3l.1 -.1l.1 .3l.1 .4l.1 .3l0 .2l.1 -.5l.1 .4l.1 .1l.1 .2l.1 .4l.1 .1l.1 -.5l.1 .1l.1 0l.1 .1l0 .1l.1 .1l.1 0l.1 -.2l.1 .1l.1 .4l.1 .8l.1 -.5l.1 .1l0 -.1l.1 -.1l.1 .7l.1 -.7l.1 -.1l.1 -.1l.1 .5l.1 -.3l.1 .1l.1 0l.1 -.1l0 .5l.1 -.5l.1 1.2l.1 -1.4l.1 .4l.1 .5l.1 .1l.1 -.2l.1 .3l.1 0l.1 .1l.1 0l.1 -.1l.1 0l.1 .4l.1 -.3l.1 .3l.1 .3l.1 -.4l0 .3l.1 -.4l.1 .2l.1 .1l.1 -.1l.1 .1l.1 .4l.1 -.5l.1 -.1l0 .3l.1 -.5l.1 .4l.1 .4l.1 -.3l.1 .1l.1 0l.1 .3l.1 -.2l.1 -.1l.1 -1l0 .8l.1 .4l.1 -.2l.1 -.2l.1 .5l.1 -.5l.1 .2l.1 .3l.1 -.3l0 .2l.1 -.1l.1 -.3l.1 .2l.1 .1l.1 -.1l.1 .5l.1 -.3l.1 -.1l.1 -.2l.1 .3l0 .5l.1 -.5l.1 .3l.1 0l.1 -.3l.1 -.1l.1 .5l.1 -.7l.1 .7l0 -.5l.1 .6l.1 -.4l.1 .1l.1 .4l.1 -.6l.1 .3l.1 -.1l.1 .3l.1 .1l.1 -.1l.1 -.2l.1 .3l.1 -.2l.1 .1l.1 0l.1 -.4l.1 .1l.1 .4l0 -.1l.1 .4l.1 -1.1l.1 .8l.1 .3l.1 -.3l.1 .2l.1 -.2l.1 0l.1 .3l.1 -.6l0 -.3l.1 .8l.1 -.1l.1 0l.1 .1l.1 .1l.1 -.3l.1 .3l.1 0l0 -.5l.1 .3l.1 .2l.1 -.3l.1 .5l.1 -.3l.1 .3l.1 .2l.1 -.8l.1 0l.1 .6l0 -.2l.1 .2l.1 .4l.1 -.7l.1 .4l.1 -.3l.1 -.1l.1 .4l.1 -.1l0 .3l.1 -.3l.1 .2l.1 -.1l.1 -.6l.1 .4l.1 0l.1 .4l.1 -.6l.1 .4l.1 -.2l.4 -.3l.4 .5l.5 .3l.5 -.2l.4 .4l.4 -.1l.5 0l.5 -.2l.4 .2l.4 .2l.5 -.1l.5 -.3l.4 .4l.4 .2l.5 .3l.5 -.1l.4 -.5l.4 .6l.5 -.6l.5 .3l.4 0l.4 .7l.5 -.2l.5 0l.4 -.3l.4 .6l.5 -.4l.5 .3l.4 .2l.4 -.3l.5 .3l.5 -.7l.4 .8l.4 -.7l.5 .7l.5 0l.4 .1l.4 .6l.5 -1.4l.5 1l.4 -.2l.4 .3l.5 0l.5 -.1l.4 -.1l.4 0l.5 .4l.5 -.6l.4 .9l.4 -.5l.5 .4l.5 -.5l.4 .6l.4 -.2l.5 .3l.5 .2l.4 -.5l.4 .3l.5 .1l.5 .4l.4 -.8l.4 .6l.5 -.1l.5 -.4l.4 .3l.4 0l.5 .6l.5 -.6l.4 .6l.4 -.4l.5 .4l.5 -.7l.4 .4l.4 .3l.5 -.3l.5 -.1l.4 .5l.4 .2l.5 -.1l.5 -.1l.4 .3l.4 -.3l.5 .5l.5 .1l.4 -.7l.4 .8l.2 -.1l.3 -.1l.5 .1l.4 .3l.4 .2l0 -.1l.5 -.5l.5 .5l.4 -.9l.1 .8l.3 0l.5 .1l.5 -.5l.2 .7l.2 0l.4 -.3l.5 -.4l.5 .5l0 -.3l.4 -.2l.4 .3l.5 .9l.2 -1.1l.3 .4l.4 .2l.4 .2l.5 -.5l.5 .6l.4 -.2l.4 .3l.2 -.7l.3 .3l.5 .4l.4 -.2l.4 -.4l0 .4l.5 -.6l.5 .4l.4 .5l.1 0l.3 -.1l.5 .1l.5 -.7l.2 .3l.2 .5l.4 .4l.5 -.5l.5 -.4l0 -.1l.4 .7l.4 -.1l.5 -.7l.2 .4l.3 .4l.4 0l.4 -.7l.4 .1l.1 .2l.5 -.6l.4 -.2l.4 .2l.2 .5l.3 -.1l.5 -.3l.4 -.7l.3 -.3l.1 .2l.5 .1l.5 .1l.4 -.7l0 .2l.4 -.7l.5 -.3l.5 .4l.2 -.4l.2 -.1l.4 -.5l.5 .8l.4 -.8l.1 .5l.4 -.5l.3 .3l.1 .6l.5 -.3l.2 0l.3 .4l.4 0l.4 .5l.4 -.7l.1 .9l.5 -.1l.4 -.1l.4 .8l.2 .1l.3 0l.5 .5l.4 -.4l.3 .1l.1 .4l.5 .7l.5 .1l.4 0l0 -.2l.4 .4l.5 .5l.5 -.4l.2 .1l.2 .4l.4 .1l.5 0l.4 .5l.1 -.4l.4 -.2l.4 -.3l.5 1.1l.1 -.4l.4 .2l.4 .1l.4 .3l.4 0l.1 0l.5 -.2l.4 -.1l.4 .3l.1 -.4l.4 .5l.5 .2l.4 0l.2 -.2l.2 -.2l.5 0l.5 .1l.4 .2l0 .2l.4 .1l.5 .1l.5 .2l.1 -.6l.3 .2l.4 .3l.5 .1l.4 -.4l.1 0l.4 .6l.4 -.1l.5 0l.1 -.2l.4 -.2l.4 .4l.4 .1l.4 .1l.1 .1l.5 -.2l.4 .4l.4 -.4l.1 .2l.4 -.1l.5 -.5l.2 .2l.2 .2l.2 .2l.2 .1l.1 .3l.4 -.4l.3 -.1l.2 .2l.4 -.4l0 .3l0 -.3l.4 .4l.3 -.2l.2 0l.5 .7l0 -.2l.1 .4l.3 -.7l.3 -.1l.1 -.2l.5 .2l0 -.5l.5 .5l.2 -.2l.2 -.2l.4 -.2l.1 .2l.4 .1l.3 .1l.2 -.6l.4 .4l.4 .4l.3 -.7l.2 0l.5 -1l0 .2l.4 -.9l.3 -.6l.1 .2l0 -.4l.5 -.8l.1 -.6l.1 -.4l.3 -1.5l.2 -1.1l.2 -.3l0 -.5l.4 -1.7l.1 -.9l.2 -1.2l.2 -.1l.3 -2.6l.2 -.4l.4 -1.3l.1 -.6l.2 .6l.1 -.8l0 -.5l.3 1.2l.2 -.1l.1 .7l.4 1.4l0 -.2l.4 1.7l0 .4l.3 1.8l.1 .1l.3 1.9l.2 .7l.1 -.1l.4 1.8l0 .2l.2 1.1l.2 .2l.3 .7l.1 -.1l.1 .4l.4 -.7l.1 1.1l.2 -.3l.2 .5l.3 -1l.1 -.1l.1 0l.3 -.6l.2 -.6l.1 -.1l.1 -.6l.1 -.3l.4 -1.6l.1 -.7l0 -.8l.4 -3.4l.2 -1.4l.1 -1.1l.1 -1.1l.5 -6.4l0 .3l0 -.2l.1 -.4l.4 -5.7l.2 -3.6l.1 -1.4l.1 -1.6l.4 -6.7l.1 -.5l0 -1.3l.4 -4.3l.2 -2.4l.1 -.6l0 .1l.2 -.6l.2 .4l.2 -.2l0 -.2l.1 .4l.1 .7l.2 2.3l.3 2.4l.1 .8l.1 2l.5 6.9l0 .6l0 .9l.2 2.2l.2 3.1l.2 3.7l.1 .9l.1 2.4l.1 -.6l.4 5.3l.1 .9l.2 1.5l.2 1.6l.2 2.4l.2 1.2l.1 -.2l.3 1.1l.1 .3l.3 1.2l.1 -.5l.3 -.7l.2 .6l.1 -.7l.3 -.7l0 -.1l.4 -2.2l0 .5l.3 -1.4l.2 -1.5l.2 -1.7l.3 -.9l0 -.1l.4 -1.3l0 -.5l.3 -.5l.1 -.1l.2 -.1l.1 .4l.2 .3l0 .3l.5 1.2l0 1l.2 .9l.2 1.9l.4 2.3l0 .2l.1 .7l.4 2l.2 1.2l.1 .9l.2 1.3l.4 1.7l0 .5l0 .6l.4 .8l.3 .9l0 -.1l.2 1.5l.5 .4l0 .2l0 -.1l.4 .8l.3 .3l0 .1l.1 .2l.5 .7l.1 -.7l0 .4l.4 .1l.2 -.2l.2 .6l.4 .4l.1 -.8l.4 1.1l.3 -.7l.2 0l.4 -.7l.1 .9l.3 -.1l.3 0l.2 .3l.5 -.2l0 .1l.4 -.3l.3 -.1l.1 .4l.5 .1l.1 .1l.4 -.2l.2 -.3l.2 .3l.4 -.1l.1 -.3l.4 .4l.3 -.1l.2 -.3l.4 .2l.4 .3l.5 .2l.5 -1l.4 .4l.4 .2l.5 .2l.5 -.3l.4 -.4l.4 .1l.5 .1l.5 -.3l.4 -.1l.4 -.1l.5 1.1l.5 -.8l.4 -.1l.4 .2l.5 -.2l.5 -.1l.4 .1l.4 -.3l.5 .1l.5 .4l.4 0l.4 -.5l.5 .8l.5 -.6l.4 -.3l.4 .7l.5 0l.5 0l.4 -.4l.4 .7l.5 -.2l.5 0l.4 -.1l.4 .1l.5 .6l.5 -.8l.4 .3l.4 .2l.5 -.1l.5 -.4l.4 .2l.4 0l.5 -.3l.5 .4l.4 .3l.4 -.2l.5 .3l.5 -.2l.4 -.3l.4 .4l.5 -.7l.5 1l.4 -.5l.4 .6l.5 -.9l.5 .2l.4 .1l.4 .1l.5 -.4l.5 .1l.4 .6l.4 -.4l.5 .5l.5 .3l.4 -.9l.4 .3l.5 .7l.5 -.2l.4 -.7l.4 .5l.5 .4l.5 -1.1l.4 .8l.4 .2l.5 -.4l.5 -.1l.4 .5l.4 -.7l.5 .7l.5 .2l.4 -.3l.4 -.5l.5 .9l.5 -.4l.4 .2l.4 -.4l.5 .2l.5 .4l.4 -.8l.4 .1l.5 -.2l.5 .8l.4 0l.4 -.4l.5 .4l.5 -.1l.4 .6l.4 -.9l.5 .4l.5 -.2l.4 .7l.4 -.4l.5 -.4l.5 .5l.4 -.2l.4 -.2l.5 .4l.5 0l.4 -.4l.4 .2l.5 .5l.5 0l.4 -.3l.4 -.1l.5 .2l.5 -.1l.4 -.3l.4 .6l.5 -.4l.5 .7l.4 -.3l.4 .1l.5 -.3l.5 .2l.4 -.3l.4 .1l.5 -.2l.5 .8" stroke="#8000ff" stroke-width="1.6" fill="none" stroke-linejoin="round"/>
<path d="M373.0 309.7l.4 .1l.5 0l.5 -.1l.4 .1l.4 0l.5 .2l.5 .3l.4 -.3l.4 0l.5 .3l.5 0l.4 0l.4 -.2l.5 .3l.5 .2l.4 -.4l.4 .2l.5 -.2l.5 .1l.4 0l.4 .3l.5 -.1l.5 .3l.4 .1l.4 -.1l.5 -.4l.5 .4l.4 .2l.4 .1l.5 -.3l.5 .2l.4 0l.4 .1l.5 .4l.5 -.4l.4 .2l.4 .3l.5 -.3l.5 .2l.4 .1l.4 0l.5 -.2l.5 .3l.4 .3l.4 -.5l.5 .5l.5 -.1l.4 -.1l.4 .5l.5 -.2l.5 -.3l.4 .3l.4 .1l.5 -.1l.5 .2l.4 -.1l.4 .2l.5 .2l.5 -.4l.4 .2l.4 -.1l.4 .1l.1 -.3l.4 .2l.1 0l.3 .3l.1 0l.4 -.5l0 .1l.4 .3l.1 -.5l.4 .3l.1 .1l.4 .2l0 -.1l.4 -.2l.5 -.1l0 .4l.5 -.5l.4 -.2l0 .1l.4 -.3l.1 -.1l.4 -.5l0 .2l.5 -.7l0 .2l.1 -.3l.3 -.8l.1 -.1l0 -.3l.3 -1l.1 -.4l.4 -2.3l.1 -.2l.3 -2.5l.1 -.4l0 -.3l.3 -1.9l.1 -.5l.1 -.3l.2 -1.8l.1 -.4l0 -.1l.1 -.1l.1 -.4l.1 -.1l.1 -.1l.1 -.3l.1 .3l0 .1l.1 0l.1 .6l.1 .2l.1 .6l0 .1l.1 .5l0 -.1l.1 .7l.1 .2l.1 .8l.1 .9l.1 -.1l0 .9l.1 0l.1 1.1l.1 .6l.1 .3l0 -.2l.1 .9l0 .1l.1 0l.1 .4l.1 .3l.1 0l0 .5l.1 -.2l.1 .2l0 -.1l.1 0l0 -.1l.1 .5l0 -.4l.1 .2l.1 -.4l.1 -.4l.1 -.3l.1 -.3l0 -.1l.1 -.6l.1 -.6l0 -.5l.1 -.3l.1 -.2l.1 -1l0 -.4l.1 -.3l0 -.2l.1 -1.5l.1 -.8l.1 -1.1l0 -.5l.1 -.3l.1 -1.3l.1 -.5l0 -.5l0 .1l.1 -1.3l.1 -.6l0 -.4l.1 -.8l.1 -.2l.1 -.9l.1 -.1l0 -.1l0 -.2l.1 0l.1 .4l0 -.1l.1 .2l.1 .6l.1 1l0 -.1l.1 .8l0 -.1l.1 .7l.1 1.5l.1 1.1l.1 .6l0 .4l.1 1.2l.1 .6l0 .6l0 -.1l.1 1.3l.1 .5l0 .7l.1 .6l.1 1l.1 1.1l.1 .7l0 -.2l.1 .2l0 .6l.1 .3l0 .5l.1 .5l.1 0l.1 .4l.1 .7l0 .2l0 .1l.1 .3l.1 .1l.1 .2l.1 .5l0 -.2l.1 .1l.1 .5l.1 .2l0 -.3l.1 .2l.1 0l.1 .3l.1 -.1l.1 .2l.1 .1l0 .3l0 -.7l.1 .5l0 -.2l.1 0l.1 -.3l.1 .1l.1 .2l.1 -.2l.1 -.1l.1 -.1l.1 .2l.1 -.4l.1 -.5l0 .2l.1 -.4l0 -.3l.1 .4l.1 .2l.1 -.5l.1 -.4l.1 -.2l.1 .1l0 -.3l.1 -.2l0 -.1l.1 -.2l.1 -.1l.1 -.4l.1 -.5l.1 -.6l.1 .1l0 -.4l.1 -.1l.1 -.8l.1 -.3l.1 -.2l0 -.4l.1 .1l.1 -.3l0 -.6l.1 -.2l.1 -.5l.1 -1.1l.1 .1l.1 -.5l.1 -.3l0 -.3l.1 -.2l.1 -.1l.1 -.5l.1 -.4l.1 .1l.1 -.6l.1 -.4l.1 .5l.1 -.1l.1 0l.1 -.1l.1 .2l0 -.1l.1 .2l.1 .3l.1 .6l.1 .2l.1 .2l.1 .3l0 .1l0 .6l.1 0l.1 .3l.1 .4l.1 .3l.1 .7l.1 .6l.1 .3l.1 .5l.1 .5l.1 -.2l0 .5l.1 .3l.1 .8l0 -.1l.1 .4l.1 .6l.1 0l.1 .3l.1 .5l.1 .3l0 -.1l.1 .4l0 .4l.1 -.2l.1 .2l.1 .1l.1 .5l.1 -.1l.1 .2l0 .5l.1 -.3l.1 .6l.1 .2l0 -.2l.1 .2l.1 .4l.1 -.4l.1 .1l.1 -.1l.1 .4l.1 .3l.1 0l0 -.4l.1 .1l.1 .2l.1 0l.1 .1l.1 0l.1 -.1l.1 .1l0 .1l.1 -.1l.1 .1l.1 .3l0 -.2l.1 -.2l.1 -.3l.1 .4l.1 -.5l0 .1l.1 .4l.1 -.1l.1 -.2l.1 -.4l0 .3l.1 -.1l.1 .2l0 .3l.1 -.4l.1 -.3l.1 -.2l.1 .2l.1 -.1l.1 -.3l0 .3l.1 -.4l.1 .4l.1 -.1l.1 -.5l.1 .1l.1 -.2l0 -.1l.1 -.1l.1 -.5l.1 -.3l.1 .1l0 -.4l.1 -.1l.1 -.3l0 -.5l.1 -.3l.1 -.3l.1 -.5l.1 -.7l.1 -.4l.1 -.9l0 -.5l.1 -.6l.1 0l0 -.6l.1 -1.4l.1 -.7l.1 -1.7l.1 -1.6l0 -1.1l.1 -1.2l.1 -2.3l.1 -3.2l.1 -6.9l0 -3.5l.1 -4.8l.1 -10.2l0 -6.6l.1 -6.7l.1 -16.5l.1 -21.8l.1 -30.8l.1 -41.3l.1 -54.2l.1 -47.5l0 -23.3l.1 -9.4l.1 0l.1 0l.1 0l.1 0l.1 0l.1 0l.1 0l.1 0l.1 0l.1 0l.1 0l.1 0l.1 9.6l.1 70.8l.1 53.8l.1 41.4l.1 31.2l.1 11.4l0 9.9l.1 16.6l.1 13.4l.1 10.4l.1 8.4l.1 6l.1 4.1l.1 1.8l.1 2.5l0 .5l.1 .7l.1 1.9l.1 1.6l.1 .5l.1 .9l.1 .9l.1 .7l.1 1l.1 .3l.1 .3l0 .6l.1 .2l.1 .7l.1 .2l.1 .3l.1 .2l.1 1.1l.1 -.2l.1 .3l.1 .1l.1 .1l.1 .5l.1 -.5l.1 0l.1 .3l.1 0l.1 .5l.1 .1l.1 -.3l0 -.1l.1 .3l.1 .5l.1 -.8l.1 .7l.1 -.2l.1 .5l.1 -.4l.1 .2l0 -.2l.1 .1l0 .5l.1 0l.1 -.2l.1 -.1l.1 -.2l0 .3l.1 .1l.1 .1l.1 0l.1 -.2l.1 .2l0 .1l0 .2l.1 .2l.1 -.4l.1 -.1l.1 .2l0 -.1l.1 0l.1 .1l.1 -.1l.1 .3l0 -.1l.1 .1l0 -.1l.1 -.1l.1 0l.1 .2l.1 -.1l.1 .2l.1 -.3l.1 .3l.1 -.3l.1 .2l0 .1l0 -.4l.1 .5l.1 0l.1 0l.1 -.1l.1 0l0 -.1l.1 .2l.1 -.1l.1 .2l0 -.3l.1 .3l.1 0l.1 -.1l.1 .2l.1 -.4l.1 .4l.1 0l.1 0l.1 -.2l.1 .1l0 .2l.1 0l0 -.1l.1 -.3l.1 .4l.1 .1l.1 0l0 -.2l.1 -.3l.1 .5l.1 -.2l0 -.5l.1 .6l.1 -.4l.1 0l.1 .1l.1 .4l.1 -.4l.1 .1l0 .3l.1 -.1l.1 -.4l.1 0l0 -.3l.1 .1l0 .2l.1 0l.1 -.2l.1 .1l.1 -.4l.1 .1l0 .1l.1 -.1l.1 0l0 -.2l.1 -.2l.1 0l0 -.3l.1 -.2l.1 .4l.1 -.3l.1 0l.1 -.5l0 .3l.1 -.2l.1 -.1l.1 -.3l0 .3l.1 .2l.1 -.1l0 -.2l.1 .1l.1 .2l.1 -.7l.1 .5l0 .2l.1 .1l.1 .2l.1 -.1l.1 .1l.1 .2l0 -.3l.1 .2l.1 .3l.1 .4l.1 -.3l.1 .1l0 .1l.1 .3l.1 -.2l0 .4l.1 -.4l.1 .3l.1 .3l.1 .2l.1 -.4l.1 .2l.1 .3l0 -.2l.1 -.1l0 .6l.1 -.1l.1 .1l.1 -.2l0 .4l.1 -.3l.1 .4l.1 -.4l.1 .1l.1 .2l.1 -.1l.1 .3l0 -.1l.1 -.2l.1 .2l.1 0l0 .2l.1 -.3l.1 .1l.1 .4l.1 .2l0 -.1l.1 -.3l.1 .3l.1 -.3l.1 -.2l0 .2l.1 .1l0 -.3l.1 -.1l.1 0l0 .5l.1 -.3l.1 .1l0 .1l.1 .1l0 -.2l.1 .2l0 -.3l.1 .1l.1 -.1l0 .4l.1 -.2l0 -.2l.1 .1l.1 .1l0 .1l.1 -.4l.1 .1l.1 .1l0 .6l0 -.3l.1 -.2l.1 .2l.1 .2l.1 -.4l0 .3l.1 -.2l.1 .1l.1 -.3l0 .5l.1 0l.1 -.2l.1 -.6l0 .6l0 -.2l.1 .1l.1 .1l.1 -.2l0 -.3l.1 .4l0 -.2l.1 .1l.1 -.1l.1 -.4l.1 .7l0 -.2l0 .2l.1 .2l0 -.4l.1 -.4l.1 .1l.1 -.1l.1 .1l0 .1l.1 -.4l.1 .4l0 -.4l.1 .3l.1 -.2l0 -.1l.1 .1l0 -.2l.1 -.3l.1 .2l.1 .2l.1 -.2l.1 -.3l.1 -.4l0 .3l.1 -.4l.1 -.1l0 -.1l.1 0l0 -.1l.1 -.3l.1 0l.1 .5l0 -.5l.1 0l.1 .1l.1 .1l.1 -.4l0 .2l.1 .3l.1 -.1l0 .3l.1 -.3l0 .2l.1 0l.1 .5l.1 -.6l0 .3l.3 .5l.1 .5l.1 0l.1 .3l.3 -.3l0 .5l.3 0l.2 0l0 .3l.1 -.2l.3 -.2l0 .4l.3 -.2l.1 .2l.2 .2l.3 .3l0 -.3l.3 -.3l.2 .2l.1 0l.1 -.1l.2 .3l.1 -.2l.3 -.2l0 .5l.2 -.2l.1 .1l.2 0l.1 .1l.3 -.1l.1 .2l.1 -.2l.1 0l.2 0l.4 -.3l.2 .2l.3 0l.5 0l.2 -.3l.2 .6l.4 -.4l.3 -.3l.2 -.1l.5 .2l.2 -.1l.2 -.1l.4 0l.4 -.3l.1 .1l.5 -.4l.3 -.1l.1 .1l.4 0l.4 -.9l.1 0l.5 -.4l.3 .1l.1 -.5l.4 -.1l.4 0l.1 -.3l.4 0l.1 .1l.4 -.2l0 .1l.4 .4l.5 .4l0 -.1l.5 0l.4 .6l0 .3l.4 .3l.5 .2l0 -.2l.5 .6l.4 0l0 -.1l.4 .3l.5 .6l.1 -.2l.4 .3l.4 -.3l.1 .3l.3 -.2l.5 .2l.1 .5l.4 -.3l.4 -.2l.2 .1l.2 .1l.5 .3l.2 -.4l.3 -.2l.4 .3l.2 .1l.2 0l.5 .3l.2 -.2l.3 .2l.4 -.4l.2 .4l.2 .3l.5 -.3l.3 0l.2 -.1l.4 .4l.3 -.5l.1 .1l.5 .2l.3 .1l.2 -.3l.4 .2l.3 -.1l.1 .1l.5 0l.3 -.2l.2 .2l.4 .2l.4 -.3l0 .1l.5 .2l.4 -.3l.1 .3l.4 -.3l.4 .5l.5 .3l.5 -.1l.4 -.4l.4 .2l.5 -.1l.5 0l.4 .4l.4 -.6l.5 .5l.5 -.2l.4 .3l.4 -.2l.5 -.2l.5 .3l.4 .1l.4 -.2l.5 .2l.5 -.2l.4 -.3l.4 .6l.5 0l.5 -.1l.4 0l.4 .2l.5 -.3l.5 0l.4 .1l.4 .3l.5 -.5l.5 .6l.4 -.4l.4 -.1l.5 .5l.5 -.2l.4 -.2l.4 .2l.5 .2l.5 .1l.4 -.3l.4 .2l.5 .1l.5 -.3l.4 .2l.4 -.1l.5 0l.5 0l0 .1l.4 0l.2 -.1l.2 0l.4 .3l.1 -.2l.5 .2l.4 -.1l.3 .4l.1 -.6l.5 .3l0 -.2l.5 .4l.1 0l.3 -.7l.3 .2l.1 .3l.5 .1l0 -.1l.5 -.1l.1 .1l.3 0l.4 -.2l0 .2l0 -.6l.5 .5l.1 -.3l.2 .3l.2 -.3l.2 -.2l.2 .2l.1 -.4l.3 -.1l0 -.2l.5 -.1l0 .1l.1 0l.4 -.7l.2 -.3l.1 -.3l.1 -.3l.4 -.9l.2 -.5l.3 -1l.2 -.4l.3 -.9l0 -.2l.3 -.9l.1 0l.4 -1l.1 -.3l.3 .1l.1 0l.2 0l.1 .5l.2 0l.3 1.2l.1 .1l.1 0l.3 1l.1 .5l.4 .9l0 .1l.3 .6l.2 .1l.3 1l.1 -.2l0 .6l.4 .4l.2 .1l0 .2l.3 .3l.3 -.2l.2 -.1l0 .1l.4 -.2l0 .2l.4 .2l0 -.6l.2 .2l.3 -.7l.2 -.1l.1 -.3l.2 -.1l.4 -.8l.1 .1l0 -.4l.3 -.9l.3 -.9l.2 -.2l0 -.2l.4 -.9l.1 -.4l.2 -.4l.2 -1.1l.1 0l.3 -.3l.2 -.5l.1 -.2l.2 0l.1 -.2l.3 .5l.1 .5l0 -.2l.4 .3l.2 .4l.2 .6l0 .6l.4 .6l.1 .4l.2 1l.3 .7l0 -.1l.4 1l.1 .2l.1 .5l.2 .3l.5 1.5l0 -.2l.5 .9l.2 .6l.2 .1l.4 -.1l.2 .4l.3 .3l.5 -.3l.4 .3l.3 -.3l.1 .6l.5 -.7l.2 .2l.3 .2l.4 0l.1 .1l.3 0l.4 -.2l.1 .3l.5 -.7l.2 .4l.2 -.2l.4 .1l.2 0l.3 -.2l.5 0l.4 .2l.3 -.1l.1 -.3l.5 .5l.2 0l.3 -.8l.4 .3l.1 .4l.3 -.4l.4 -.1l.1 -.1l.5 -.2l.2 0l.2 -.1l.4 .2l.5 -.3l.5 .1l.4 -.1l.4 .2l.5 -.1l.5 .2l.4 .3l.4 -.1l.5 .1l.5 0l.4 0l.4 0l.5 0l.5 .2l.4 -.3l.4 .5l.5 -.2l.5 -.1l.4 0l.4 0l.5 .2l.5 -.1l.4 .4l.1 -.4l.3 -.3l0 .3l.4 -.2l.1 .3l.2 .3l.3 -.1l0 -.4l.4 .1l0 .5l.3 -.3l.1 -.1l.3 .2l.2 .2l.1 -.2l.4 -.3l.3 -.1l.1 0l.2 -.5l.2 -.3l.2 .1l.3 -1l.3 -1.1l.2 -.5l.2 -1l.2 -2.3l.1 -.8l.3 -3l.4 -2.7l.1 -.6l.2 -1.3l.2 -.3l.1 -.1l.1 .3l.3 1.5l.4 1.8l0 .9l.3 1.8l.2 1.9l.1 .7l.4 2.2l0 -.2l.3 1.8l.1 .9l.2 0l.2 .8l0 .2l.2 .1l.2 .1l.1 .3l.2 .1l.1 -.3l.2 .4l.1 -.1l.1 0l.2 .2l.1 .1l.3 -.3l0 .2l.1 .1l.2 -.1l.1 0l.1 -.4l.2 -.1l.1 .2l.2 -.6l0 .2l.1 -.2l.3 -.2l0 -.3l0 .1l.3 -.3l.1 .1l0 -.2l.3 -.9l.2 -1l.1 -.5l.4 -2.5l0 -.3l.4 -4.5l0 -1.2l.3 -6.7l.1 -3.4l.3 -6.1l.2 -7.5l.1 -3.3l.4 -9.9l0 -.9l.3 -5.6l.1 -.4l.1 -.6l.2 .6l.1 1.9l.2 2.9l.3 5.6l.1 2.1l.3 9.7l.1 .3l.3 9.2l.1 2.6l.2 5.1l.2 4l.2 2.3l.1 1.2l.2 2.5l.1 .3l0 .6l.3 2.3l.1 .1l.3 1.3l0 .2l.1 .1l.2 -.1l0 .4l.2 .4l.2 0l0 .3l.3 .4l0 -.3l0 -.1l.4 .8l0 -.5l.1 -.1l.2 .4l.2 -.2l.2 .3l0 -.2l.2 -.2l.1 .2l0 .1l.3 -.4l.1 .1l0 -.1l.3 .2l0 -.9l.2 .2l.1 -.8l.1 -.4l.2 -.8l0 -.2l.4 -2.4l0 -.9l.3 -2.9l.2 -2l.1 -1.6l.4 -3.2l0 -.2l.3 -2.3l.1 0l.1 0l.2 0l.1 .4l.2 .9l.3 2.1l.1 1.1l.3 2.7l.1 1.1l.2 2.6l.2 1.9l.2 1.2l.2 1.7l.1 .3l.3 1.7l.1 .2l.3 .7l.2 .5l.1 .6l.3 -.3l0 .4l.4 0l0 .3l.3 .2l.2 -.1l.2 .2l.3 -.4l0 .6l.4 -.3l0 .3l.3 -.1l.1 -.5l.2 .4l.3 .2l.1 .3l.3 -.2l.1 0l.4 -.3l.4 .6l.5 .1l.5 -.3l.4 0l.4 -.3l.5 .5l.5 .4l0 -.4l.4 .1l.4 -.1l.4 -.3l.1 .5l.5 -.5l.4 .2l.3 .1l.1 .1l.5 -.1l.5 0l.1 -.2l.3 -.1l.4 .3l.5 -.2l0 -.1l.5 0l.4 .2l.4 -.3l0 .1l.5 0l.5 .3l.2 .1l.2 .3l.4 -.7l.5 .2l.1 .3l.4 -.2l.4 -.1l.4 .5l.5 -.5l.5 -.1l.3 -.1l.1 .4l.4 0l.5 -.4l.2 .1l.3 .3l.4 0l.4 -.3l.1 .3l.4 -.1l.5 -.5l.4 .3l0 .1l.4 -.2l.5 -.3l.3 .3l.2 .2l.4 .1l.4 -.9l.2 .9l.3 -.8l.5 .3l.4 -.1l.1 -.1l.3 -.3l.5 -.4l.4 .1l.1 -.3l.4 -.6l.4 .9l.3 -.6l.2 .1l.5 -.8l.4 .2l.2 0l.2 -.2l.5 -.5l.5 -.4l0 .2l.4 -.4l.2 .1l.2 .3l.4 -.1l.1 .2l.5 .1l.4 .6l.2 0l.2 -.1l.5 .5l.5 -.1l.1 .1l.3 .5l.4 -.2l.5 .4l0 -.2l.5 .5l.4 .5l.3 -.3l.1 .2l.5 0l.5 0l.2 .1l.2 .6l.4 .2l.5 -.2l.1 -.3l.4 .4l.4 -.2l.4 .3l0 -.1l.5 0l.5 .1l.3 -.2l.1 0l.4 -.2l.5 .2l.2 -.2l.3 .3l.4 -.2l.4 .2l.1 .1l.4 -.4l.5 .1l.4 0l0 .3l.4 .2l.5 -.2l.3 -.2l.2 .3l.4 -.6l.4 .6l.2 -.4l.3 -.4l.5 1l.4 -.2l0 -.5l.4 .2l.5 -.1l.4 .1l.1 -.4l.4 .2l.4 .2l.3 0l.2 .1l.5 -.2l.4 .4l.1 -.6l.3 .2l.5 -.4l.5 .1l0 .5l.4 -.5l.4 .3l.4 -.1l.1 -.2l.5 .1l.4 0l.4 -.1l.5 .3l.5 -.1l.4 -.2l.4 -.1l.5 .2l.5 -.1l.4 .2l.4 .3l.5 -.3l.5 -.2l.4 -.1l.4 -.1l.5 -.1l.5 0l.4 .1l.4 0l.5 .2l.5 -.2l.4 0l.4 -.2l.5 .5l.5 -.2l.4 .2l.4 -.2l.5 .1l.5 -.3" stroke="#ff0000" stroke-width="1.55" fill="none" stroke-linejoin="round"/>
<path d="M373.0 233.5l.4 .1l.5 .1l.5 .2l.4 -.3l.4 .4l.5 0l.5 .3l.4 .1l.4 .1l.5 0l.5 -.1l.4 .2l.4 .2l.5 -.3l.5 .2l.4 0l.4 .3l.5 -.3l.5 .1l.4 .2l.4 0l.5 -.2l.5 .4l.4 0l.4 0l.5 .1l.5 .2l.4 -.2l.4 .6l.5 -.3l.5 -.1l.4 .4l.4 .3l.5 -.2l.5 .4l.4 .1l.4 -.2l.5 -.2l.5 .3l.4 .5l.4 -.2l.5 -.1l.5 .2l.4 .3l.4 0l.5 .3l.5 .1l.4 -.2l.4 .2l.5 -.1l.5 .3l.4 -.1l.4 .1l.5 .6l.5 -.2l.4 .1l.4 .4l.5 -.2l.5 0l.4 .1l.4 0l.5 .3l.5 -.1l.4 .4l.4 -.3l.5 .1l.5 0l.4 .1l.4 -.1l.5 .1l.5 -.3l.1 .1l.3 .2l0 -.4l.2 .1l.2 .1l0 -.2l.3 -.2l.2 -.3l0 .6l.3 -.4l.2 .1l0 -.3l.3 .2l.1 -.4l.1 -.1l.3 -.5l.2 -.6l.2 -1l.1 -.5l.2 -1.5l.3 -3.4l.2 -5.2l.2 -5.6l0 -1.1l.3 -7.9l.1 -5.3l.1 -2.1l.3 -4.1l0 -.6l.1 -.1l.1 .3l0 .2l.1 .8l.1 1.4l.1 1.8l0 .3l.1 1l0 1.3l.1 2.8l0 .7l.1 2l.1 3.3l.1 1.5l0 1.3l0 1.6l.1 1.6l.1 2.4l0 .2l.1 2.2l0 -.2l.1 2.4l0 1l.1 1l0 .6l.1 .8l.1 1.5l.1 .7l0 .5l.1 .7l.1 .3l0 .4l0 .3l.1 .5l.1 .3l0 .1l.1 .4l0 -.1l.1 0l0 .4l.1 -.3l0 .2l.1 .3l.1 -.1l0 .1l.1 -.1l0 .3l.1 .1l.1 .2l0 -.3l.1 0l.1 .4l0 -.5l0 .2l.1 -.3l0 .3l.1 .2l0 -.3l.1 -.3l0 .5l.1 -.6l.1 -.1l.1 -.3l0 .2l.1 -.3l0 -.2l.1 -.5l.1 -.6l.1 -.2l0 -.7l0 .1l0 -.3l.1 -.8l.1 -.7l0 -.2l.1 -.9l0 -.1l.1 -1.3l0 -.8l.1 -.9l0 -.5l.1 -1l.1 -1.6l.1 -1.5l0 -.1l0 -.7l.1 -.8l.1 -1.4l0 -.5l.1 -1.1l.1 -.9l.1 -.5l0 .1l.1 -.3l.1 .3l0 .2l.1 .1l.1 .9l.1 .3l0 .1l0 .3l.1 1.4l.1 1.1l0 .6l.1 1.4l.1 .3l0 .9l.1 1.2l0 .4l.1 1.3l0 .1l.1 1.5l.1 .9l0 .3l0 .1l.1 1l.1 .4l0 .7l.1 .5l0 -.1l.1 .9l.1 .7l0 -.2l.1 .4l0 .5l.1 -.4l.1 .3l0 .4l.1 0l0 -.1l.1 0l0 .3l0 .2l.1 0l0 -.1l.1 .2l.1 -.2l0 -.2l.1 .4l0 -.5l.1 .1l.1 .2l0 -.4l.1 -.3l.1 .2l0 -.1l0 -.1l.1 -.3l0 .1l.1 -.5l.1 -.4l0 .1l0 -.3l.1 -.4l0 -.5l.1 -.4l.1 -.7l0 -.2l.1 -1.5l.1 -1.3l0 -.7l.1 -1l0 -.5l.1 -1.1l0 -1.3l.1 -1.4l0 -1.3l.1 -1.8l0 -1.2l0 -.3l.1 -3.4l0 -.9l.1 -3.5l0 -1.6l.1 -2.3l.1 -2.5l0 -2.1l.1 -3.5l0 -1.1l0 -.9l.1 -3.1l0 -2.4l.1 -1.9l0 -.8l.1 -2.2l.1 -2.6l.1 -1.6l0 .1l.1 -.5l0 -.2l.1 .6l0 -.2l.1 1.1l.1 1l0 1.2l.1 1.3l0 1l.1 1.4l0 1.4l0 .9l.1 2.5l0 .9l.1 2.9l.1 3.5l.1 2.1l0 1.4l.1 3.3l.1 2.2l0 .6l0 .5l.1 2l.1 2.6l0 .2l.1 .9l.1 .7l.1 .7l.1 .2l.1 -.1l.1 -.4l0 -.5l0 .2l.1 -.8l.1 -.6l0 .2l.1 -.7l0 -.1l.1 -.4l0 -.4l0 -.4l.1 -.1l.1 -.2l0 .1l.1 .1l.1 .1l0 .6l.1 .3l.1 .7l.1 1.1l0 .1l.1 .7l0 .4l0 .6l.1 .7l.1 1l0 .2l0 .8l.1 .7l.1 1.9l.1 1l0 .5l.1 1.3l.1 1.6l0 .2l.1 .2l0 .5l.1 1.3l.1 .5l0 .6l0 .2l.1 .8l.1 .6l0 .1l.1 .8l.1 .5l0 .4l.1 0l.1 .1l0 .3l.1 .6l.1 -.1l0 .1l.1 0l.1 .5l.1 -.1l.1 .2l.1 -.2l.1 .2l0 -.1l.1 .2l.1 .2l.1 .1l0 -.2l.1 .2l0 -.2l.1 -.1l.1 .3l0 -.1l.1 .1l.1 -.4l0 .4l.1 .1l.1 0l.1 .1l0 -.2l.1 .4l0 -.2l.1 0l.1 -.5l0 .1l.1 .5l.1 -.1l.1 .1l0 -.2l.1 0l.1 .1l.1 -.2l0 .3l.1 -.3l.1 .2l0 -.1l0 .1l.1 .1l.1 -.4l.1 .3l.1 -.1l.1 .1l.1 -.1l.1 -.1l.1 .1l0 .1l.1 -.1l.1 -.1l.1 0l.1 -.3l.1 .1l.1 0l.1 -.1l.1 -.1l.1 0l.1 .1l0 .2l.1 -.5l.1 0l.1 .2l.1 -.2l.1 -.2l.1 .3l.1 -.3l.1 -.1l.1 -.1l.1 0l.1 -.3l.1 .4l.1 -.5l.1 -.2l.1 -.3l.1 -.1l.1 -.1l.1 -.2l0 -.4l.1 -.1l.1 -.5l.1 .1l.1 -.9l.1 -1l.1 -1.1l.1 -1.5l.1 -1.5l0 -.7l.1 -1.1l.1 -2l.1 -3l.1 -3.5l.1 -4.1l.1 -4.9l.1 -6.1l.1 -7l.1 -8.7l.1 -4.9l0 -5.3l.1 -12l.1 -14.8l.1 -17.2l.1 -29.4l.1 -36.7l.1 -47.2l.1 -14.1l.1 0l.1 0l.1 0l.1 0l.1 0l.1 0l.1 14.9l.1 46.6l.1 37.3l.1 28.8l.1 9.1l0 8.5l.1 14.9l.1 12.1l.1 10.3l.1 8.7l.1 7l.1 6.3l.1 5l.1 4l0 2.1l.1 1.7l.1 2.8l.1 2.3l.1 1.8l.1 1.5l.1 1.7l.1 .9l.1 1.3l.1 .7l.1 .2l0 .4l.1 .3l.1 .6l.1 .1l.1 .3l.1 .3l.1 .2l.1 .5l.1 .3l0 -.1l.1 -.1l.1 .4l.1 .2l.1 0l.1 0l.1 .5l.1 .2l.1 0l.1 .1l.1 .2l0 .1l.1 -.2l.1 -.4l.1 .6l.1 0l.1 .1l.1 -.1l.1 0l.1 .3l0 -.1l.1 0l.1 .1l.1 0l.1 -.2l.1 .4l.1 -.2l.1 .1l.1 .1l.1 -.3l.1 .2l0 -.2l.1 .2l.1 .2l.1 -.1l.1 0l.1 .1l.1 -.1l.1 -.2l.1 .5l0 -.2l.1 .1l.1 -.1l.1 0l.1 -.1l.1 -.1l.1 .2l.1 0l0 .3l.1 -.5l.1 .3l.1 0l.1 0l.1 .1l.1 -.3l.1 .3l0 -.1l.1 -.1l.1 -.2l.1 0l.1 .3l0 -.1l.1 .1l.1 0l.1 0l.1 -.1l.1 .1l.1 -.1l.1 .3l.1 0l.1 -.2l.1 0l0 -.1l.1 .4l0 -.3l.1 .4l.1 -.7l.1 .4l.1 0l.1 0l.1 .2l.1 -.3l0 .2l0 -.2l.1 -.1l.1 0l.1 .2l.1 0l0 -.3l.1 .2l.1 .1l.1 -.1l.1 .1l0 -.4l.1 .1l.1 0l0 .1l.1 .2l0 -.3l.1 .1l.1 0l.1 -.2l.1 .1l.1 -.2l.1 .2l.1 -.2l0 -.3l.1 -.1l0 .4l.1 -.6l.1 .2l.1 -.4l0 -.2l.1 .4l.1 -.4l.1 -.4l.1 -.1l0 -.1l.1 -.3l.1 0l0 .1l.1 -.6l.1 .1l0 -.4l.1 0l.1 -.4l.1 -.2l.1 0l0 .1l.1 -.2l.1 -.2l0 -.1l.1 0l0 .4l.1 -.4l.1 -.1l.1 -.1l.1 .1l0 .2l.1 0l.1 -.3l.1 .8l0 -.1l.1 0l.1 .5l0 -.5l.1 .2l.1 .6l0 -.1l.1 .3l.1 .3l.1 .3l.1 0l0 -.2l.1 .1l.1 .5l0 -.2l.1 .3l.1 0l0 .3l.1 .2l.1 0l.1 -.1l0 .3l.1 -.1l.1 .3l.1 0l.1 .4l.1 -.4l0 -.1l.1 .2l.1 .2l.1 .4l0 -.2l.1 -.3l.1 .2l.1 -.2l.1 .3l.1 0l0 -.2l.1 0l.1 .2l.1 -.2l.1 -.2l.1 .4l.1 -.2l0 -.2l.1 .2l.1 .1l.1 .1l.1 -.3l0 .1l.1 -.2l.1 .2l.1 -.3l0 .3l.1 -.1l.1 -.3l.1 .2l.1 .3l0 -.4l.1 -.2l0 .2l.1 .1l.1 0l0 -.1l.1 -.1l.1 0l.1 .1l.1 -.2l0 .1l.1 -.4l.1 .1l.1 0l.1 .1l0 -.1l0 -.1l.1 .1l.1 -.2l0 .4l.1 -.8l0 .1l.1 .3l0 -.2l.1 -.3l0 .1l.1 -.3l.1 -.1l0 .2l.1 -.4l0 .1l.1 -.4l.1 -.2l0 -.4l.1 .1l.1 -.6l0 .3l.1 -.4l.1 -.3l0 -.5l.1 -.5l0 -.5l.1 -.4l.1 -.8l0 -.2l.1 -.8l0 -.6l.1 -1.5l0 -1.1l.1 -3.5l0 -1.5l.1 -3.7l.1 -7.6l.1 -10.2l.1 -8.7l0 -4.3l.1 -17.4l0 -7.6l.1 -13.2l0 -11.3l.1 -12.2l0 -2.5l.1 -23.3l.1 -20.3l0 -5l.1 -23.5l0 -9.8l.1 -9l.1 -11.5l0 -1.3l.1 -2.7l.1 2.2l0 1.5l.1 8.1l.1 5.2l0 6.1l.1 12.1l0 2.8l.1 10.2l.1 12.2l0 1.1l.1 15.1l.1 9.5l0 6.4l.1 17l0 5.3l.1 12.2l.1 16.6l0 7.6l.2 17.3l.1 19.1l.2 12.6l0 .4l.2 8.4l.1 4.2l.2 1.6l0 1l.2 1.6l.2 .4l0 .5l.1 .5l.2 .8l.1 -.2l.1 .4l.1 0l.2 .4l.1 .3l.5 .4l.4 .2l.2 .3l.2 .1l.1 .1l.3 0l.1 0l.2 .2l.3 .1l.2 .1l.1 0l.1 0l.2 -.1l.2 -.1l0 .1l.2 0l.3 .1l0 .2l0 -.2l.3 -.1l.2 -.1l.1 .2l.3 -.2l0 -.1l.2 .2l.1 .1l.1 -.1l.2 -.4l.2 0l.1 -.1l0 -.1l.3 -.3l.1 -.2l.1 .1l.1 -.5l.3 -.3l0 -.2l.1 -.2l.2 -.5l.1 0l.2 -.5l0 .1l.2 -.1l.1 .2l.1 -.2l.2 .2l.1 -.3l.1 .6l.2 .3l.1 .4l.1 -.2l.1 .3l.3 .8l0 -.2l.1 .2l.2 .3l.2 .1l.1 0l0 .2l.3 -.2l.1 .2l.2 -.2l0 -.1l.2 0l.1 .1l.3 -.4l0 -.2l0 .1l.3 -.5l.2 -.1l0 -.2l.1 0l.4 -.7l.1 -.2l.2 -.7l.1 -.2l.2 -.8l0 .1l.2 -.8l.1 -.2l.3 -.5l.1 -.2l.2 -.6l.2 -.5l.1 .2l0 -.4l.2 .1l.2 -.1l.1 .3l.3 .7l.2 .3l.3 1l.3 .6l.2 .6l.3 1.1l.1 0l.4 .7l.1 .4l.4 .7l.1 0l.4 .5l.2 0l.2 .4l.4 .2l.5 0l0 .2l.5 -.2l.1 .1l.3 .3l.2 -.2l.2 .2l.4 0l.1 .2l.4 -.2l.1 0l.4 .1l.1 -.2l.3 .4l.2 -.4l.3 .3l.3 .3l.2 -.2l.3 -.3l.1 .2l.4 .5l.1 -.3l.4 .3l.1 -.3l.4 -.3l.2 .4l.2 0l.4 .1l.5 -.2l.5 .1l.4 .1l.4 -.1l.5 .3l.5 .1l.4 -.2l.4 .3l.5 -.3l.5 .1l.4 -.2l.4 .5l.5 -.2l.5 .3l.4 0l.4 -.1l.5 0l.5 -.2l.4 .4l.4 0l.5 .1l.5 -.1l.4 -.2l.4 0l.5 .3l.5 .2l.4 -.3l.4 .1l.5 .1l.5 0l.4 0l.4 -.1l.5 .1l.5 0l.4 0l.4 .2l.5 -.1l.5 -.1l.4 .2l.4 -.2l.5 .1l.5 0l.4 .2l.4 .1l.5 -.2l.5 0l.4 .2l.4 0l.5 -.3l.5 .4l.4 .1l.4 -.2l.5 0l.5 .1l.4 -.1l.4 .2l.5 -.2l.5 .1l.4 .1l.4 -.3l.5 .2l.5 -.1l.4 .1l.4 0l.5 0l.5 0l.4 -.2l.4 .2l.5 -.4l.5 .4l.4 -.2l.4 .1l.1 -.4l.3 .4l.1 -.3l.2 .1l.3 -.1l.3 -.1l.1 -.3l.2 .5l.2 0l.2 -.4l.2 .2l.1 0l.3 -.2l.2 -.2l.1 .1l.3 -.4l0 .1l.3 -.3l.1 -.3l.2 -.2l.3 -.7l.3 -1.5l.2 -1.1l.1 -1.2l.3 -2.7l0 -.4l.3 -3l.1 -1.7l.2 -1.5l.3 -2.2l.1 .1l.1 0l.1 .2l.2 .3l.2 1l0 .5l.2 1.2l.1 .7l.1 .7l.2 2l0 1l.1 .9l.2 .8l.2 2.1l0 .3l.1 .4l.3 1.9l0 -.3l.1 .5l.2 1l0 .1l.1 .1l.1 .3l.1 .5l.1 -.2l.1 .2l.1 .1l0 .1l.2 .4l.1 0l0 -.3l.2 .2l.1 -.1l0 .1l.1 -.1l.2 .3l.1 -.1l.1 -.3l.1 -.1l.1 .1l.1 .4l.1 -.5l.1 -.1l.1 0l.1 -.1l.1 .1l0 -.2l.1 .1l.2 -.5l.1 -.2l.1 -.1l.1 -.5l.2 -.8l.1 -.1l0 -.3l0 -.1l.3 -1.6l0 -.5l.1 -.4l.3 -2.3l0 -.1l.1 -1.3l.3 -2.5l0 .3l.2 -2.2l.1 -1.3l.1 -.4l.3 -1.6l0 -.2l0 .3l.1 -.8l.1 .3l.2 -.6l0 .1l.1 .4l.3 .6l0 -.2l0 .4l.1 -.1l.2 .9l.1 .2l.1 .5l.2 .6l.1 .4l.1 .2l.1 .2l.1 .2l.1 .1l.1 .2l.1 0l0 .3l.2 .3l.1 0l.1 .2l0 .1l.1 .2l.1 .5l.1 .1l.1 .4l.1 .9l.1 .7l.1 .4l0 .5l.3 1.4l0 .2l.1 .9l0 -.2l.3 1.8l.1 .2l0 .1l.3 1.6l0 .3l.1 .1l.3 1l0 .1l.1 .3l.3 .1l0 .4l.1 -.1l.1 .2l.2 .2l0 -.4l.1 .4l.1 -.2l.1 -.1l.1 .3l.1 -.6l.1 -.2l.1 .2l.1 -.2l.1 -.2l.2 -.2l0 -.5l.1 .3l.1 -.3l.1 -.5l.2 -.2l0 .1l.1 -.2l.1 -.3l.2 -.1l.1 0l.1 .1l.2 -.1l0 .3l.1 -.1l.3 .6l.1 .3l.3 .6l.1 .1l.1 .1l.2 1l.1 -.2l.1 .6l.2 .1l.1 .4l.1 0l.2 .3l.1 .1l.2 .3l.1 -.2l.1 .2l.3 .3l0 -.4l.4 .4l.4 -.2l0 .3l.4 -.2l.1 .3l.3 -.3l.2 0l.2 .2l.2 -.2l.2 0l.2 .2l.2 .1l.3 -.1l.1 -.5l.4 .4l.4 0l.4 0l.4 -.1l.1 .2l.5 -.3l.4 -.2l.4 -.1l.5 0l.5 .1l.4 -.2l.4 .1l.5 -.4l.5 -.2l.4 0l.2 -.4l.2 .1l0 -.6l.2 .1l.2 -.1l.1 -.2l0 .1l.2 -.3l.2 -.3l.1 -.2l.1 -.3l.2 -.5l.1 -.2l.1 -.5l.1 -1l.2 -2.3l0 -.4l.2 -3.5l.2 -7.3l.1 -6.7l.1 -6.3l.2 -21.1l.2 -27.8l.1 -33.8l.2 -29.3l.1 -10l.1 -8.6l.1 -2.3l.1 2.1l.1 10.8l.1 2.9l.2 15.7l.1 14.7l.1 3.2l.1 6.9l.2 11.9l.2 10.4l0 4.8l.2 18.2l.2 18.5l0 3.1l.2 11.9l.1 11l.1 5l.1 2.4l.2 4.2l.2 2.2l0 .1l.2 1.1l.2 1l.1 .1l0 .2l.2 .7l.2 -.2l0 -.1l.2 .5l.2 -.1l.5 .8l.5 .1l.4 .5l.2 -.4l.2 0l0 .3l.3 0l.2 0l0 -.2l.2 0l.3 .2l.2 -.1l.2 .1l.2 -.2l.2 0l.1 -.4l.2 .4l.2 -.2l0 -.2l.3 -.5l.2 -.6l0 -.2l.2 -1.5l.2 -1.6l.1 -.5l.2 -2.8l.1 -2.8l.1 -.8l.3 -3.1l.1 -1.5l.1 -.3l.1 -.5l.1 .4l.2 .8l0 .6l.3 1.5l.1 .8l.1 .9l.2 1.8l.1 1.1l.2 1.2l.2 2.3l.1 .8l.1 1.1l.3 1.1l.1 .7l.1 .6l.2 .5l.1 .1l.2 .4l.2 .1l.2 0l.2 .1l.1 0l.2 .1l.2 .3l.1 -.2l.1 -.3l.3 .3l.2 -.2l.2 0l.5 .1l.2 .1l.2 -.1l.1 .2l.2 -.3l.2 -.1l0 -.1l.2 .2l.2 -.2l.3 -.1l.2 -.6l0 .1l.3 .1l.2 -.3l0 -.2l.2 -.4l.2 -.6l0 -.4l.3 -1.4l.1 -2.3l.1 -.8l.2 -4.7l.2 -5.8l.1 -2.1l.2 -10.5l.2 -7.7l0 -3.6l.2 -10.2l.2 -5.3l.1 -1.4l.1 -.6l.1 .6l.1 2l.2 2.3l.2 4.9l.1 3.4l.1 2.5l.2 6.2l.2 3.4l.1 4.1l.2 7.5l.1 3.3l.1 3.9l.3 5.1l0 1.8l.2 2l.2 2.3l.1 .9l.1 .9l.3 .6l.1 .2l.1 .3l.3 .2l0 .3l.2 -.3l.2 .7l0 -.3l.1 .4l.1 -.1l.2 -.1l.1 -.1l.1 .4l.1 -.2l.1 .3l.2 -.3l.1 .4l.2 -.2l.1 .1l.2 -.2l.2 .1l0 .2l.3 -.1l.2 -.2l0 .2l.3 -.4l.2 .4l0 -.3l.2 -.6l.2 -.4l.1 -.5l.3 -1.4l0 -1.2l.2 -1l.2 -2.8l.1 -1.4l.2 -2.2l.2 -3.3l.1 -.2l.2 -1.7l.1 .1l.1 -.2l0 .4l.3 1.3l.1 1.1l.1 .5l.3 1.4l.1 1.4l.1 .7l.2 2.7l.2 1.1l.1 1l.3 2.2l0 .3l.2 .9l.1 .8l.1 .5l0 .2l.2 .1l.1 .5l.1 .3l.1 .1l0 -.3l.1 .3l.2 .3l.1 .2l.1 -.2l.1 0l.2 .3l.1 -.2l0 .1l.1 -.3l.1 .1l.2 -.1l0 .1l.1 .1l.1 .2l.1 0l.1 -.1l.1 .2l.1 -.5l.1 .1l.1 .1l.2 -.3l0 -.2l.3 -.5l.1 -.7l.2 -.8l.2 -1.8l0 -.3l.2 -2.5l.3 -2.7l0 .2l.2 -2.7l.3 -1.5l0 -.3l.1 .1l.1 .2l.2 .9l.1 .1l.2 1.5l.1 1l.2 .5l.2 2.1l.1 .5l.1 1.3l.3 1.9l.1 .7l.2 1.1l.2 1.6l0 -.2l.2 1l.2 .4l.1 .3l.2 .5l.2 -.2l.1 .4l.2 -.2l.2 0l.1 .1l.2 0l.1 .1l.2 -.1l.2 -.1l0 .4l.2 -.2l.3 0l.5 .1l.4 -.3l.4 .2l.5 .1l.5 .1l.4 -.1l.4 0l.5 -.4l.5 .3l.4 .1l.4 .1l.5 -.4l.5 .3l.4 .2l.4 -.3l.5 -.3l.2 .4l.3 0l.2 -.2l.2 .3l.2 0l.2 -.4l.3 0l.2 .2l.3 .2l.2 -.4l.2 .1l.2 0l.3 -.1l.1 .1l.3 .2l.2 -.3l.3 .3l.2 -.2l.2 0l.2 -.2l.3 .2l.1 .1l.4 -.3l.1 .3l.3 -.1l.2 -.2l.3 -.2l.1 .1l.4 -.1l.4 -.5l.1 -.1l.4 -.3l.1 0l.1 -.5l.2 -.2l.1 .1l0 -.3l.1 -.1l.2 -.4l.1 .1l.1 -.4l.2 .1l.2 -.5l0 -.2l.2 -.1l.2 -.4l0 .2l.1 -.3l.1 -.3l.2 -.5l.1 -.6l0 -.3l.1 -.5l.1 -1.4l.1 -.9l.1 -3l.1 -1.5l.2 -7l.1 -5.2l.1 -4.7l0 -1.4l.2 -10.8l.2 -11.1l.1 -2.1l0 -.6l0 -.9l.1 -3.4l.1 -.9l.1 .8l.1 2.5l0 1.3l.1 1.7l0 .5l.2 6.1l.1 4.8l.1 .6l.2 3.5l0 .1l.2 2.5l.1 1.2l.1 3l.1 3.8l.1 2.3l.1 1.8l0 2.3l.1 2.8l.2 6.3l.1 1.8l0 .4l.1 2.3l0 .3l.2 3.3l.1 1.4l.1 .4l0 .2l.1 .3l.1 .7l.2 .6l.1 .5l.1 .3l.2 0l.1 .2l.1 0l.1 .1l.1 -.1l.1 .1l.1 .2l0 .2l.3 -.4l0 .2l.2 -.1l.3 .3l.1 .3l0 -.3l.4 -.3l.1 .3l0 .2l.3 -.5l.2 -.4l.2 .3l.2 -.6l.2 .4l.1 -.7l.2 .1l.3 -.6l0 .4l.4 -.9l.1 -.1l.3 -.6l.3 -.7l.2 -.2l.3 -.5l.2 .1l.1 0l.3 .1l0 -.2l.4 .7l.1 .1l.4 .8l.2 .3l.3 .9l.2 .5l.2 .2l.4 .7l.5 .3l.1 .3l.4 .2l.1 -.4l.3 .8l.2 -.2l.2 -.2l.4 .5l.1 -.2l.5 .1l0 .2l.4 -.1l.1 0l.3 0l.3 0l.2 -.1l.3 -.1l.2 .3l.4 -.1l.4 .1l.1 -.2l.4 0l.2 .2l.3 -.1l.2 -.2l.2 0l.4 .6l0 -.5l.5 .4l.1 -.4l.4 .1l.1 -.1l.3 -.1l.4 .1l.5 .4l.5 -.4l.4 -.1l.4 .2l.5 -.2l.5 0l.4 -.1l.4 .4l.5 -.1l.5 -.5l.4 .5l.4 -.2l.5 0l.5 -.1l0 .1l.2 0l.2 -.2l.1 .1l.2 0l.1 -.1l.2 0l.2 0l.1 .1l.2 -.2l.2 0l.1 .2l.2 0l.2 -.5l0 .2l.3 -.2l.1 -.2l.1 -.1l.3 0l.1 -.5l.1 -.5l.2 -1.2l.2 -.8l.1 -1.2l.2 -2.5l.1 -1l.2 -2.1l.2 -3.2l0 .1l.3 -1.6l.1 -.3l.1 .3l.3 1.1l.2 1.4l0 .2l.3 1.2l.1 .6l.1 .8l.3 .9l0 .6l0 .5l.2 1.2l.1 .8l.1 .9l.1 .6l.1 .5l.1 .6l.2 1.2l.1 -.1l.2 .9l0 .3l.2 .4l.2 .1l.1 .1l.1 .2l.1 0l.3 .1l.1 -.1l.1 .2l.1 .1l.2 -.4l.1 .2l.1 .3l.2 -.2l.1 .1l.2 -.3l.2 .3l.1 0l.3 -.2l.1 0l.2 -.4l.3 -.2l.3 -.2l.1 -.3l.2 -.2l.2 -.1l.2 .2l.1 -.5l.1 .2l.1 -.2l.3 .1l.2 .5l.1 -.2l.3 .4l0 .1l.3 .2l.1 -.1l.2 .3l.3 .2l.3 .1l.2 .1" stroke="#ff8000" stroke-width="1.5" fill="none" stroke-linejoin="round"/>
</g>
<path d="M372.2 457.0H657.8" stroke="#000" stroke-width="1.6" fill="none"/>
<path d="M373.0 456.2v10.0" stroke="#000" stroke-width="1.6"/>
<text x="373.0" y="482.6" text-anchor="middle" class="tk">20</text>
<path d="M401.4 456.2v5.7" stroke="#000" stroke-width="1.6"/>
<path d="M429.8 456.2v10.0" stroke="#000" stroke-width="1.6"/>
<text x="429.8" y="482.6" text-anchor="middle" class="tk">25</text>
<path d="M458.2 456.2v5.7" stroke="#000" stroke-width="1.6"/>
<path d="M486.6 456.2v10.0" stroke="#000" stroke-width="1.6"/>
<text x="486.6" y="482.6" text-anchor="middle" class="tk">30</text>
<path d="M515.0 456.2v5.7" stroke="#000" stroke-width="1.6"/>
<path d="M543.4 456.2v10.0" stroke="#000" stroke-width="1.6"/>
<text x="543.4" y="482.6" text-anchor="middle" class="tk">35</text>
<path d="M571.8 456.2v5.7" stroke="#000" stroke-width="1.6"/>
<path d="M600.2 456.2v10.0" stroke="#000" stroke-width="1.6"/>
<text x="600.2" y="482.6" text-anchor="middle" class="tk">40</text>
<path d="M628.6 456.2v5.7" stroke="#000" stroke-width="1.6"/>
<path d="M657.0 456.2v10.0" stroke="#000" stroke-width="1.6"/>
<text x="657.0" y="482.6" text-anchor="middle" class="tk">45</text>
<text x="515.0" y="516.6" text-anchor="middle" class="at">2<tspan style="font-family:'Liberation Serif',serif">&#920;</tspan>/&#176;</text>
<g clip-path="url(#clip)">
<path d="M724.0 432.5l.4 .5l.5 -.8l.5 1.2l.4 .3l.4 -.7l.5 .5l.5 0l.4 -.2l.4 -.1l.5 -.5l.5 1.7l.4 -.6l.4 1.2l.5 -.7l.5 -.1l.4 -.4l.4 1l.5 -.7l.5 1l.4 -.8l.4 .3l.5 -.7l.5 1.9l.4 -1.1l.4 0l.5 .6l.5 -.7l.4 .9l.4 -.8l.5 .8l.5 -.6l.4 -.3l.4 .6l.5 -.3l.5 1l.4 -.1l.4 .3l.5 -.1l.5 -.2l.4 .3l.4 .5l.5 -.4l.5 -.2l.4 0l.4 .4l.5 -.2l.5 1.3l.4 -1.3l.4 .1l.5 .4l.5 .5l.4 -.3l.4 -.2l.5 .1l.5 .3l.4 .7l.4 -.8l.5 .4l.5 -.1l.4 .5l.4 .1l.5 -.8l.5 1.8l.4 -.9l.4 -.2l.5 -.1l.5 .3l.4 .2l.4 .3l.5 -.2l.5 .3l.4 -.9l.4 .5l.5 -.1l.5 .6l.4 .2l.4 -.8l.5 .6l.3 .4l.2 .1l0 -1l.2 .8l0 -.1l.2 -.4l0 1.1l0 -1.4l.2 .4l0 .3l.2 -.1l0 -.2l.2 .7l.2 -.2l.1 -.5l.1 -.5l0 1.5l.2 -1.4l0 1.4l.2 -1l0 .1l.2 -.2l0 .5l.2 -.6l0 1l0 -.6l.2 -.2l0 -.3l.2 .4l0 -.2l.2 .9l0 -.5l.2 -1.1l0 1.4l.1 -1.8l.1 1.8l0 -1.6l.2 .9l0 .3l.2 -.4l0 -.5l.2 1.1l0 -1.4l.2 .1l0 1.3l0 -1l.2 .5l0 .2l.2 -.4l0 .1l.2 0l.2 .4l0 -.1l.1 -.3l.1 .3l0 -.7l.2 -.1l0 -.1l.2 .8l0 .3l.2 -.7l0 -.9l.2 .6l0 .4l.2 -.2l0 .4l.2 0l0 -1.1l.2 .8l0 -.5l.2 .4l0 .4l.1 .3l.1 -.5l0 -.6l.2 .1l0 .3l.2 -.7l0 .4l.2 .3l0 .1l.2 -.5l0 .3l0 .4l.2 -.5l0 -.9l.2 .8l.2 -.3l0 .2l.2 -.8l0 1.3l.1 -.4l.1 -.5l0 .4l.2 -.1l0 -.5l.2 -.8l0 -.1l.2 2.1l0 -1.4l.2 .4l0 .3l0 -.4l.2 .7l0 -1l.2 .6l0 -1.2l.2 1.2l.2 -.2l.1 -.1l.1 .3l.2 -.9l0 .9l.2 -1l0 .5l.2 -.2l0 .3l.2 -.4l0 .3l0 -.4l.2 -.3l0 .9l.2 -.3l0 -.1l.2 .2l0 -1l.2 .9l0 -1l.1 .7l.1 -.3l0 .1l.2 .2l0 -.4l.2 -.5l0 .8l.2 .1l0 -.3l.2 0l0 -1.3l0 .8l.2 -.2l0 -1l.2 .8l0 -.2l.2 -.8l0 .1l.2 .3l0 .1l.1 -.1l.1 -.8l0 -.2l.2 .1l.2 -.4l.2 .2l0 -.2l.2 -.5l0 -.7l0 .2l.2 .3l0 -.1l.2 -.2l0 -1.2l.2 0l0 -.6l.2 -1l0 .5l.1 -.4l.1 1.3l0 -.7l.2 -.9l.2 -.1l0 .2l.2 -.8l.2 -.9l0 .2l0 -.2l.2 -.6l0 -.8l.2 0l0 -1.1l.2 .3l0 -1.2l.2 -.7l0 .7l.1 -1.3l.1 -.1l0 -1.1l.2 -.4l0 -.4l.2 -.9l0 .4l.2 -1.5l0 -.9l.2 .3l0 -.5l0 -1.7l.2 0l.2 -1.6l0 -.6l.2 -.9l0 -1.8l.2 -.4l0 -.2l.1 -.2l.1 -1.2l0 -1.1l.2 -.8l0 -1.3l.2 -1.1l0 -1.8l.2 -.9l0 -1.1l.2 -1.3l0 -1.7l0 .4l.2 -2.7l0 -2.4l.2 -3.5l0 -1.9l.2 -3.6l0 -3.5l.2 -2.1l0 -3.4l.1 -1.8l.1 -1.8l0 -3.9l.2 -3.5l0 -4.4l.2 -4.1l0 -4.3l.2 -5.8l0 -5.2l.2 -4.7l0 -3.9l0 -2.5l.2 -5.4l0 -6.8l.2 -5.1l0 -6.3l.2 -8.2l0 -7.1l.2 -6.9l0 -7.9l.1 -5.5l.1 -3.3l0 -9.3l.2 -10.1l0 -9.2l.2 -10.5l0 -10.6l.2 -6l0 -6.2l.2 -6.3l0 -3.2l0 -3l.2 -6.4l0 -6.8l.2 -7.9l0 -7.1l.2 -7.3l0 -6.7l.2 -8.2l0 -8.5l.1 -4.3l.1 -4.1l0 -7.9l.2 7.9l0 8.7l.2 8.6l0 7.1l.2 8.1l0 6.3l.2 8.1l0 3.5l0 2.9l.2 7.9l0 6l.2 6.2l0 6.5l.2 6.7l0 4.9l.2 11.6l0 9.9l.1 5.5l.1 4.6l0 9.6l.2 9.3l0 8.1l.2 8.3l0 7.8l.2 7.2l0 6.8l.2 6.5l0 3.5l0 3.4l.2 6.2l0 5.7l.2 4.1l0 5.8l.2 5.3l0 5.4l.2 4.6l0 3.4l.1 2.9l.1 1.2l0 4.6l.2 3.6l0 3.8l.2 4.4l0 2.3l.2 3.1l0 3.2l.2 3.2l0 .1l0 2.7l.2 1.4l0 2.3l.2 1.9l0 1.6l.2 2.3l0 .4l.2 .6l0 1.4l.1 .2l.1 1.3l0 1.2l.2 .6l0 1.7l.2 -.3l0 1.5l.2 .8l0 1l.2 .4l0 1.6l0 -.5l.2 1.1l0 1.4l.2 .9l0 .5l.2 -.9l0 1.6l.2 .6l0 .4l.1 .3l.1 .4l0 1.1l.2 .1l0 .1l.2 .5l0 1.2l.2 -.3l0 1.6l.2 -.1l0 .2l0 .6l.2 .1l0 1l.2 -.5l0 .1l.2 2.1l0 -.4l.2 -.9l0 2.3l.1 -1.3l.1 1.8l0 .2l.2 -.1l0 -.1l.2 -.1l0 1.1l.2 -.4l0 1l.2 -.4l0 -.4l0 .5l.2 .6l.2 .5l0 -.3l.2 1.4l0 -.8l.2 .7l0 -.8l.1 1.2l.1 .4l0 -.2l.2 -.2l0 -.1l.2 .8l0 .2l.2 -.7l0 .7l.2 .4l0 -.5l0 .7l.2 -.3l0 1l.2 -1.1l0 .9l.2 -.1l0 -.8l.2 .4l0 .2l.1 .8l.1 -.6l0 .3l.2 .1l0 1.2l.2 -1.3l0 1.1l.2 -.9l0 -.6l.2 .4l0 -.2l0 .5l.2 -.5l0 .3l.2 1.3l0 -.7l.2 .1l0 .8l.2 -1.6l0 1.1l.1 -.5l.1 .3l0 -.3l.2 .4l0 .6l.2 0l0 -.4l.2 .3l0 -.9l.2 -.7l0 1.8l0 .5l.2 -.7l0 -.4l.2 .3l0 .6l.2 -1l0 .6l.2 .3l0 -.7l.1 1.4l.1 -.6l0 .5l.2 -1.2l0 .6l.2 .7l0 -.5l.2 .4l0 -1.3l.2 .8l0 -.8l0 .7l.2 .4l0 -.2l.2 -.5l0 .8l.2 .2l0 -.3l.2 .4l0 .2l.1 .1l.1 -.7l0 .4l.2 -.5l0 .3l.2 .6l0 -.5l.2 -.1l.2 .5l0 .5l0 -.3l.2 -.5l0 .5l.2 .1l0 .3l.2 -.9l0 .6l.2 -.4l.1 .8l.1 -.3l0 -.2l.2 .6l0 -.5l.2 -.4l0 .8l.2 -.8l0 .1l.2 .2l0 .1l0 .5l.2 -.5l0 -.6l.2 .6l0 .4l.2 -.2l0 .1l.2 -.5l0 .4l.1 .5l.1 0l0 -.6l.2 .1l0 -.1l.2 .9l0 -.8l.2 .3l0 -.2l.2 0l0 .3l0 .5l.2 -.6l0 .8l.2 -.5l0 .4l.2 .8l0 -.1l.2 -.9l.1 -.1l.1 .4l0 -1.1l.2 .5l0 .3l.2 -.3l.2 1l0 -1.2l.2 .5l.2 -.2l0 .8l.2 -.3l0 .8l.2 -1.3l0 .7l.2 -.7l.1 .8l.5 .5l.4 -.9l.4 1.1l.5 -.7l.5 -.1l.4 .8l.4 .3l.5 -.1l.5 .1l.4 -.1l.4 -.1l.5 -.7l.5 .9l.4 -.1l.4 .6l.5 -.6l.5 1.3l.4 -.5l.4 -.5l.5 .6l.5 -.4l.4 .8l.4 -.8l.5 .9l.5 -1.1l.4 .6l.4 0l.5 -.4l.5 .4l.4 .1l.4 -.4l.5 .1l.5 .7l.4 -.5l.4 1.1l.5 0l.5 -.9l.4 .4l.4 .2l.5 .1l.5 -.5l.4 .6l.4 -.5l.5 .2l.5 .6l.4 -.5l.4 -.4l.5 .2l.5 .5l.4 -.5l.4 0l.5 .5l.5 -.4l.4 1.4l.4 -1.2l.5 .6l.5 -.9l.4 .5l.4 .6l.5 -.1l.5 .1l.4 -.5l.4 .4l.5 -.2l.5 -.5l.4 1.2l.4 -.8l.5 .3l.5 .5l.4 0l.4 .9l.5 -1.2l.5 .7l.4 -.6l.4 .1l.5 .5l.5 -.2l.4 -.5l.4 .3l.5 .1l.5 .7l.4 -1l.4 .4l.5 .3l.5 -.2l.4 -.3l.4 .7l.5 -.8l.5 1.3l.4 -2l.4 .4l.5 1l.5 .2l.4 0l.4 -.5l.5 .3l.5 .1l.4 -.4l.4 .3l.5 -.3l.5 1l.4 -.3l.4 -.3l.5 0l.5 0l.4 .1l.4 .3l.5 -.2l.5 0l.4 .4l.4 -.2l.5 .1l.5 .1l.4 -.1l.4 -.4l.5 .4l.5 .7l.4 -.9l.4 .1l.5 .2l.5 .1l.4 .8l.4 -.7l.5 .6l.5 -.1l.4 0l.4 -.1l.5 -.1l.5 .1l.4 .3l.4 -1.4l.5 1.1l.5 .4l.4 -.9l.4 .3l.5 .5l.5 -1.2l.4 .9l.4 -.6l.5 .6l.5 .1l.4 -.1l.4 -.5l.5 .5l.5 -.3l.4 .4l.4 -.3l.5 -.2l.5 .8l.4 -.9l.4 .3l.5 .7l.5 -.3l.4 .3l.4 -.9l.5 .6l.5 -.5l.4 -.4l.4 1.1l.5 -.7l.5 .5l.4 -.5l.4 .7l.5 0l.5 -.7l.4 0l.4 -.7l.5 1l.5 .1l.4 -.2l.4 .7l.5 -.4l.5 0l.4 -.3l.4 -.4l.5 .7l.5 .4l.4 .2l.4 -.5l.5 -.7l.5 .4l.4 .3l.4 -.6l.5 .3l.5 -.1l.4 -.1l.4 -.1l.5 .6l.5 .1l.4 .3l.4 -.7l.5 .1l.5 -.8l.4 .9l.4 .5l.5 -1l.5 .6l.4 -.5l.4 .4l.5 .1l.5 -1l.4 .3l.4 0l.5 .2l.1 .7l.4 -.6l.4 0l.4 0l.4 -.4l.1 .8l.5 -.3l.2 .1l.2 -.2l.4 -.8l.2 .8l.3 -.5l.5 -.2l0 1.6l.4 -.8l.4 -.6l0 .5l.5 .1l.3 -.4l.2 -.3l.4 .5l.2 -.1l.2 -.1l.5 -1.1l.1 .9l.4 .7l.4 -1.5l.4 .1l.4 -.3l.1 .1l.5 0l.2 .8l.1 -1.1l.1 .8l.4 -1.6l.2 .6l.1 -.4l.2 -.4l.5 -.4l0 .4l.2 -.8l.2 -.3l.4 -1.2l.2 -.6l.3 -.6l.3 -1.4l.2 -.8l.1 -.5l.3 -1.2l.2 -.4l.2 -1.6l.2 .2l.3 -1.6l.1 .1l.4 -1.7l0 .1l.4 -1.2l.4 -.5l0 -.2l.1 .3l.3 0l.1 -.1l.5 1l.2 .1l.2 2.1l.4 1.3l0 -.6l0 -.3l.2 1.4l.3 1.2l.3 .3l.1 0l.1 1l.4 .9l.2 .7l.1 -.7l.1 .2l0 .8l.5 -.4l.1 .7l.2 -2.4l.2 .3l.4 .1l.2 -.7l.1 -.9l.1 -.6l.4 -1.6l.1 .2l.1 -1.5l.1 -.1l.3 -1.8l.2 -2.8l.2 -.1l.2 -.8l.2 -3.4l.2 -1l.2 -2.3l.1 -1.1l.1 -2.2l.4 -2.4l0 -1.4l.2 -1.4l.2 -1.6l.1 -1.1l.3 -3l0 -.1l.2 -1.5l.3 -.9l.1 -1.2l.2 1.1l.2 -1.1l0 -.4l.4 1.5l0 -1.1l.2 1.7l.2 .3l0 .7l.5 3.1l.1 1l.2 2.2l.2 1.2l.4 4.7l0 -.3l.2 .5l.2 3l.4 2.9l0 .4l.1 .6l.1 -.2l.4 2.6l.2 .5l.1 .7l.1 .2l.4 1.6l.2 -.1l.1 .3l.1 -1.1l.1 .1l.5 -.4l0 -.4l.2 -.5l.2 0l.4 -.3l0 -1l.3 0l.2 -1.8l.3 1.1l.2 0l.1 -.8l.1 -.3l.2 .8l.2 -.6l.2 1.7l.2 -.4l.3 3l.1 -.2l.4 1.5l.4 3.6l.4 1.8l.1 0l.3 2.2l.1 -.7l.5 3.1l0 .2l.2 .1l.2 1.3l.4 1.5l0 -1l.2 .4l.3 1.3l.4 .7l.1 -.6l0 -1l.4 1.3l.4 1.6l0 -.7l0 -.2l.5 1l.3 -.7l0 1.8l.2 -1.8l.4 1.1l.2 .3l.1 .2l.1 -.7l.5 .5l.1 .7l.1 -.3l.3 .3l.4 -.1l.2 .1l.2 -.4l.4 0l.1 .4l.5 -.2l.2 1.2l.2 -.3l.4 .4l.2 -1.2l.3 .2l.5 .9l0 -.2l.4 .2l.4 .4l0 -.9l.5 0l.3 .2l.2 1.4l.4 -.9l.2 -.3l.2 1l.5 -.2l.1 0l.4 -.1l.4 -.3l.4 .9l.5 -.4l.5 -.8l.4 0l.4 .3l.5 .7l.5 -.6l.4 .1l.4 0l.5 .3l.5 .5l.4 -.7l.4 .2l.5 .8l.5 -1.4l.4 .8l.4 0l.5 -.1l.5 .5l.4 .6l.4 -1l.5 0l.5 .3l.4 -.8l.4 .4l.5 .4l.5 -.1l.4 -.4l.4 .9l.5 -1l.5 .2l.4 -.1l.4 .6l.5 .2l.5 -.4l.4 .6l.4 -.7l.5 .3l.5 .1l.4 -.1l.4 .1l.5 -.5l.5 -.5l.4 .7l.4 .1l.5 .1l.5 -.4l.4 0l.4 1.4l.5 -.5l.5 -.2l.4 0l.4 -.4l.5 .3l.5 .5l.4 0l.4 -.7l.5 .1l.5 0l.4 -.1l.4 .7l.5 -.1l.5 -.1l.4 -.4l.4 .9l.5 -.6l.5 -1.1l.4 1.7l.4 -.4l.5 -.4l.5 .9l.4 -1.7l.4 .8l.5 .6l.5 -.6l.4 1.3l.4 0l.5 -.8l.5 0l.4 .7l.4 -.5l.5 -.7l.5 .4l.4 -.3l.4 .7l.5 -.2l.5 .6l.4 -.5l.4 -.5l.5 -.1l.5 1.2l.4 -.1l.4 -1l.5 -.2l.5 -.1l.4 1.2l.4 -.6l.5 1l.5 -1l.4 .1l.4 0l.5 .4l.5 .6l.4 -1.2l.4 .8l.5 .2l.5 -.6l.4 -.1l.4 .7l.5 -.8l.5 .2l.4 -.3l.4 .2l.5 .4l.5 0l.4 -.2l.4 .1l.5 -.6l.5 1.5l.4 -1.4l.4 .8l.5 -.6l.5 .4l.4 -.9l.4 .6l.5 -.3l.5 .7" stroke="#0000ff" stroke-width="1.6" fill="none" stroke-linejoin="round"/>
<path d="M724.0 364.1l.4 .2l.5 .1l.5 .4l.4 -.1l.4 .2l.5 .3l.5 .1l.4 -.1l.4 -.2l.5 0l.5 .1l.4 .2l.4 .2l.5 -.2l.5 0l.4 .5l.4 -.5l.5 .6l.5 .2l.4 -.3l.4 0l.5 .2l.5 .5l.4 -.2l.4 -.4l.5 .5l.5 .5l.4 .1l.4 0l.5 -.2l.5 -.4l.4 .7l.4 -.1l.5 .2l.5 .5l.4 -.3l.4 .1l.5 .2l.5 -.2l.4 -.1l.4 .1l.5 .5l.5 0l.4 -.2l.4 .6l.5 -.2l.5 -.4l.4 .6l.4 -.1l.5 -.3l.5 .6l.4 -.1l.4 0l.5 .4l.5 -.8l.4 .4l.4 .3l.5 .3l.5 -.2l.4 -.1l.4 .1l.5 .3l.5 .4l.4 -.6l.4 -.1l.5 .6l.5 0l.4 -.1l.4 .5l.5 .2l.5 -.4l.4 .1l.4 .4l.5 -.3l.5 -.2l.4 .4l.4 -.1l.5 .4l.4 -.3l.1 .1l0 .3l.1 -.2l.1 -.2l.1 -.1l.1 .8l.1 -.2l.1 -.8l.1 .2l.1 .5l0 -.4l.1 .2l.1 .2l.1 -.2l.1 0l.1 -.1l.1 .1l.1 .1l.1 .4l.1 -.2l.1 -.4l0 .4l.1 -.3l.1 -.5l.1 .5l.1 .3l.1 -.5l.1 .5l.1 -.4l.1 .1l0 -.4l.1 1l.1 -.5l.1 .2l.1 -.5l.1 -.3l.1 .8l.1 -.6l.1 .7l.1 -.5l.1 .5l0 -.7l.1 -.3l.1 .7l.1 -.2l.1 0l.1 .3l.1 -.6l.1 -.1l.1 0l0 -.1l.1 -.1l.1 .2l.1 .1l.1 .1l.1 -.2l.1 .3l.1 .3l.1 -.3l.1 .1l.1 -.4l0 .4l.1 0l.1 -.3l.1 -.3l.1 .4l.1 0l.1 .5l.1 -.6l.1 .6l0 -1.2l.1 .6l.1 -.1l.1 .1l.1 -.1l.1 .1l.1 .5l.1 -.5l.1 .4l.1 -.4l.1 0l0 -.7l.1 .7l.1 .1l.1 -.5l.1 .1l.1 -.1l.1 .9l.1 -.9l.1 0l0 -.6l.1 .4l.1 .5l.1 -.5l.1 -.4l.1 .7l.1 .1l.1 0l.1 0l.1 -.3l.1 1l0 -1l.1 .3l.1 -.6l.1 .2l.1 -.3l.1 .5l.1 -.2l.1 -.2l.1 -.3l0 .7l.1 .1l.1 0l.1 -.3l.1 .2l.1 0l.1 -.2l.1 .3l.1 -.5l.1 .1l.1 -.6l0 1.1l.1 -.9l.1 .3l.1 .1l.1 -.5l.1 .2l.1 .2l.1 -.3l.1 -.1l.1 -.2l.1 .1l.1 .2l.1 -.1l.1 .2l.1 -.4l.1 -.2l.1 .4l.1 -.2l.1 .1l0 -.2l.1 0l.1 -.1l.1 0l.1 -.5l.1 .2l.1 0l.1 .4l.1 -.6l0 .1l.1 -.3l.1 -.7l.1 .9l.1 -.3l.1 0l.1 -.9l.1 .4l.1 -.2l.1 -.7l.1 .5l0 -.4l.1 .2l.1 -.8l.1 0l.1 -.1l.1 -.4l.1 .3l.1 .1l.1 -.5l.1 .2l.1 -.5l.1 -.5l.1 -.7l.1 .5l.1 -.5l.1 -.3l.1 .1l.1 -.3l.1 -.7l0 .4l.1 -.5l.1 .1l.1 -.6l.1 0l.1 -.8l.1 -.2l.1 -.4l.1 -.2l0 -.2l.1 .2l.1 -1l.1 0l.1 -.8l.1 -.4l.1 -.2l.1 -.7l.1 .1l.1 -.7l.1 -.2l0 .1l.1 -.2l.1 -1.3l.1 -1.1l.1 -.3l.1 -.7l.1 -.5l.1 -1.2l.1 -1.1l.1 -.4l.1 -1.3l.1 -.9l.1 -1l.1 -.5l.1 -2.1l.1 -1.1l.1 -1.1l.1 -1.1l.1 -1l0 -.4l.1 -1.3l.1 -1.1l.1 -2.2l.1 -1.6l.1 -2.3l.1 -2.9l.1 -2.4l.1 -2.3l0 -1.4l.1 -.7l.1 -3.5l.1 -3.3l.1 -3.2l.1 -4.3l.1 -3.7l.1 -4.1l.1 -4.1l.1 -3.8l.1 -3.1l0 -2.5l.1 -4.8l.1 -5.1l.1 -5.8l.1 -5.8l.1 -6.9l.1 -6.6l.1 -6.9l.1 -7.3l0 -3.5l.1 -4.8l.1 -7.8l.1 -9.1l.1 -9.1l.1 -10.2l.1 -10.7l.1 -10.2l.1 -12l.1 -13l.1 -5.6l0 -7.2l.1 -4.6l.1 -5l.1 -5.4l.1 -4.5l.1 -5.8l.1 -4.8l.1 -5.8l.1 -5.7l0 -2.9l.1 -2.4l.1 -6.8l.1 -5.9l.1 -6l.1 -5.7l.1 -6.4l.1 -6.8l.1 6.5l.1 5.9l.1 4l0 2.6l.1 6.3l.1 5.8l.1 6.2l.1 5.5l.1 5.8l.1 5.5l.1 5.3l.1 5.3l0 2.9l.1 2.6l.1 5.2l.1 5.2l.1 4.1l.1 12.9l.1 12.8l.1 12.2l.1 10.7l.1 9.9l.1 6l0 4.6l.1 8.7l.1 9l.1 8.7l.1 7.7l.1 7.6l.1 7.3l.1 6.5l.1 6.7l0 2.6l.1 3.4l.1 5.1l.1 5.1l.1 4.8l.1 5.1l.1 4.9l.1 4.5l.1 2.7l.1 4.8l.1 1.6l0 2.3l.1 3l.1 3.5l.1 3.5l.1 2.4l.1 2.6l.1 3l.1 2.2l.1 2.2l0 .4l.1 1.1l.1 1.2l.1 2l.1 1.6l.1 1.2l.1 1.8l.1 .4l.1 1.6l.1 1.1l.1 .2l0 1.1l.1 1.1l.1 1.1l.1 .6l.1 1.2l.1 .6l.1 1.5l.1 .9l.1 .3l0 .4l.1 0l.1 1.1l.1 .6l.1 .7l.1 -.1l.1 1.4l.1 0l.1 .7l.1 .3l.1 -.1l0 .9l.1 .2l.1 -.4l.1 .8l.1 .3l.1 .2l.1 1.2l.1 -.7l.1 1.2l0 -.8l.1 1l.1 -.2l.1 -.2l.1 1l.1 .4l.1 -.2l.1 .9l.1 -.6l.1 1.1l.1 0l0 .5l.1 -.4l.1 .6l.1 -.2l.1 .6l.1 .1l.1 .3l.1 -.4l.1 .7l0 .1l.1 .4l.1 -.3l.1 .2l.1 .4l.1 .2l.1 -.8l.1 .9l.1 .5l.1 -.2l.1 -.4l0 .5l.1 .3l.1 -.2l.1 .5l.1 -.2l.1 .3l.1 .2l.1 .6l.1 -.4l0 .3l.1 -.2l.1 -.4l.1 .1l.1 .7l.1 -.7l.1 .1l.1 .8l.1 -.4l.1 -.1l.1 .9l0 -.7l.1 .5l.1 -.2l.1 .1l.1 .1l.1 .3l.1 .2l.1 -.6l.1 .7l0 -.4l.1 0l.1 .3l.1 -.3l.1 -.1l.1 .8l.1 -.6l.1 -.4l.1 -.3l.1 1.1l.1 -.1l0 .6l.1 -.8l.1 0l.1 .4l.1 .5l.1 0l.1 -.3l.1 -.2l.1 .3l0 .4l.1 -.4l.1 -.1l.1 .3l.1 0l.1 0l.1 .6l.1 -.4l.1 -.1l.1 -.1l.1 0l0 .3l.1 .1l.1 -.4l.1 .1l.1 .1l.1 -.2l.1 .6l.1 -.5l.1 .3l0 .3l.1 -.6l.1 .1l.1 .2l.1 .2l.1 0l.1 0l.1 .4l.1 -.6l.1 0l.1 .4l0 -.1l.1 .3l.1 0l.1 -.6l.1 -.2l.1 .8l.1 -.2l.1 .1l.1 -.3l0 .5l.1 -.3l.1 .3l.1 .1l.1 -.2l.1 0l.1 -.2l.1 1.1l.1 -1.2l.1 .6l.1 -.6l0 .2l.1 .7l.1 -.7l.1 .6l.1 -.4l.1 .4l.1 -.7l.1 .1l.1 .8l0 -.3l.1 -.4l.1 .2l.1 -.7l.1 .8l.1 -.3l.1 .1l.1 .8l.1 -.6l.1 0l.1 -.2l0 .6l.1 0l.1 -.4l.1 -.3l.1 .5l.1 .1l.1 -.6l.1 1l.1 -.6l0 .3l.1 -.3l.1 0l.1 .6l.1 -.3l.1 -.4l.1 .5l.1 .2l.1 -.3l.1 .4l.1 -.6l0 .6l.1 -.2l.1 0l.1 .4l.1 -.2l.1 -.3l.1 .3l.1 -.4l.1 .4l0 .2l.1 0l.1 -.5l.1 .1l.1 .3l.1 0l.5 -.3l.4 .3l.4 .1l.5 .4l.5 -.3l.4 0l.4 -.2l.5 -.1l.5 .8l.4 -.2l.4 -.1l.5 .5l.5 -.1l.4 -.2l.4 .3l.5 -.2l.5 .4l.4 -.1l.4 -.2l.5 .1l.5 -.1l.4 .6l.4 -.3l.5 -.2l.5 .6l.4 -.1l.4 -.1l.5 .1l.5 -.1l.4 0l.4 .5l.5 -.6l.5 0l.4 .1l.4 .7l.5 -.6l.5 .3l.4 -.1l.4 0l.5 .3l.5 0l.4 .7l.4 -.7l.5 .3l.5 .5l.4 -.1l.4 -.2l.5 .1l.5 -.2l.4 .3l.4 -.1l.5 -.3l.5 .8l.4 -.5l.4 .2l.5 -.3l.5 -.1l.4 -.1l.4 -.5l.5 1.2l.5 -.6l.4 .4l.4 .2l.5 -.4l.5 .3l.4 .3l.4 -.1l.5 .2l.5 -.9l.4 1l.4 .2l.5 -.7l.5 .7l.4 -.3l.4 .1l.5 .3l.5 -.6l.4 .7l.4 -.4l.5 .5l.5 -.2l.4 .1l.4 -.3l.5 .3l.5 -.3l.4 .2l.4 -.2l.5 .4l.5 -.2l.4 1l.4 -.9l.5 -.3l.5 1l.4 -.4l.4 .3l.5 -.1l.5 -.2l.4 .1l.4 -.1l.5 .7l.5 -.2l.4 -.5l.4 .7l.5 -.1l.5 -.6l.4 .3l.4 .4l.5 0l.5 .6l.4 -.6l.4 .3l.5 -.4l.5 .2l.4 0l.4 .1l.5 .1l.5 0l.4 -.5l.4 .7l.5 -.5l.5 .6l.4 0l.4 .1l.5 -.4l.5 .3l.4 .1l.4 -.3l.5 -.3l.5 1l.4 -.6l.4 0l.5 -.2l.5 0l.4 -.4l.4 .5l.5 0l.5 0l.4 .9l.4 -.6l.5 -.1l.5 .2l.4 -.2l.4 .6l.5 0l.5 -.6l.4 .6l.4 -.1l.5 .6l.5 -.4l.4 -.8l.4 .3l.5 .4l.5 -.1l.4 .3l.4 -.4l.5 .1l.5 .4l.4 -.3l.4 -.1l.5 .7l.5 -.7l.4 .1l.4 -.3l.5 .3l.5 -.6l.4 1l.4 -1.1l.5 1l.5 -.6l.4 .4l.4 .4l.5 -.5l.5 .2l.4 -.3l.4 .1l.5 .5l.5 -.6l.4 .4l.4 -.2l.5 -.2l.5 .4l.4 -.6l.4 .4l.5 -.5l.5 .3l.4 -.3l.4 .4l.5 .2l.5 0l.4 -.2l.4 -.1l.5 -.2l.5 0l.4 -.2l.4 .9l.5 -.7l.5 0l.4 0l.4 -.3l.5 .7l.5 -.6l.4 -.2l.4 .8l.5 -.2l.4 -.2l.1 -.3l.4 .5l.3 -.4l.1 0l.5 .3l.1 -.4l.4 -.2l.4 -.5l0 1l.4 -1.1l.4 .4l.1 -.1l.5 .1l.2 0l.2 .2l.4 -.3l.1 -.7l.4 .8l.4 -.5l.1 .3l.4 -.4l.2 .3l.2 -.1l.5 .3l.1 -.2l.4 .1l.4 -.9l0 .9l.4 -.7l.4 .2l.1 0l.5 -.2l.1 -.4l.3 -.5l.3 .4l.1 0l.1 -.1l.4 -.5l.2 -.2l.2 -.4l.1 -.6l.4 -.6l.1 -.8l.1 0l.2 -.6l.5 -1.1l.1 -.9l.4 -1.2l.3 -1.6l.1 0l0 -.8l.4 -2l.3 .1l.1 -.3l.1 -.7l.5 -1.5l.1 -.6l0 -.3l.3 .2l.1 -.5l.3 .8l.1 -.1l0 -.5l.4 1.3l.3 .5l.1 .5l.1 .7l.4 1.2l.2 .9l.1 .2l.1 .6l.5 2l.1 .1l.1 .3l0 -.6l.3 1.1l.4 .7l0 .3l0 -.2l.1 .6l.3 1l.3 -.6l.1 -.2l.1 .4l.5 -1l.1 .1l.1 .3l.1 -.6l.1 -.1l.4 -.8l.1 -.4l.1 -.2l.1 -1.1l.2 0l.3 -2.5l.1 -.3l.1 -.3l.1 -1l.3 -2.6l.2 -1.4l.1 -.5l.1 -1.2l.1 -.9l.4 -4.2l.1 -.7l0 -.7l.3 -2.9l.1 -.4l.4 -4.1l0 -1.1l0 -.6l.3 -2.7l.1 -1.5l.3 -2.4l.1 -.3l.1 -.5l.2 -2l.3 -.5l.1 0l0 .3l.1 -.7l.2 1.2l.1 .5l.3 1.8l.1 .3l.4 2.7l.3 3.3l.1 .8l.1 .7l.3 3.7l.1 .9l.2 1.3l.1 1.3l.1 1.5l.3 1.3l.2 1.3l.1 .5l0 .7l.4 1.1l.1 1.2l.2 .3l.1 .4l0 -.4l.4 .3l.1 .3l.2 .4l.1 -.4l.1 0l.4 -1.2l.1 -.2l.2 -.2l.2 -.4l.3 -.6l.1 -.5l.1 -.2l.4 .7l.2 .2l.2 1.3l.1 -.7l.4 1.7l.1 1l.1 .4l.2 1.2l.5 2.9l.1 .1l.4 2l.3 1.7l.1 .5l.4 2.1l.3 1.5l.1 -.2l.1 .2l.5 1.7l.1 .2l0 .3l.3 .6l.4 .6l.1 .2l.4 .8l.4 .6l0 -.3l.1 .4l.4 .3l.2 -.5l.1 .3l.1 -.8l.5 .9l.1 .3l.1 -.1l.3 .4l.4 0l0 .2l.1 -.2l.3 .4l.4 0l.1 .1l.5 .3l.1 -.5l.3 .9l.4 -.4l.1 .1l.4 -.1l.3 0l.2 -.3l.4 .4l.2 -.3l.2 .1l.5 .9l.1 -.4l.4 0l.4 -.2l0 .3l.4 .1l.3 .2l.2 -.2l.5 .1l.1 .4l.3 -.2l.4 .2l.5 -.7l.5 .4l.4 .5l.4 -.3l.5 .5l.5 -.5l.4 .5l.4 -.9l.5 .4l.5 .3l.4 -.4l.4 -.2l.5 .9l.5 .3l.4 -.4l.4 -.4l.5 .4l.5 -.4l.4 -.2l.4 .8l.5 0l.5 -.1l.4 -.4l.4 -.3l.5 .9l.5 -.2l.4 .4l.4 -.8l.5 -.2l.5 1l.4 .2l.4 -.1l.5 -.1l.5 -.1l.4 .1l.4 -.3l.5 .8l.5 -.1l.4 -1l.4 .9l.5 -1.1l.5 .8l.4 -.2l.4 .6l.5 -.4l.5 -.1l.4 .5l.4 -.6l.5 0l.5 .7l.4 -.3l.4 -.1l.5 -.2l.5 .2l.4 -.1l.4 .2l.5 0l.5 -.1l.4 .1l.4 .5l.5 -.3l.5 0l.4 -.2l.4 .2l.5 -.1l.5 .1l.4 0l.4 -.3l.5 0l.5 -.5l.4 .4l.4 .4l.5 .6l.5 0l.4 -.7l.4 -.8l.5 1l.5 .1l.4 .3l.4 -.6l.5 .1l.5 0l.4 .1l.4 -.3l.5 .5l.5 -.3l.4 .2l.4 0l.5 -.7l.5 .8l.4 -.4l.4 0l.5 .1l.5 -.1l.4 .3l.4 -.7l.5 .6l.5 .3l.4 0l.4 .3l.5 0l.5 0l.4 -.4l.4 -.1l.5 -.3l.5 .4l.4 .2l.4 -.1l.5 -.2l.5 .6l.4 .3l.4 -.7l.5 .5l.5 -.2l.4 -.4l.4 .3l.5 -.2l.5 .6l.4 0l.4 -.2l.5 -.2l.5 .2l.4 0l.4 .3l.5 0l.5 -.1l.4 -.6l.4 .6l.5 .1l.5 -.4" stroke="#8000ff" stroke-width="1.6" fill="none" stroke-linejoin="round"/>
<path d="M724.0 295.4l.4 .4l.5 0l.5 -.3l.4 .1l.4 .1l.5 .3l.5 0l.4 .3l.4 -.6l.5 .9l.5 -.3l.4 .3l.4 -.1l.5 0l.5 .3l.4 .2l.4 -.2l.5 .1l.5 .3l.4 -.3l.4 -.1l.5 .6l.5 -.2l.4 -.2l.4 .4l.5 .1l.5 -.1l.4 .1l.4 .4l.5 .3l.5 -.2l.4 0l.4 .4l.5 .1l.5 -.1l.4 .3l.4 .2l.5 -.3l.5 0l.4 .3l.4 .1l.5 .3l.5 -.5l.4 .2l.4 .1l.5 -.2l.5 .6l.4 .1l.4 -.2l.5 .6l.5 0l.4 0l.4 0l.5 .2l.5 -.5l.4 .6l.4 .1l.5 -.5l.5 .6l.4 -.1l.4 .3l.5 -.2l.5 .2l.4 .1l.4 -.2l.5 .5l.5 -.1l.4 .2l.4 -.2l.5 .5l.5 -.1l.4 -.1l.4 .3l.5 .2l.5 .2l.4 -.8l.4 .7l.5 0l.5 -.1l.4 -.2l.3 .6l.1 -.6l0 .5l.1 .2l.1 -.8l.1 .4l.1 -.3l.1 .4l.1 .4l.1 .1l.1 -.9l.1 .2l.1 .4l0 .2l.1 -.3l.1 -.3l.1 .3l.1 -.1l.1 -.1l.1 -.1l.1 .3l.1 -.1l0 -.1l.1 0l.1 -.3l.1 .2l.1 .4l.1 -.3l.1 -.3l.1 .7l.1 -.2l.1 .4l.1 -.6l0 -.1l.1 -.2l.1 .6l.1 .3l.1 -.8l.1 0l.1 .3l.1 -.3l.1 .1l.1 .1l.1 .2l.1 -.2l.1 .2l.1 -.4l.1 .2l.1 -.6l.1 .2l.1 .5l.1 -.3l0 .3l.1 -.1l.1 .2l.1 -.1l.1 0l.1 -.3l.1 -.1l.1 0l.1 0l0 -.1l.1 .1l.1 .1l.1 .1l.1 -.2l.1 -.4l.1 .5l.1 0l.1 .2l.1 -.1l.1 -.3l.1 .6l.1 -.3l.1 .3l.1 0l.1 -.7l.1 .3l.1 0l.1 0l.1 -.1l.1 0l.1 -.5l.1 .3l.1 -.1l.1 .2l.1 -.2l.1 .3l.1 0l.1 -.1l.1 -.1l.1 -.2l.1 .1l.1 -.1l.1 .2l.1 -.1l.1 .1l.1 -.5l0 .6l.1 -.5l.1 0l.1 .1l.1 -.1l.1 .2l.1 -.2l.1 -.2l.1 .1l.1 .5l.1 -.4l0 -.3l.1 .3l.1 -.4l.1 .8l.1 -.9l.1 .5l.1 0l.1 -.5l.1 .4l0 .1l.1 -.1l.1 -.1l.1 .2l.1 -.3l.1 0l.1 -.1l.1 .1l.1 -.4l.1 .4l.1 -.3l0 -.2l.1 .3l.1 .3l.1 -.2l.1 -.4l.1 .3l.1 -.4l.1 .1l.1 0l0 -.6l.1 .6l.1 -.4l.1 .1l.1 -.3l.1 -.1l.1 .1l.1 .4l.1 .2l.1 -.5l.1 .2l0 -.3l.1 -.5l.1 .5l.1 0l.1 -.3l.1 .1l.1 0l.1 -.4l.1 -.3l0 .3l.1 0l.1 -.1l.1 .2l.1 .1l.1 -.6l.1 .2l.1 -.1l.1 -.1l.1 0l.1 -.4l0 .2l.1 .2l.1 -.4l.1 -.5l.1 .2l.1 0l.1 -.4l.1 -.4l.1 .3l0 -.8l.1 .3l.1 -.4l.1 -.5l.1 .4l.1 -.5l.1 -.7l.1 .2l.1 -.5l.1 -.7l.1 .1l0 .1l.1 -.2l.1 -.4l.1 -.4l.1 -.3l.1 -.5l.1 0l.1 -.7l.1 -.3l0 -.2l.1 -.6l.1 -.4l.1 .2l.1 -.8l.1 -.6l.1 -.4l.1 -.7l.1 -.4l.1 -.8l.1 0l0 -.8l.1 .2l.1 -1.1l.1 -.9l.1 -.3l.1 -.7l.1 -.6l.1 -1.1l.1 -1l.1 -1.9l.1 -1.3l.1 -1.8l.1 -1.7l.1 -2.5l.1 -1.9l.1 -1.8l.1 -2.5l.1 -2.1l.1 -1.9l0 -1.1l.1 -2.2l.1 -3.9l.1 -3.3l.1 -3.2l.1 -3.6l.1 -3.7l.1 -4.3l.1 -4.7l0 -2.1l.1 -1.7l.1 -5.4l.1 -7.2l.1 -6.8l.1 -8.3l.1 -8.5l.1 -9.8l.1 -9.9l.1 -11.5l.1 -6l0 -6.5l.1 -13.3l.1 -14.3l.1 -15.4l.1 -11.2l.1 -11.8l.1 -11.9l.1 -13.2l.1 -13.7l0 -7.2l.1 -7.3l.1 -15.2l.1 -7.4l.1 0l.1 0l.1 0l.1 0l.1 0l.1 0l.1 0l.1 0l.1 0l.1 0l.1 0l.1 0l.1 0l.1 0l.1 0l.1 0l.1 0l.1 0l.1 0l.1 0l.1 0l.1 0l.1 0l.1 0l.1 0l0 8l.1 15.1l.1 14.1l.1 13.7l.1 13.5l.1 11.8l.1 11.9l.1 10.8l.1 15.5l0 7.3l.1 7.3l.1 13.3l.1 12.4l.1 10.8l.1 10.6l.1 9.7l.1 9.3l.1 7.2l.1 8.2l.1 3.3l0 2.9l.1 4.8l.1 4.9l.1 4.7l.1 3.9l.1 3.9l.1 3.7l.1 3.1l.1 3.6l0 1.4l.1 1.3l.1 3.1l.1 2.6l.1 2.8l.1 2.1l.1 2.1l.1 2.6l.1 1.9l.1 1.9l.1 .7l0 .7l.1 1.5l.1 1.6l.1 1.7l.1 .6l.1 .3l.1 1l.1 .4l.1 1l.1 .3l.1 .9l.1 .6l.1 .2l.1 1.1l.1 .9l.1 -.4l.1 1.3l.1 -.1l.1 .3l0 .3l.1 .1l.1 1.1l.1 .2l.1 .1l.1 .6l.1 0l.1 .7l.1 .7l0 -.5l.1 .5l.1 .4l.1 .6l.1 .4l.1 -.2l.1 .2l.1 .6l.1 .1l.1 .3l.1 .4l0 .3l.1 -.1l.1 .1l.1 .5l.1 -.4l.1 .7l.1 -.2l.1 1l.1 -.3l.1 -.1l.1 -.4l.1 .9l.1 .4l.1 -.5l.1 .4l.1 .2l.1 -.5l.1 .7l.1 .2l0 -.3l.1 .1l.1 .3l.1 -.5l.1 .5l.1 .3l.1 -.5l.1 .6l.1 -.2l0 -.4l.1 .5l.1 -.1l.1 .4l.1 -.3l.1 .6l.1 -.4l.1 .4l.1 -.2l.1 .1l.1 .4l0 -.2l.1 -.1l.1 -.1l.1 .6l.1 0l.1 -.2l.1 .2l.1 -.3l.1 .1l.1 .4l.1 0l.1 -.2l.1 .4l.1 .1l.1 -.1l.1 .2l.1 -.3l.1 .1l.1 .2l0 -.1l.1 .3l.1 -.5l.1 .7l.1 -.5l.1 .2l.1 -.3l.1 .5l.1 .3l0 -.1l.1 0l.1 -.6l.1 .3l.1 .1l.1 -.1l.1 .5l.1 -.2l.1 0l.1 .2l.1 -.4l0 .1l.1 0l.1 .4l.1 0l.1 .1l.1 .1l.1 -.6l.1 .3l.1 .2l0 -.4l.1 .2l.1 .4l.1 .1l.1 0l.1 -.2l.1 -.1l.1 .4l.1 -.3l.1 .2l.1 .2l0 -.4l.1 0l.1 .2l.1 .1l.1 0l.1 0l.1 .1l.1 -.5l.1 .2l0 .3l.1 -.3l.1 -.1l.1 .1l.1 .1l.1 .2l.1 -.2l.1 .3l.1 .4l.1 -.4l.1 .3l0 -.2l.1 -.3l.1 .2l.1 -.2l.1 .5l.1 -.5l.1 .7l.1 -.2l.1 -.6l0 .7l.1 .2l.1 -.6l.1 .5l.1 -.7l.1 .6l.1 -.5l.1 .6l.1 -.6l.1 -.2l.1 .8l0 .5l.1 -.7l.1 .3l.1 -.1l.1 -.1l.1 .2l.1 .3l.1 -.7l.1 .5l0 -.1l.1 -.4l.1 .8l.1 .1l.1 -.7l.1 .7l.1 -.4l.1 -.1l.1 .5l.1 -.4l.1 .1l0 .3l.1 -.1l.1 0l.1 -.6l.1 0l.1 .7l.1 -.5l.1 .3l.1 -.3l0 .2l.1 -.3l.1 .8l.1 -.7l.1 .3l.1 0l.1 .3l.1 -.6l.1 .3l.1 0l.1 .2l.1 -.2l.1 .2l.2 -.1l.4 .2l.5 -.1l.5 0l.4 .2l.4 .1l.5 .6l.5 -.7l.4 .3l.4 .3l.5 -.8l.5 .2l.4 .1l.4 .4l.5 .7l.5 -.5l.4 .3l.4 -.4l.5 -.5l.5 .1l.4 .9l.4 -.2l.5 -.3l.5 .7l.4 -.6l.4 .7l.5 .1l.5 -.5l.4 -.1l.4 .6l.5 -.5l.5 .6l.4 -.5l.4 .5l.5 -.1l.5 -.1l.4 0l.4 .3l.5 -.5l.5 .4l.4 .1l.4 .3l.5 -.5l.5 .8l.4 -.5l.4 -.1l.5 .7l.5 .1l.4 -.5l.4 -.1l.5 .3l.5 -.2l.4 .2l.4 .5l.5 -.3l.5 0l.4 .1l.4 -.1l.5 .3l.5 0l.4 -.2l.4 .1l.5 .6l.5 -.4l.4 -.1l.4 .6l.5 -.5l.5 -.2l.4 .4l.4 -.3l.5 .1l.5 .3l.4 -.1l.4 -.1l.5 .1l.5 0l.4 .5l.4 -.5l.5 .1l.5 .7l.4 -.6l.4 .5l.5 0l.5 -.3l.4 -.3l.4 .5l.5 .1l.5 .1l.4 -.2l.4 .3l.5 .1l.5 -.5l.4 .6l.4 -.3l.5 -.1l.5 .1l.4 .6l.4 -.2l.5 -.7l.5 .5l.4 0l.4 0l.5 0l.5 -.2l.4 .6l.4 -.4l.5 .2l.5 -.1l.4 0l.4 .4l.5 0l.5 -.2l.4 -.1l.4 .2l.5 .4l.5 -.2l.4 .1l.4 -.1l.5 0l.5 .2l.4 -.5l.4 .9l.5 -.6l.5 .1l.4 .5l.4 -.3l.5 0l.5 -.1l.4 -.2l.4 .4l.5 .3l.5 -.5l.4 .6l.4 -.6l.5 .1l.5 .4l.4 -.2l.4 .2l.5 -.3l.5 0l.4 -.2l.4 .2l.5 0l.5 0l.4 .4l.4 -.2l.5 -.3l.5 1.1l.4 -.8l.4 -.1l.5 .7l.5 0l.4 -.6l.4 0l.5 .1l.5 .6l.4 -.4l.4 -.1l.5 .2l.5 .4l.4 -.7l.4 .3l.5 -.2l.5 .9l.4 -.1l.4 -.2l.5 -.2l.5 .2l.4 -.7l.4 .7l.5 -.4l.5 0l.4 .2l.4 .1l.5 .2l.5 .1l.4 -.1l.4 -.3l.5 .4l.5 -.2l.4 .3l.4 -.6l.5 -.4l.5 .5l.4 .7l.4 -.4l.5 -.2l.5 .2l.4 -.1l.4 0l.5 -.2l.5 .1l.4 0l.4 -.2l.5 -.1l.5 .3l.4 .2l.4 -.1l.5 -.1l.5 0l.4 .5l.4 -.6l.5 .2l.5 .2l.4 -.5l.2 0l.2 .2l.5 .2l0 -.4l.5 0l.3 -.1l.1 -.3l.4 .5l.2 -.3l.3 -.4l.5 .3l.4 -.4l.3 .1l.1 .3l.5 -.3l.1 .5l.4 -.7l.4 .4l.4 .2l.3 -.2l.2 -.2l.5 -.1l0 -.1l.4 .2l.4 -.5l0 .3l.5 -.3l.2 0l.3 -.2l.4 .3l.1 -.7l.3 -.1l.4 -.3l.1 -.1l.5 -.7l.1 -.3l.2 -.2l.1 -.9l.4 -.8l.1 -.4l.1 -.1l.3 -1.3l.3 -1.2l.2 -.3l0 .1l.4 -1.9l.2 -.8l.2 -.8l0 -1l.5 -2.3l0 .4l.3 -1l.2 -.3l.2 -.5l.2 -1.1l.1 .9l.1 -.3l.2 -.1l.2 .1l.3 1.2l0 -.5l.4 1.3l.1 .3l.2 .9l.2 1.1l.2 1l.2 .9l.2 .7l.3 .8l.1 .9l.4 .6l0 .6l.3 .2l.1 .6l.4 .3l0 .4l.1 -.1l.2 -.3l.2 .4l.2 .2l.1 .1l.2 -.6l0 -.2l.4 -.3l.1 -.1l.1 -.3l.1 -.4l.1 0l.5 -1.7l0 -.2l0 -.5l.2 -.6l.3 -1.7l.2 -2.4l0 .5l.2 -1.4l0 -.3l.4 -3.6l.2 -1.6l0 -.2l.2 -1.4l.1 -1.9l.4 -5.7l.1 -.1l.1 -1.8l.3 -3.8l.3 -3.1l.1 -.7l0 -.9l0 -.4l.5 -4.4l.1 -.4l.1 -.7l.1 -.4l.2 -.2l.1 -.4l.3 .1l0 .7l.1 0l0 .3l.3 1.8l.3 2.6l.1 1.6l.1 .6l.5 5.2l0 1.9l.2 1.4l0 .6l.2 2.4l.4 3.8l0 1.2l.1 .2l.1 1.1l.3 2.8l.2 1.8l.2 1.1l.1 .2l.4 2.5l0 .6l.2 .5l.1 .3l.1 -.3l.4 .1l.1 .6l.2 -.1l.3 -.5l.1 -.2l.3 -1l.1 -.5l.3 -1.6l.4 -1.6l.1 -.3l.3 -1.4l.2 -.1l.2 -1.6l.2 -.4l.1 -.6l.3 0l.1 .2l.1 .1l.3 .4l0 .3l.5 1.8l.2 1l.2 .8l.3 3.5l.1 .5l.2 .5l.3 1.8l.2 1.2l.2 1.9l.1 -.7l.4 2.9l0 .6l.2 .5l.2 1.1l.4 1.1l.1 .8l.1 -.6l.4 .9l.2 .9l.1 .5l.1 -.2l.4 1l.2 -.3l0 -.1l.3 1l.4 .3l.1 0l0 -.5l.4 .1l.3 .1l0 .3l.1 .2l.5 .1l.1 -.4l.4 .5l.4 0l0 .1l.4 0l.3 0l.2 .2l.5 0l.1 0l.3 -.2l.4 .3l0 -.1l.5 -.5l.3 .7l.2 -.2l.4 .4l.1 -.3l.3 0l.4 .1l.1 0l.5 -.1l.2 -.4l.2 1l.4 -.9l.1 .3l.4 .3l.5 -.1l.4 .1l.4 0l.5 .1l.5 -.2l.4 .6l.4 -1l.5 .3l.5 -.1l.4 -.1l.4 .2l.5 .3l.5 -.5l.4 0l.4 .3l.5 -.1l.5 .4l.4 -.2l.4 -.2l.5 -.1l.5 .2l.4 -.1l.4 -.3l.5 .4l.5 -.1l.4 0l.4 0l.5 .6l.5 -.3l.4 .1l.4 -.4l.5 0l.5 .2l.4 .1l.4 -.1l.5 0l.5 .3l.4 -.1l.4 -.3l.5 .1l.5 0l.4 .2l.4 -.3l.5 .3l.5 .2l.4 -.1l.4 -.3l.5 .1l.5 .2l.4 .1l.4 .1l.5 -.2l.5 -.3l.4 .7l.4 -.2l.5 0l.5 0l.4 -.3l.4 .2l.5 .1l.5 .2l.4 -.2l.4 -.8l.5 .8l.5 .1l.4 .3l.4 -.2l.5 .5l.5 -.3l.4 0l.4 0l.5 -.6l.5 .6l.4 -.1l.4 -.3l.5 .3l.5 0l.4 -.2l.4 .1l.5 0l.5 .1l.4 -.1l.4 .2l.5 -.6l.5 .4l.4 -.3l.4 .3l.5 .3l.5 -.1l.4 0l.4 0l.5 .4l.5 -.7l.4 .6l.4 -.6l.5 .2l.5 .2l.4 -.2l.4 .2l.5 .2l.5 -.5l.4 .3l.4 0l.5 -.4l.5 .4l.4 -.1l.4 .5l.5 -.5l.5 .7l.4 -.6l.4 .6l.5 -.3l.5 0l.4 .1l.4 0l.5 .2l.5 .1l.4 -.5l.4 -.3l.5 -.3l.5 .6l.4 .3l.4 -.1l.5 0l.5 -.1l.4 -.1l.4 .1l.5 .2l.5 -.6" stroke="#ff0000" stroke-width="1.55" fill="none" stroke-linejoin="round"/>
<path d="M724.0 229.9l.4 .3l.5 0l.5 .1l.4 .3l.4 -.6l.5 .2l.5 -.1l.4 .4l.4 .4l.5 -.2l.5 .2l.4 -.5l.4 .6l.5 -.2l.5 .7l.4 -.1l.4 .1l.5 -.2l.5 .3l.4 0l.4 -.1l.5 0l.5 .2l.4 -.1l.4 .1l.5 .2l.5 -.1l.4 .5l.4 -.5l.5 .7l.5 -.3l.4 .1l.4 -.1l.5 .3l.5 .1l.4 .2l.4 -.1l.5 .2l.5 .5l.4 -.3l.4 -.1l.5 .4l.5 -.2l.4 .3l.4 0l.5 -.1l.5 -.3l.4 .4l.4 .3l.5 -.1l.5 .2l.4 .2l.4 -.3l.5 .5l.5 .2l.4 -.1l.4 .1l.5 .1l.5 .3l.4 -.4l.4 0l.5 .2l.5 -.3l.4 -.1l.4 .3l.5 .3l.5 .1l.4 -.4l.4 0l.5 .4l.5 .1l.4 .1l.4 .3l.5 .2l.5 -.2l.4 .1l.4 -.5l.5 0l.5 .4l.4 .1l.1 0l.1 0l.1 0l.1 0l0 -.6l.1 .2l.1 .3l.1 .1l.1 -.5l.1 .6l.1 -.4l.1 .1l.1 .1l.1 .1l.1 -.5l0 .6l.1 -.3l.1 -.2l.1 .2l.1 -.5l.1 .4l.1 .2l.1 -.3l.1 .1l0 .1l.1 0l.1 .3l.1 -.3l.1 -.1l.1 .2l.1 .4l.1 -.6l.1 .2l.1 -.5l.1 .7l0 -.1l.1 .1l.1 -.3l.1 -.3l.1 .5l.1 0l.1 -.4l.1 -.2l.1 .5l0 -.2l.1 .7l.1 -.8l.1 0l.1 .1l.1 -.4l.1 .2l.1 .7l.1 -.5l.1 -.1l.1 -.2l0 .5l.1 0l.1 -.1l.1 -.2l.1 .2l.1 0l.1 -.3l.1 .4l.1 -.7l0 .2l.1 .2l.1 .1l.1 -.3l.1 .4l.1 .1l.1 -.1l.1 -.1l.1 .1l.1 -.1l.1 -.4l0 .3l.1 .3l.1 -.6l.1 .3l.1 -.1l.1 -.1l.1 -.1l.1 .3l.1 0l.1 -.4l.1 .3l.1 .1l.1 .1l.1 0l.1 0l.1 0l.1 0l.1 -.5l.1 .3l0 -.2l.1 -.5l.1 .2l.1 .9l.1 -.8l.1 -.3l.1 .4l.1 .5l.1 -.4l0 .1l.1 -.2l.1 .1l.1 .3l.1 -.2l.1 -.2l.1 .2l.1 0l.1 -.3l.1 .1l.1 0l0 -.3l.1 .5l.1 -.4l.1 -.1l.1 -.3l.1 .1l.1 .6l.1 -.7l.1 .4l0 -.2l.1 .2l.1 0l.1 -.4l.1 .1l.1 .1l.1 -.1l.1 0l.1 -.1l.1 .1l.1 .2l0 -.2l.1 -.4l.1 .2l.1 -.1l.1 0l.1 .3l.1 -.6l.1 0l.1 -.3l0 .1l.1 -.1l.1 .5l.1 -.4l.1 -.3l.1 .6l.1 -.9l.1 .4l.1 0l.1 -.2l.1 -.2l.1 -.2l.1 .2l.1 -.9l.1 .4l.1 .1l.1 -.3l.1 -.4l.1 .3l0 -.2l.1 .3l.1 .1l.1 -.5l.1 -.6l.1 .4l.1 -.3l.1 .2l.1 .2l.1 -.5l.1 .4l0 -.2l.1 -.4l.1 -.5l.1 .2l.1 -.6l.1 .5l.1 -.4l.1 .2l.1 -.4l0 -.6l.1 .5l.1 -.1l.1 .1l.1 -.9l.1 -.1l.1 0l.1 -.4l.1 -.3l.1 -.1l.1 .8l0 -.9l.1 -.3l.1 -.1l.1 -.1l.1 0l.1 -.3l.1 -.3l.1 -.4l.1 -.2l0 -.3l.1 -.4l.1 .6l.1 -.9l.1 .1l.1 -.6l.1 -.2l.1 -.4l.1 -.6l.1 0l.1 0l0 -.1l.1 -.4l.1 -.2l.1 -.5l.1 -.5l.1 -.8l.1 0l.1 -.1l.1 -1.2l0 -.3l.1 -.7l.1 -1.1l.1 -.3l.1 -1.5l.1 -.8l.1 -1.4l.1 -1.5l.1 -1.7l.1 -3l.1 -2.3l0 -2.2l.1 -3.7l.1 -5.3l.1 -4.5l.1 -3.7l.1 -3.9l.1 -4l.1 -4.5l.1 -4.8l0 -2.3l.1 -3.4l.1 -4.7l.1 -6.3l.1 -6l.1 -6.8l.1 -7.8l.1 -7.5l.1 -8.6l.1 -9.5l.1 -4.8l0 -3.5l.1 -8.3l.1 -7.8l.1 -8.4l.1 -9.3l.1 -9.9l.1 -9.8l.1 -10.2l.1 -11.4l0 -6.2l.1 -6.2l.1 -4.3l.1 0l.1 0l.1 0l.1 0l.1 0l.1 0l.1 0l.1 0l.1 0l.1 0l.1 0l.1 0l.1 0l.1 0l.1 0l.1 0l.1 0l.1 0l.1 0l.1 0l.1 4.8l.1 11.7l.1 11.5l.1 10.7l.1 10l.1 5l0 4.7l.1 8.6l.1 8.9l.1 8.2l.1 7.7l.1 8.2l.1 9.4l.1 8.8l.1 7.8l0 4.1l.1 3.1l.1 6.9l.1 6.3l.1 6l.1 5.5l.1 4.8l.1 5.3l.1 4.6l.1 4.2l.1 1.4l0 2.1l.1 4.1l.1 4l.1 5.3l.1 4.4l.1 4.3l.1 3.5l.1 1.6l.1 .8l0 .6l.1 .2l.1 1.3l.1 1l.1 1.1l.1 .7l.1 1.5l.1 .3l.1 .9l.1 0l.1 .6l0 .5l.1 -.2l.1 .6l.1 .3l.1 .4l.1 .4l.1 0l.1 .5l.1 .2l0 .1l.1 0l.1 .9l.1 -.2l.1 .6l.1 .3l.1 -.1l.1 .7l.1 -.2l.1 .6l.1 .4l0 -.5l.1 .2l.1 .3l.1 1l.1 -.5l.1 0l.1 .8l.1 -.1l.1 .3l0 -.2l.1 -.2l.1 .5l.1 .1l.1 .1l.1 .3l.1 .2l.1 .5l.1 .2l.1 .1l.1 -.2l0 -.1l.1 .5l.1 .2l.1 .3l.1 -.1l.1 .1l.1 .2l.1 -.2l.1 .2l0 .4l.1 -.4l.1 .4l.1 .3l.1 0l.1 .2l.1 -.3l.1 .3l.1 .1l.1 .3l.1 0l.1 .6l.1 -.3l.1 -.1l.1 0l.1 .2l.1 0l.1 .6l.1 -.2l0 -.1l.1 -.1l.1 0l.1 .3l.1 .5l.1 -.1l.1 -.1l.1 .1l.1 -.4l.1 .7l.1 -.2l0 .4l.1 -.3l.1 0l.1 .2l.1 -.1l.1 .5l.1 -.2l.1 .1l.1 0l0 -.1l.1 .2l.1 -.1l.1 .5l.1 -.4l.1 .1l.1 -.2l.1 .1l.1 0l.1 .5l.1 -.3l0 .2l.1 -.2l.1 0l.1 -.4l.1 .7l.1 .4l.1 -.6l.1 .5l.1 -.2l0 -.3l.1 .4l.1 -.4l.1 .1l.1 .4l.1 -.2l.1 -.3l.1 .7l.1 -.6l.1 .2l.1 0l0 .1l.1 -.2l.1 -.2l.1 .9l.1 -.7l.1 .1l.1 -.4l.1 .7l.1 .3l.1 .4l.1 -.3l.1 -.3l.1 0l.1 .3l.1 -.3l.1 .1l.1 -.3l.1 .3l.1 .5l0 -.6l.1 .2l.1 -.7l.1 1l.1 -.3l.1 .3l.1 -.3l.1 -.2l.1 -.1l0 .4l.1 -.1l.1 -.2l.1 .2l.1 -.1l.1 .3l.1 -.2l.1 -.2l.1 .3l.1 -.1l.1 .5l0 -.5l.1 -.2l.1 .3l.1 0l.1 .1l.1 0l.1 -.3l.1 .3l.1 0l0 -.3l.1 .2l.1 .2l.1 -.4l.1 .1l.1 .2l.1 .1l.1 .1l.1 -.4l.1 .4l.1 .1l0 .2l.1 -.5l.1 -.1l.1 -.1l.1 .5l.1 .2l.1 -.5l.1 .3l.1 .1l0 .1l.1 -.4l.1 .3l.1 -.1l.1 -.3l.1 .4l.1 0l.1 -.3l.1 .3l.1 .4l.1 -.8l0 .5l.1 .1l.1 -.2l.1 .1l.1 -.2l.1 .4l.1 -.5l.1 .2l.1 -.4l0 .5l.1 .1l.1 -.5l.1 .2l.1 .3l.1 -.2l.1 -.2l.1 -.3l.1 .7l.1 .5l.1 -.6l.4 .2l.4 .1l.5 -.1l.5 .1l.4 .1l.4 -.2l.5 .9l.5 .1l.4 -.5l.4 .4l.5 -.6l.5 .2l.4 .4l.4 -.5l.5 0l.5 .5l.4 -.5l.4 .9l.5 -.2l.5 0l.4 .1l.4 -.3l.5 0l.5 .5l.4 .1l.4 -.2l.5 0l.5 0l.4 .5l.4 -.7l.5 .2l.5 .2l.4 -.2l.4 .1l.5 .1l.5 .5l.4 .3l.4 -.3l.5 -.5l.5 .3l.4 .2l.4 0l.5 0l.5 .3l.4 -.6l.4 .4l.5 .2l.5 .2l.4 -.1l.4 0l.5 0l.5 -.1l.4 .3l.4 -.1l.5 0l.5 .5l.4 0l.4 -.3l.5 .2l.5 .2l.4 -.2l.4 0l.5 .2l.5 -.5l.4 .1l.4 .5l.5 0l.5 .3l.4 -.5l.4 .5l.5 0l.5 .3l.4 -.7l.4 .2l.5 .2l.5 0l.4 -.3l.4 .2l.5 -.2l.5 1l.4 -.6l.4 .1l.5 -.2l.5 .2l.4 .3l.4 -.3l.5 .1l.5 .6l.4 -.3l.4 -.1l.5 -.1l.5 .1l.4 -.1l.4 .3l.5 -.2l.5 0l.4 .1l.4 -.1l.5 .3l.5 .6l.4 -.7l.4 -.3l.5 .7l.5 -.2l.4 .5l.4 -.4l.5 .2l.5 -.4l.4 -.2l.4 .4l.5 .2l.5 -.3l.4 -.2l.4 .3l.5 0l.5 .1l.4 .1l.4 .6l.5 -.6l.5 -.1l.4 -.1l.4 .5l.5 -.6l.5 .8l.4 -.3l.4 -.4l.5 .5l.5 -.1l.4 .4l.4 -.7l.5 .5l.5 -.1l.4 .3l.4 -.5l.5 .1l.5 .7l.4 -.3l.4 -.5l.5 .5l.5 -.3l.4 .1l.4 -.1l.5 .5l.5 -.3l.4 .2l.4 0l.5 -.4l.5 .2l.4 .4l.4 -.6l.5 .5l.5 0l.4 .2l.4 0l.5 .1l.5 -.2l.4 .1l.4 -.3l.5 .1l.5 .4l.4 -.4l.4 .5l.5 0l.5 -.5l.4 .4l.4 -.3l.5 .3l.5 -.3l.4 .3l.4 0l.5 -.3l.5 .8l.4 -.2l.4 -.6l.5 .5l.5 -.2l.4 .6l.4 -.5l.5 .1l.5 -.1l.4 .2l.4 -.3l.5 -.1l.5 .1l.4 .1l.4 .2l.5 -.1l.5 -.1l.4 0l.4 -.1l.5 .2l.5 -.5l.4 .5l.4 .3l.5 -.4l.5 0l.4 .1l.4 -.2l.5 0l.5 .4l.4 -.3l.4 .6l.5 -.3l.5 -.2l.4 -.1l.4 0l.5 -.5l.5 .7l.1 .1l.3 -.1l.4 -.2l0 .2l.5 0l.2 -.2l.3 .1l.4 .2l0 -.2l.4 -.2l.3 .1l.2 0l.5 -.5l0 .4l.4 -.1l.4 -.5l0 .1l.5 .8l.1 -.4l.4 .2l.4 -.5l0 .5l.4 -.3l.3 -.3l.2 .2l.5 .2l0 .2l.4 -.6l.3 -.4l.1 -.1l.5 .1l.1 0l.4 -.5l.3 -.5l.1 .1l.4 -.9l.2 -.3l.1 -.8l.2 -.1l.4 -.7l.1 -.6l.1 .2l.3 -1.8l.2 -1.1l.2 -.8l0 -.1l.5 -2.7l0 .1l.3 -1.3l.2 -.6l.2 -2l.2 -.6l.1 -.8l.3 -1.2l.2 .1l.2 -.6l.1 .1l.3 .4l.2 .3l.2 .2l.2 1.1l.2 .9l.2 1l.1 .2l.4 1.9l0 .7l.3 1.2l.2 .9l.2 .5l.2 1.2l.2 -.1l.2 1.1l.1 .1l.4 1.3l0 -.3l.3 .4l.2 -.3l.2 0l.1 .4l.1 -.1l.1 -.1l.3 -.6l.1 -.6l.1 .5l.2 -1.2l.1 0l.3 -1.6l.1 -1.2l.1 -.1l.1 -1l.3 -1.5l.1 -.7l.2 -1.7l.1 -1l0 -.8l.4 -3.9l.1 -.9l.1 -1.2l.1 -1.7l.3 -2.7l.1 -2.4l.3 -3.3l0 -.8l0 -.5l.4 -6.1l.3 -3.2l.1 -.3l.1 -2l.3 -3l.2 -1.3l0 -.3l0 -.1l.4 -.9l.1 .1l.3 .7l0 .1l0 .4l.4 3.1l.1 1.4l.2 2.3l0 .3l.3 2.8l.1 1.7l.3 4.3l0 .5l0 1.1l.4 4.1l0 .8l.3 3.4l.1 1.5l.1 1.4l.2 2.3l.3 2.1l0 .2l.1 1.1l.3 1.8l.3 1.9l.1 1.1l.1 .3l.2 .6l.2 .1l.3 .1l.2 .1l0 -.6l.4 -.1l.1 -.4l.2 -.8l.1 -.5l.5 -2.5l0 .5l.1 -.7l.4 -2.6l.2 -1l.1 -.4l.1 0l.4 -2.5l.2 -.1l0 .2l.3 -.5l.1 -.2l.3 .5l.1 .3l.4 1.8l.2 1.8l.1 -.2l.1 1.6l.5 3.4l.1 .5l.4 2.4l.3 2.2l0 .2l.1 .5l.4 2.7l.2 .3l0 .9l.3 1.2l.4 .6l.1 .4l0 -.3l.4 1.6l.2 .3l.1 .1l.1 0l.5 .8l0 .5l.2 0l.3 -.1l.2 0l.2 .2l.4 0l.1 -.1l.4 .2l.3 .5l.2 0l.4 0l.1 -.3l.3 0l.4 .6l.1 -.3l.5 .4l.2 -.5l.2 .5l.4 -.2l.1 -.1l.4 0l.3 .6l.2 -.3l.4 -.3l.1 .1l.3 -.4l.4 .8l.1 -.1l.5 -.4l.1 .2l.3 -.9l.4 1l0 -.2l.5 0l.5 .1l.4 -.2l.4 -.3l.5 0l.5 .1l.4 .2l.4 -.2l.5 -.2l.5 .2l.4 -.4l.4 .7l.5 -.4l.5 -.4l.4 .2l.4 .2l.5 -.2l.5 .4l.4 -.8l.4 .8l.5 -.4l.5 .2l.4 .3l.4 -.7l.5 -.1l.5 .3l.4 -.3l.4 0l.5 .5l.5 .3l.4 -.4l.4 .3l.5 .8l.5 -.8l.4 -.2l.4 .1l.5 .2l.5 -.2l.4 .3l.4 -.1l.5 .2l.5 -.2l.4 -.1l.4 -.2l.5 0l.5 .2l.4 0l.4 .2l.5 0l.5 -.1l.4 .7l.4 -.5l.5 .3l.5 -.6l.4 .5l.4 .1l.5 -.2l.5 -.3l.4 .6l.4 -.5l.5 -.2l.5 0l.4 .4l.4 -.1l.5 .4l.5 -.1l.4 .2l.4 -.2l.5 -.1l.5 0l.4 -.1l.4 0l.5 0l.5 .3l.4 -.3l.4 .2l.5 .3l.5 -.8l.4 .4l.4 -.1l.5 .3l.5 -.3l.4 .2l.4 .7l.5 -.9l.5 .4l.4 .1l.4 -.2l.5 -.2l.5 .6l.4 -.7l.4 .2l.5 .2l.5 0l.4 .4l.4 -.3l.5 .5l.5 -.4l.4 .4l.4 -.3l.5 -.1l.5 0l.4 .3l.4 -.4l.5 .2l.5 -.2l.4 -.3l.4 .7l.5 0l.5 -.5l.4 .5l.4 -.2l.5 -.4l.5 .3l.4 .4l.4 .1l.5 -.1l.5 .6l.4 -.6l.4 -.3l.5 -.1l.5 .7l.4 -.5l.4 .1l.5 -.1l.5 0l.4 .1l.4 .3l.5 0l.5 0" stroke="#ff8000" stroke-width="1.5" fill="none" stroke-linejoin="round"/>
</g>
<path d="M723.2 457.0H1008.8" stroke="#000" stroke-width="1.6" fill="none"/>
<path d="M724.0 456.2v10.0" stroke="#000" stroke-width="1.6"/>
<text x="724.0" y="482.6" text-anchor="middle" class="tk">20</text>
<path d="M752.4 456.2v5.7" stroke="#000" stroke-width="1.6"/>
<path d="M780.8 456.2v10.0" stroke="#000" stroke-width="1.6"/>
<text x="780.8" y="482.6" text-anchor="middle" class="tk">25</text>
<path d="M809.2 456.2v5.7" stroke="#000" stroke-width="1.6"/>
<path d="M837.6 456.2v10.0" stroke="#000" stroke-width="1.6"/>
<text x="837.6" y="482.6" text-anchor="middle" class="tk">30</text>
<path d="M866.0 456.2v5.7" stroke="#000" stroke-width="1.6"/>
<path d="M894.4 456.2v10.0" stroke="#000" stroke-width="1.6"/>
<text x="894.4" y="482.6" text-anchor="middle" class="tk">35</text>
<path d="M922.8 456.2v5.7" stroke="#000" stroke-width="1.6"/>
<path d="M951.2 456.2v10.0" stroke="#000" stroke-width="1.6"/>
<text x="951.2" y="482.6" text-anchor="middle" class="tk">40</text>
<path d="M979.6 456.2v5.7" stroke="#000" stroke-width="1.6"/>
<path d="M1008.0 456.2v10.0" stroke="#000" stroke-width="1.6"/>
<text x="1008.0" y="482.6" text-anchor="middle" class="tk">45</text>
<text x="866.0" y="516.6" text-anchor="middle" class="at">2<tspan style="font-family:'Liberation Serif',serif">&#920;</tspan>/&#176;</text>
<circle cx="53.8" cy="217.3" r="4.4" fill="#008000"/>
<circle cx="60.6" cy="220.1" r="4.4" fill="#008000"/>
<circle cx="65.5" cy="215.5" r="4.4" fill="#008000"/>
<circle cx="169.2" cy="231.0" r="4.4" fill="#008000"/>
<circle cx="179.3" cy="228.1" r="4.4" fill="#008000"/>
<circle cx="265.7" cy="240.3" r="3.7" fill="#008000"/>
<rect x="74.7" y="169.2" width="7" height="7" fill="#000"/>
<rect x="208.5" y="220.9" width="7" height="7" fill="#000"/>
<rect x="217.5" y="173.7" width="7" height="7" fill="#000"/>
<rect x="226.7" y="220.0" width="7" height="7" fill="#000"/>
<rect x="100.1" y="228.1" width="7" height="7" fill="#ff0000"/>
<rect x="199.5" y="228.1" width="7" height="7" fill="#ff0000"/>
<circle cx="276.2" cy="106.7" r="4.4" fill="#008000"/>
<rect x="272.6" y="128.4" width="7.2" height="7.2" fill="#000"/>
<rect x="272.6" y="148.5" width="7.2" height="7.2" fill="#ff0000"/>

<text x="19" y="67.1" class="tt">(a)</text>
<text x="113" y="67.1" class="tt">2.0 wt% V<tspan class="sub" dy="7">2</tspan><tspan dy="-7">O</tspan><tspan class="sub" dy="7">5</tspan><tspan dy="-7"> / WT</tspan></text>
<text x="382.5" y="67.1" class="tt">(b)</text>
<text x="493" y="67.1" class="tt">3.5 wt% V<tspan class="sub" dy="7">2</tspan><tspan dy="-7">O</tspan><tspan class="sub" dy="7">5</tspan><tspan dy="-7"> / WT</tspan></text>
<text x="733" y="67.1" class="tt">(c)</text>
<text x="823.5" y="66.9" class="tt">Support WT</text>
<text x="299.5" y="112.2" class="lg">WO<tspan class="sub2" dy="6">3</tspan></text>
<text x="299.5" y="138.1" class="lg">Anatase</text>
<text x="299.5" y="158.3" class="lg">Rutile</text>
<text x="308.1" y="248.9" class="tl" style="fill:#ff8000">700&#176;C</text>
<text x="308.1" y="316.8" class="tl" style="fill:#ff0000">650&#176;C</text>
<text x="308.1" y="385.0" class="tl" style="fill:#8000ff">600&#176;C</text>
<text x="308.1" y="452.8" class="tl" style="fill:#0000ff">550&#176;C</text>
<text x="660.6" y="244.6" class="tl" style="fill:#ff8000">700&#176;C</text>
<text x="660.6" y="313.2" class="tl" style="fill:#ff0000">650&#176;C</text>
<text x="660.6" y="380.9" class="tl" style="fill:#8000ff">600&#176;C</text>
<text x="660.6" y="449.1" class="tl" style="fill:#0000ff">550&#176;C</text>

</svg>
</body></html>
